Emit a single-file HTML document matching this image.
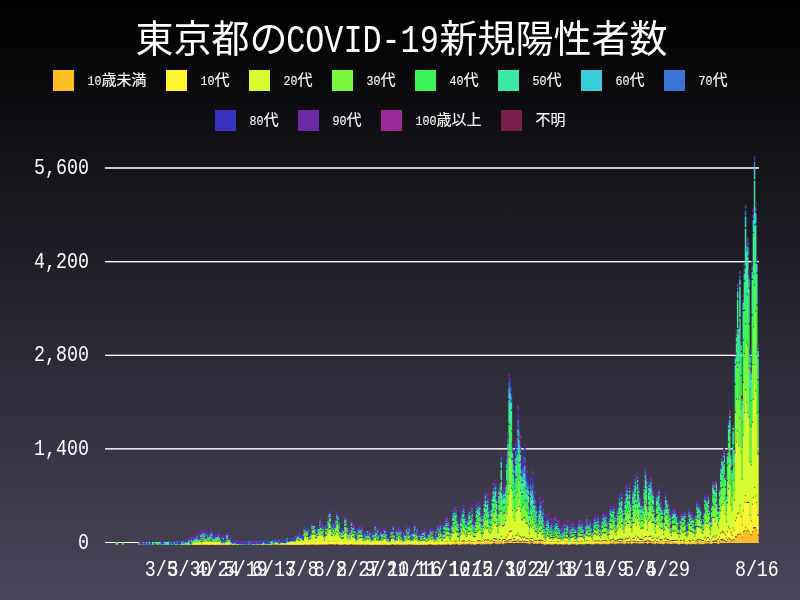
<!DOCTYPE html>
<html lang="ja">
<head>
<meta charset="utf-8">
<title>東京都のCOVID-19新規陽性者数</title>
<style>
html,body{margin:0;padding:0;background:#000;}
body{width:800px;height:600px;overflow:hidden;font-family:"Liberation Mono","Noto Sans CJK JP",monospace;}
.chart{position:relative;width:800px;height:600px;background:linear-gradient(to bottom,#000000 0%,#4a465a 100%);}
svg{position:absolute;left:0;top:0;display:block;}
text{font-family:"Liberation Mono","Noto Sans CJK JP",monospace;fill:#fff;will-change:transform;}
.legend text{stroke:#fff;stroke-width:.1px;}
.grid rect{fill:#fff;}
</style>
</head>
<body>
<div class="chart">
<svg width="800" height="600" viewBox="0 0 800 600">
<g class="grid">
<rect x="105" y="542" width="654" height="1"/>
<rect x="105" y="448" width="654" height="1" fill-opacity="0.86"/>
<rect x="105" y="449" width="654" height="1" fill-opacity="0.55"/>
<rect x="105" y="354" width="654" height="1" fill-opacity="0.33"/>
<rect x="105" y="355" width="654" height="1"/>
<rect x="105" y="261" width="654" height="1"/>
<rect x="105" y="262" width="654" height="1" fill-opacity="0.35"/>
<rect x="105" y="167" width="654" height="1" fill-opacity="0.77"/>
<rect x="105" y="168" width="654" height="1" fill-opacity="0.77"/>
</g>
<g class="bars">
<path fill="#FDBE25" d="M172.86 542.1h1.51V544.83h-1.51zM180.74 542.1h1.51V544.83h-1.51zM187.49 542.1h1.51V544.83h-1.51zM188.62 542.1h1.51V544.77h-1.51zM189.75 542.1h1.51V544.83h-1.51zM193.12 542.1h1.51V544.83h-1.51zM196.5 542.1h1.51V544.63h-1.51zM197.63 542.1h1.51V544.7h-1.51zM198.75 542.1h1.51V544.77h-1.51zM201 542.1h1.51V544.77h-1.51zM203.26 542.1h1.51V544.77h-1.51zM204.38 542.1h1.51V544.57h-1.51zM205.51 542.1h1.51V544.83h-1.51zM206.63 542.1h1.51V544.63h-1.51zM207.76 542.1h1.51V544.83h-1.51zM208.89 542.1h1.51V544.7h-1.51zM210.01 542.1h1.51V544.7h-1.51zM211.14 542.1h1.51V544.5h-1.51zM213.39 542.1h1.51V544.83h-1.51zM214.51 542.1h1.51V544.77h-1.51zM215.64 542.1h1.51V544.63h-1.51zM216.77 542.1h1.51V544.77h-1.51zM217.89 542.1h1.51V544.83h-1.51zM219.02 542.1h1.51V544.83h-1.51zM220.14 542.1h1.51V544.83h-1.51zM222.4 542.1h1.51V544.83h-1.51zM223.52 542.1h1.51V544.83h-1.51zM226.9 542.1h1.51V544.77h-1.51zM228.03 542.1h1.51V544.83h-1.51zM229.15 542.1h1.51V544.77h-1.51zM237.03 542.1h1.51V544.83h-1.51zM248.29 542.1h1.51V544.83h-1.51zM260.68 542.1h1.51V544.83h-1.51zM261.8 542.1h1.51V544.83h-1.51zM266.3 542.1h1.51V544.83h-1.51zM267.43 542.1h1.51V544.83h-1.51zM275.31 542.1h1.51V544.83h-1.51zM277.56 542.1h1.51V544.83h-1.51zM284.32 542.1h1.51V544.83h-1.51zM286.57 542.1h1.51V544.83h-1.51zM288.82 542.1h1.51V544.83h-1.51zM289.95 542.1h1.51V544.77h-1.51zM291.07 542.1h1.51V544.83h-1.51zM292.2 542.1h1.51V544.77h-1.51zM294.45 542.1h1.51V544.83h-1.51zM295.58 542.1h1.51V544.83h-1.51zM296.7 542.1h1.51V544.77h-1.51zM298.95 542.1h1.51V544.83h-1.51zM300.08 542.1h1.51V544.83h-1.51zM301.21 542.1h1.51V544.7h-1.51zM302.33 542.1h1.51V544.7h-1.51zM303.46 542.1h1.51V544.77h-1.51zM304.58 542.1h1.51V544.63h-1.51zM305.71 542.1h1.51V544.83h-1.51zM306.84 542.1h1.51V544.83h-1.51zM307.96 542.1h1.51V544.77h-1.51zM309.09 542.1h1.51V544.77h-1.51zM310.21 542.1h1.51V544.77h-1.51zM311.34 542.1h1.51V544.63h-1.51zM312.46 542.1h1.51V544.5h-1.51zM313.59 542.1h1.51V544.7h-1.51zM314.72 542.1h1.51V544.83h-1.51zM315.84 542.1h1.51V544.63h-1.51zM316.97 542.1h1.51V544.77h-1.51zM318.09 542.1h1.51V544.7h-1.51zM319.22 542.1h1.51V544.77h-1.51zM320.35 542.1h1.51V544.43h-1.51zM321.47 542.1h1.51V544.7h-1.51zM322.6 542.1h1.51V544.77h-1.51zM324.85 542.1h1.51V544.7h-1.51zM325.98 542.1h1.51V544.7h-1.51zM327.1 542.1h1.51V544.63h-1.51zM328.23 542.1h1.51V544.3h-1.51zM329.35 542.1h1.51V544.3h-1.51zM330.48 542.1h1.51V544.57h-1.51zM331.6 542.1h1.51V544.3h-1.51zM332.73 542.1h1.51V544.5h-1.51zM333.86 542.1h1.51V544.63h-1.51zM334.98 542.1h1.51V544.43h-1.51zM336.11 542.1h1.51V544.1h-1.51zM337.23 542.1h1.51V544.7h-1.51zM338.36 542.1h1.51V544.63h-1.51zM339.49 542.1h1.51V544.7h-1.51zM340.61 542.1h1.51V544.83h-1.51zM341.74 542.1h1.51V544.57h-1.51zM342.86 542.1h1.51V544.63h-1.51zM343.99 542.1h1.51V544.3h-1.51zM345.11 542.1h1.51V544.63h-1.51zM346.24 542.1h1.51V544.77h-1.51zM347.37 542.1h1.51V544.83h-1.51zM348.49 542.1h1.51V544.57h-1.51zM349.62 542.1h1.51V544.5h-1.51zM350.74 542.1h1.51V544.37h-1.51zM351.87 542.1h1.51V544.63h-1.51zM353 542.1h1.51V544.5h-1.51zM354.12 542.1h1.51V544.57h-1.51zM355.25 542.1h1.51V544.83h-1.51zM357.5 542.1h1.51V544.83h-1.51zM358.63 542.1h1.51V544.57h-1.51zM359.75 542.1h1.51V544.77h-1.51zM360.88 542.1h1.51V544.63h-1.51zM362 542.1h1.51V544.57h-1.51zM363.13 542.1h1.51V544.63h-1.51zM364.25 542.1h1.51V544.63h-1.51zM365.38 542.1h1.51V544.7h-1.51zM366.51 542.1h1.51V544.57h-1.51zM367.63 542.1h1.51V544.7h-1.51zM368.76 542.1h1.51V544.77h-1.51zM371.01 542.1h1.51V544.83h-1.51zM372.14 542.1h1.51V544.77h-1.51zM373.26 542.1h1.51V544.83h-1.51zM374.39 542.1h1.51V544.7h-1.51zM375.51 542.1h1.51V544.7h-1.51zM376.64 542.1h1.51V544.63h-1.51zM377.76 542.1h1.51V544.7h-1.51zM378.89 542.1h1.51V544.77h-1.51zM380.02 542.1h1.51V544.83h-1.51zM381.14 542.1h1.51V544.7h-1.51zM382.27 542.1h1.51V544.77h-1.51zM383.39 542.1h1.51V544.57h-1.51zM384.52 542.1h1.51V544.77h-1.51zM385.65 542.1h1.51V544.57h-1.51zM386.77 542.1h1.51V544.83h-1.51zM387.9 542.1h1.51V544.83h-1.51zM389.02 542.1h1.51V544.83h-1.51zM390.15 542.1h1.51V544.83h-1.51zM391.28 542.1h1.51V544.16h-1.51zM392.4 542.1h1.51V544.5h-1.51zM393.53 542.1h1.51V544.63h-1.51zM394.65 542.1h1.51V544.77h-1.51zM395.78 542.1h1.51V544.37h-1.51zM396.9 542.1h1.51V544.5h-1.51zM398.03 542.1h1.51V544.77h-1.51zM399.16 542.1h1.51V544.63h-1.51zM400.28 542.1h1.51V544.63h-1.51zM403.66 542.1h1.51V544.43h-1.51zM404.79 542.1h1.51V544.7h-1.51zM405.91 542.1h1.51V544.43h-1.51zM407.04 542.1h1.51V544.7h-1.51zM408.16 542.1h1.51V544.37h-1.51zM409.29 542.1h1.51V544.57h-1.51zM410.41 542.1h1.51V544.7h-1.51zM412.67 542.1h1.51V544.77h-1.51zM413.79 542.1h1.51V544.7h-1.51zM414.92 542.1h1.51V544.77h-1.51zM416.04 542.1h1.51V544.7h-1.51zM417.17 542.1h1.51V544.77h-1.51zM418.3 542.1h1.51V544.83h-1.51zM419.42 542.1h1.51V544.77h-1.51zM420.55 542.1h1.51V544.83h-1.51zM421.67 542.1h1.51V544.77h-1.51zM422.8 542.1h1.51V544.7h-1.51zM423.93 542.1h1.51V544.7h-1.51zM425.05 542.1h1.51V544.77h-1.51zM427.3 542.1h1.51V544.57h-1.51zM428.43 542.1h1.51V544.5h-1.51zM429.55 542.1h1.51V544.57h-1.51zM430.68 542.1h1.51V544.5h-1.51zM432.93 542.1h1.51V544.57h-1.51zM434.06 542.1h1.51V544.77h-1.51zM435.18 542.1h1.51V544.43h-1.51zM436.31 542.1h1.51V544.63h-1.51zM437.44 542.1h1.51V544.83h-1.51zM438.56 542.1h1.51V544.5h-1.51zM439.69 542.1h1.51V544.63h-1.51zM440.81 542.1h1.51V544.77h-1.51zM444.19 542.1h1.51V544.7h-1.51zM445.32 542.1h1.51V544.77h-1.51zM446.44 542.1h1.51V544.5h-1.51zM447.57 542.1h1.51V544.37h-1.51zM448.69 542.1h1.51V544.63h-1.51zM449.82 542.1h1.51V544.77h-1.51zM450.95 542.1h1.51V544.57h-1.51zM452.07 542.1h1.51V544.3h-1.51zM453.2 542.1h1.51V544.57h-1.51zM454.32 542.1h1.51V544.43h-1.51zM455.45 542.1h1.51V544.1h-1.51zM456.58 542.1h1.51V544.3h-1.51zM457.7 542.1h1.51V544.5h-1.51zM458.83 542.1h1.51V544.7h-1.51zM459.95 542.1h1.51V544.23h-1.51zM461.08 542.1h1.51V544.43h-1.51zM462.2 542.1h1.51V544.16h-1.51zM463.33 542.1h1.51V544.37h-1.51zM464.46 542.1h1.51V544.5h-1.51zM465.58 542.1h1.51V544.23h-1.51zM466.71 542.1h1.51V544.37h-1.51zM467.83 542.1h1.51V544.1h-1.51zM468.96 542.1h1.51V543.83h-1.51zM470.09 542.1h1.51V544.57h-1.51zM471.21 542.1h1.51V544.23h-1.51zM472.34 542.1h1.51V544.37h-1.51zM473.46 542.1h1.51V544.77h-1.51zM474.59 542.1h1.51V544.57h-1.51zM475.71 542.1h1.51V544.16h-1.51zM476.84 542.1h1.51V543.96h-1.51zM477.97 542.1h1.51V543.96h-1.51zM479.09 542.1h1.51V544.1h-1.51zM480.22 542.1h1.51V544.23h-1.51zM481.34 542.1h1.51V544.57h-1.51zM482.47 542.1h1.51V544.23h-1.51zM483.6 542.1h1.51V544.37h-1.51zM484.72 542.1h1.51V544.03h-1.51zM485.85 542.1h1.51V544.16h-1.51zM486.97 542.1h1.51V543.63h-1.51zM488.1 542.1h1.51V544.03h-1.51zM489.23 542.1h1.51V544.5h-1.51zM490.35 542.1h1.51V544.03h-1.51zM491.48 542.1h1.51V543.7h-1.51zM492.6 542.1h1.51V543.29h-1.51zM493.73 542.03h1.51V542.9h-1.51zM494.85 542.1h1.51V543.63h-1.51zM495.98 542.1h1.51V543.63h-1.51zM497.11 542.1h1.51V544.23h-1.51zM498.23 542.1h1.51V543.36h-1.51zM499.36 542.1h1.51V544.03h-1.51zM500.48 541.83h1.51V542.9h-1.51zM501.61 542.1h1.51V543.83h-1.51zM502.74 542.1h1.51V544.16h-1.51zM503.86 542.1h1.51V543.36h-1.51zM504.99 542.1h1.51V543.29h-1.51zM506.11 541.49h1.51V542.9h-1.51zM507.24 541.43h1.51V542.9h-1.51zM508.36 540.09h1.51V542.9h-1.51zM509.49 540.56h1.51V542.9h-1.51zM510.62 539.75h1.51V542.9h-1.51zM511.74 541.83h1.51V542.9h-1.51zM512.87 542.1h1.51V543.29h-1.51zM513.99 541.96h1.51V542.9h-1.51zM515.12 541.83h1.51V542.9h-1.51zM516.25 541.56h1.51V542.9h-1.51zM517.37 539.89h1.51V542.9h-1.51zM518.5 542.03h1.51V542.9h-1.51zM519.62 541.83h1.51V542.9h-1.51zM520.75 542.09h1.51V542.9h-1.51zM521.88 541.02h1.51V542.9h-1.51zM523 542.09h1.51V542.9h-1.51zM524.13 541.69h1.51V542.9h-1.51zM525.25 542.1h1.51V543.23h-1.51zM526.38 542.1h1.51V543.23h-1.51zM527.5 542.1h1.51V543.56h-1.51zM528.63 542.1h1.51V544.23h-1.51zM529.76 542.1h1.51V543.36h-1.51zM530.88 541.76h1.51V542.9h-1.51zM532.01 542.1h1.51V543.03h-1.51zM533.13 542.1h1.51V543.9h-1.51zM534.26 542.1h1.51V543.83h-1.51zM535.39 542.1h1.51V543.83h-1.51zM536.51 542.1h1.51V544.03h-1.51zM537.64 542.1h1.51V543.7h-1.51zM538.76 542.1h1.51V543.7h-1.51zM539.89 542.1h1.51V543.29h-1.51zM541.01 542.1h1.51V543.9h-1.51zM542.14 542.1h1.51V543.76h-1.51zM543.27 542.1h1.51V544.43h-1.51zM544.39 542.1h1.51V544.63h-1.51zM545.52 542.1h1.51V544.03h-1.51zM546.64 542.1h1.51V544.43h-1.51zM547.77 542.1h1.51V544.1h-1.51zM548.9 542.1h1.51V544.16h-1.51zM550.02 542.1h1.51V544.43h-1.51zM551.15 542.1h1.51V544.43h-1.51zM552.27 542.1h1.51V544.23h-1.51zM553.4 542.1h1.51V544.37h-1.51zM554.53 542.1h1.51V544.1h-1.51zM555.65 542.1h1.51V543.96h-1.51zM556.78 542.1h1.51V544.5h-1.51zM557.9 542.1h1.51V544.57h-1.51zM559.03 542.1h1.51V544.1h-1.51zM560.15 542.1h1.51V544.37h-1.51zM561.28 542.1h1.51V544.57h-1.51zM562.41 542.1h1.51V544.7h-1.51zM563.53 542.1h1.51V544.23h-1.51zM564.66 542.1h1.51V544.5h-1.51zM565.78 542.1h1.51V544.16h-1.51zM566.91 542.1h1.51V544.16h-1.51zM568.04 542.1h1.51V544.7h-1.51zM569.16 542.1h1.51V544.43h-1.51zM570.29 542.1h1.51V544.3h-1.51zM571.41 542.1h1.51V544.16h-1.51zM572.54 542.1h1.51V544.03h-1.51zM573.66 542.1h1.51V544.57h-1.51zM574.79 542.1h1.51V544.23h-1.51zM575.92 542.1h1.51V544.77h-1.51zM577.04 542.1h1.51V544.3h-1.51zM578.17 542.1h1.51V544.23h-1.51zM579.29 542.1h1.51V544.3h-1.51zM580.42 542.1h1.51V543.96h-1.51zM581.55 542.1h1.51V544.43h-1.51zM582.67 542.1h1.51V544.37h-1.51zM583.8 542.1h1.51V544.5h-1.51zM584.92 542.1h1.51V544.1h-1.51zM586.05 542.1h1.51V544.03h-1.51zM587.18 542.1h1.51V543.9h-1.51zM588.3 542.1h1.51V544.1h-1.51zM589.43 542.1h1.51V543.76h-1.51zM590.55 542.1h1.51V544.16h-1.51zM591.68 542.1h1.51V544.57h-1.51zM592.8 542.1h1.51V544.03h-1.51zM593.93 542.1h1.51V544.3h-1.51zM595.06 542.1h1.51V544.37h-1.51zM596.18 542.1h1.51V544.03h-1.51zM597.31 542.1h1.51V543.63h-1.51zM598.43 542.1h1.51V544.37h-1.51zM599.56 542.1h1.51V544.23h-1.51zM600.69 542.1h1.51V544.1h-1.51zM601.81 542.1h1.51V544.23h-1.51zM602.94 542.1h1.51V543.9h-1.51zM604.06 542.1h1.51V543.96h-1.51zM605.19 542.1h1.51V544.16h-1.51zM606.31 542.1h1.51V544.16h-1.51zM607.44 542.1h1.51V544.23h-1.51zM608.57 542.1h1.51V543.9h-1.51zM609.69 542.1h1.51V543.16h-1.51zM610.82 542.1h1.51V543.83h-1.51zM611.94 542.1h1.51V544.1h-1.51zM613.07 542.1h1.51V543.09h-1.51zM614.2 542.1h1.51V544.23h-1.51zM615.32 542.1h1.51V543.96h-1.51zM616.45 542.1h1.51V543.23h-1.51zM617.57 542.1h1.51V543.76h-1.51zM618.7 542.1h1.51V543.36h-1.51zM619.83 542.1h1.51V543.23h-1.51zM620.95 542.1h1.51V543.56h-1.51zM622.08 542.1h1.51V543.16h-1.51zM623.2 542.1h1.51V544.3h-1.51zM624.33 542.1h1.51V543.9h-1.51zM625.45 542.1h1.51V543.09h-1.51zM626.58 542.1h1.51V543.16h-1.51zM627.71 542.1h1.51V543.83h-1.51zM628.83 542.1h1.51V543.09h-1.51zM629.96 542.1h1.51V543.29h-1.51zM631.08 542.1h1.51V544.16h-1.51zM632.21 542.1h1.51V543.29h-1.51zM633.34 541.49h1.51V542.9h-1.51zM634.46 542.1h1.51V542.96h-1.51zM635.59 542.1h1.51V543.5h-1.51zM636.71 542.1h1.51V543.29h-1.51zM637.84 542.1h1.51V543.16h-1.51zM638.96 542.1h1.51V543.7h-1.51zM640.09 542.1h1.51V543.5h-1.51zM641.22 542.1h1.51V543.5h-1.51zM642.34 542.1h1.51V543.76h-1.51zM643.47 542.1h1.51V543.09h-1.51zM644.59 541.89h1.51V542.9h-1.51zM645.72 541.89h1.51V542.9h-1.51zM646.85 542.1h1.51V543.96h-1.51zM647.97 541.43h1.51V542.9h-1.51zM649.1 541.96h1.51V542.9h-1.51zM650.22 541.76h1.51V542.9h-1.51zM651.35 542.1h1.51V543.63h-1.51zM652.48 542.1h1.51V543.03h-1.51zM653.6 542.1h1.51V543.7h-1.51zM654.73 542.1h1.51V544.16h-1.51zM655.85 542.1h1.51V542.96h-1.51zM656.98 542.1h1.51V543.7h-1.51zM658.1 542.1h1.51V543.29h-1.51zM659.23 542.1h1.51V543.96h-1.51zM660.36 542.1h1.51V543.7h-1.51zM661.48 542.1h1.51V544.03h-1.51zM662.61 542.1h1.51V544.3h-1.51zM663.73 542.1h1.51V543.83h-1.51zM664.86 542.1h1.51V543.16h-1.51zM665.99 542.1h1.51V543.43h-1.51zM667.11 542.1h1.51V543.63h-1.51zM668.24 542.1h1.51V543.36h-1.51zM669.36 542.1h1.51V544.1h-1.51zM670.49 542.1h1.51V543.96h-1.51zM671.61 542.1h1.51V543.83h-1.51zM672.74 542.1h1.51V543.83h-1.51zM673.87 542.1h1.51V543.83h-1.51zM674.99 542.1h1.51V543.83h-1.51zM676.12 542.1h1.51V543.63h-1.51zM677.24 542.1h1.51V543.9h-1.51zM678.37 542.1h1.51V544.57h-1.51zM679.5 542.1h1.51V544.03h-1.51zM680.62 542.1h1.51V543.9h-1.51zM681.75 542.1h1.51V543.96h-1.51zM682.87 542.1h1.51V543.76h-1.51zM684 542.1h1.51V543.63h-1.51zM685.13 542.1h1.51V544.16h-1.51zM686.25 542.1h1.51V544.57h-1.51zM687.38 542.1h1.51V543.83h-1.51zM688.5 542.1h1.51V543.9h-1.51zM689.63 542.1h1.51V544.3h-1.51zM690.75 542.1h1.51V544.23h-1.51zM691.88 542.1h1.51V543.9h-1.51zM693.01 542.1h1.51V543.9h-1.51zM694.13 542.1h1.51V544.37h-1.51zM695.26 542.1h1.51V544.37h-1.51zM696.38 542.1h1.51V543.56h-1.51zM697.51 542.1h1.51V543.36h-1.51zM698.64 542.1h1.51V544.3h-1.51zM699.76 542.1h1.51V543.76h-1.51zM700.89 542.1h1.51V544.03h-1.51zM702.01 542.1h1.51V544.3h-1.51zM703.14 542.1h1.51V544.16h-1.51zM704.26 542.1h1.51V543.43h-1.51zM705.39 542.1h1.51V543.5h-1.51zM706.52 542.1h1.51V543.56h-1.51zM707.64 542.1h1.51V543.36h-1.51zM708.77 542.1h1.51V543.16h-1.51zM709.89 542.1h1.51V544.03h-1.51zM711.02 542.1h1.51V543.7h-1.51zM712.15 541.89h1.51V542.9h-1.51zM713.27 541.76h1.51V542.9h-1.51zM714.4 541.56h1.51V542.9h-1.51zM715.52 541.43h1.51V542.9h-1.51zM716.65 542.1h1.51V543.56h-1.51zM717.78 542.1h1.51V543.9h-1.51zM718.9 541.69h1.51V542.9h-1.51zM720.03 540.22h1.51V542.9h-1.51zM721.15 540.15h1.51V542.9h-1.51zM722.28 540.56h1.51V542.9h-1.51zM723.4 540.69h1.51V542.9h-1.51zM724.53 541.49h1.51V542.9h-1.51zM725.66 542.1h1.51V542.96h-1.51zM726.78 540.22h1.51V542.9h-1.51zM727.91 538.62h1.51V542.9h-1.51zM729.03 539.42h1.51V542.9h-1.51zM730.16 540.49h1.51V542.9h-1.51zM731.29 541.49h1.51V542.9h-1.51zM732.41 539.75h1.51V542.9h-1.51zM733.54 540.49h1.51V542.9h-1.51zM734.66 537.28h1.51V542.9h-1.51zM735.79 537.48h1.51V542.9h-1.51zM736.91 535.27h1.51V542.9h-1.51zM738.04 535.07h1.51V542.9h-1.51zM739.17 533.6h1.51V542.9h-1.51zM740.29 534.87h1.51V542.9h-1.51zM741.42 537.68h1.51V542.9h-1.51zM742.54 532.26h1.51V542.9h-1.51zM743.67 531.13h1.51V542.9h-1.51zM744.8 527.85h1.51V542.9h-1.51zM745.92 531.93h1.51V542.9h-1.51zM747.05 530.39h1.51V542.9h-1.51zM748.17 532.33h1.51V542.9h-1.51zM749.3 534.74h1.51V542.9h-1.51zM750.43 535.54h1.51V542.9h-1.51zM751.55 532.2h1.51V542.9h-1.51zM752.68 528.38h1.51V542.9h-1.51zM753.8 528.18h1.51V542.9h-1.51zM754.93 528.25h1.51V542.9h-1.51zM756.05 530.66h1.51V542.9h-1.51zM757.18 535.61h1.51V542.9h-1.51z"/>
<path fill="#FFF432" d="M179.61 542.1h1.51V544.83h-1.51zM180.74 542.03h1.51V544.77h-1.51zM188.62 541.97h1.51V544.63h-1.51zM189.75 542.03h1.51V544.77h-1.51zM192 542.1h1.51V544.83h-1.51zM193.12 542.03h1.51V544.77h-1.51zM194.25 542.1h1.51V544.7h-1.51zM195.38 542.1h1.51V544.83h-1.51zM196.5 541.83h1.51V544.43h-1.51zM197.63 541.9h1.51V544.57h-1.51zM198.75 541.97h1.51V544.7h-1.51zM199.88 542.1h1.51V544.7h-1.51zM202.13 542.1h1.51V544.7h-1.51zM203.26 541.97h1.51V544.43h-1.51zM204.38 541.77h1.51V544.37h-1.51zM205.51 542.03h1.51V544.77h-1.51zM206.63 541.83h1.51V544.5h-1.51zM207.76 542.03h1.51V544.77h-1.51zM208.89 541.9h1.51V544.5h-1.51zM210.01 541.9h1.51V544.5h-1.51zM211.14 541.7h1.51V544.43h-1.51zM212.26 542.1h1.51V544.77h-1.51zM213.39 542.03h1.51V544.77h-1.51zM214.51 541.97h1.51V544.7h-1.51zM215.64 541.83h1.51V544.5h-1.51zM216.77 541.97h1.51V544.5h-1.51zM217.89 542.03h1.51V544.37h-1.51zM219.02 542.03h1.51V544.7h-1.51zM221.27 542.1h1.51V544.83h-1.51zM222.4 542.03h1.51V544.63h-1.51zM223.52 542.03h1.51V544.77h-1.51zM224.65 542.1h1.51V544.83h-1.51zM225.77 542.1h1.51V544.83h-1.51zM226.9 541.97h1.51V544.63h-1.51zM228.03 542.03h1.51V544.63h-1.51zM229.15 541.97h1.51V544.43h-1.51zM231.4 542.1h1.51V544.83h-1.51zM232.53 542.1h1.51V544.83h-1.51zM233.65 542.1h1.51V544.83h-1.51zM237.03 542.03h1.51V544.77h-1.51zM240.41 542.1h1.51V544.77h-1.51zM242.66 542.1h1.51V544.83h-1.51zM253.92 542.1h1.51V544.83h-1.51zM261.8 542.03h1.51V544.77h-1.51zM264.05 542.1h1.51V544.83h-1.51zM270.81 542.1h1.51V544.83h-1.51zM273.06 542.1h1.51V544.83h-1.51zM275.31 542.03h1.51V544.43h-1.51zM277.56 542.03h1.51V544.77h-1.51zM279.81 542.1h1.51V544.83h-1.51zM280.94 542.1h1.51V544.77h-1.51zM282.07 542.1h1.51V544.7h-1.51zM283.19 542.1h1.51V544.77h-1.51zM285.44 542.1h1.51V544.7h-1.51zM286.57 542.03h1.51V544.7h-1.51zM287.7 542.1h1.51V544.83h-1.51zM288.82 542.03h1.51V544.7h-1.51zM289.95 541.97h1.51V544.7h-1.51zM291.07 542.03h1.51V544.57h-1.51zM292.2 541.97h1.51V544.63h-1.51zM293.33 542.1h1.51V544.7h-1.51zM294.45 542.03h1.51V544.7h-1.51zM295.58 542.03h1.51V544.77h-1.51zM296.7 541.97h1.51V544.57h-1.51zM297.83 542.1h1.51V544.7h-1.51zM298.95 542.03h1.51V544.7h-1.51zM300.08 542.03h1.51V544.5h-1.51zM301.21 541.9h1.51V544.43h-1.51zM302.33 541.9h1.51V544.5h-1.51zM303.46 541.97h1.51V544.23h-1.51zM304.58 541.83h1.51V543.96h-1.51zM305.71 542.03h1.51V544.16h-1.51zM306.84 542.03h1.51V544.43h-1.51zM307.96 541.97h1.51V544.57h-1.51zM309.09 541.97h1.51V544.57h-1.51zM310.21 541.97h1.51V544.1h-1.51zM311.34 541.83h1.51V544.23h-1.51zM312.46 541.7h1.51V543.83h-1.51zM313.59 541.9h1.51V543.96h-1.51zM314.72 542.03h1.51V544.5h-1.51zM315.84 541.83h1.51V544.3h-1.51zM316.97 541.97h1.51V544.37h-1.51zM318.09 541.9h1.51V544.3h-1.51zM319.22 541.97h1.51V543.9h-1.51zM320.35 541.63h1.51V544.16h-1.51zM321.47 541.9h1.51V543.83h-1.51zM322.6 541.97h1.51V544.3h-1.51zM323.72 542.1h1.51V544.23h-1.51zM324.85 541.9h1.51V543.9h-1.51zM325.98 541.9h1.51V543.9h-1.51zM327.1 541.83h1.51V543.63h-1.51zM328.23 541.5h1.51V543.29h-1.51zM329.35 541.5h1.51V543.43h-1.51zM330.48 541.77h1.51V544.03h-1.51zM331.6 541.5h1.51V543.83h-1.51zM332.73 541.7h1.51V543.5h-1.51zM333.86 541.83h1.51V543.96h-1.51zM334.98 541.63h1.51V543.9h-1.51zM336.11 541.3h1.51V543.16h-1.51zM337.23 541.9h1.51V543.43h-1.51zM338.36 541.83h1.51V544.03h-1.51zM339.49 541.9h1.51V544.23h-1.51zM340.61 542.03h1.51V544.5h-1.51zM341.74 541.77h1.51V544.03h-1.51zM342.86 541.83h1.51V544.37h-1.51zM343.99 541.5h1.51V543.43h-1.51zM345.11 541.83h1.51V543.9h-1.51zM346.24 541.97h1.51V544.3h-1.51zM347.37 542.03h1.51V544.5h-1.51zM348.49 541.77h1.51V543.9h-1.51zM349.62 541.7h1.51V544.3h-1.51zM350.74 541.57h1.51V543.9h-1.51zM351.87 541.83h1.51V544.23h-1.51zM353 541.7h1.51V544.03h-1.51zM354.12 541.77h1.51V544.23h-1.51zM355.25 542.03h1.51V544.57h-1.51zM356.37 542.1h1.51V544.5h-1.51zM357.5 542.03h1.51V544.43h-1.51zM358.63 541.77h1.51V544.3h-1.51zM359.75 541.97h1.51V544.16h-1.51zM360.88 541.83h1.51V544.43h-1.51zM362 541.77h1.51V544.1h-1.51zM363.13 541.83h1.51V544.16h-1.51zM364.25 541.83h1.51V544.43h-1.51zM365.38 541.9h1.51V544.37h-1.51zM366.51 541.77h1.51V544.3h-1.51zM367.63 541.9h1.51V544.37h-1.51zM368.76 541.97h1.51V544.23h-1.51zM369.88 542.1h1.51V544.77h-1.51zM371.01 542.03h1.51V544.7h-1.51zM372.14 541.97h1.51V544.37h-1.51zM373.26 542.03h1.51V544.7h-1.51zM374.39 541.9h1.51V544.1h-1.51zM375.51 541.9h1.51V544.5h-1.51zM376.64 541.83h1.51V544.16h-1.51zM377.76 541.9h1.51V544.5h-1.51zM378.89 541.97h1.51V544.63h-1.51zM380.02 542.03h1.51V544.3h-1.51zM381.14 541.9h1.51V544.3h-1.51zM382.27 541.97h1.51V544.43h-1.51zM383.39 541.77h1.51V544.16h-1.51zM384.52 541.97h1.51V544.16h-1.51zM385.65 541.77h1.51V544.23h-1.51zM386.77 542.03h1.51V544.63h-1.51zM387.9 542.03h1.51V544.57h-1.51zM389.02 542.03h1.51V544.63h-1.51zM390.15 542.03h1.51V544.16h-1.51zM391.28 541.36h1.51V543.76h-1.51zM392.4 541.7h1.51V543.96h-1.51zM393.53 541.83h1.51V544.3h-1.51zM394.65 541.97h1.51V544.63h-1.51zM395.78 541.57h1.51V544.16h-1.51zM396.9 541.7h1.51V544.03h-1.51zM398.03 541.97h1.51V544.23h-1.51zM399.16 541.83h1.51V544.16h-1.51zM400.28 541.83h1.51V544.3h-1.51zM401.41 542.1h1.51V544.57h-1.51zM402.53 542.1h1.51V544.7h-1.51zM403.66 541.63h1.51V544.16h-1.51zM404.79 541.9h1.51V544.5h-1.51zM405.91 541.63h1.51V543.83h-1.51zM407.04 541.9h1.51V544.3h-1.51zM408.16 541.57h1.51V543.83h-1.51zM409.29 541.77h1.51V543.9h-1.51zM410.41 541.9h1.51V544.43h-1.51zM411.54 542.1h1.51V544.43h-1.51zM412.67 541.97h1.51V544.3h-1.51zM413.79 541.9h1.51V544.23h-1.51zM414.92 541.97h1.51V544.57h-1.51zM416.04 541.9h1.51V544.3h-1.51zM417.17 541.97h1.51V544.43h-1.51zM418.3 542.03h1.51V544.63h-1.51zM419.42 541.97h1.51V544.5h-1.51zM420.55 542.03h1.51V544.37h-1.51zM421.67 541.97h1.51V544.16h-1.51zM422.8 541.9h1.51V544.5h-1.51zM423.93 541.9h1.51V544.03h-1.51zM425.05 541.97h1.51V544.57h-1.51zM426.18 542.1h1.51V544.63h-1.51zM427.3 541.77h1.51V544.23h-1.51zM428.43 541.7h1.51V544.1h-1.51zM429.55 541.77h1.51V543.83h-1.51zM430.68 541.7h1.51V544.03h-1.51zM431.81 542.1h1.51V544.7h-1.51zM432.93 541.77h1.51V544.16h-1.51zM434.06 541.97h1.51V544.63h-1.51zM435.18 541.63h1.51V544.16h-1.51zM436.31 541.83h1.51V544.37h-1.51zM437.44 542.03h1.51V543.76h-1.51zM438.56 541.7h1.51V543.76h-1.51zM439.69 541.83h1.51V544.16h-1.51zM440.81 541.97h1.51V544.23h-1.51zM441.94 542.1h1.51V544.5h-1.51zM443.06 542.1h1.51V544.57h-1.51zM444.19 541.9h1.51V543.76h-1.51zM445.32 541.97h1.51V543.76h-1.51zM446.44 541.7h1.51V543.29h-1.51zM447.57 541.57h1.51V543.36h-1.51zM448.69 541.83h1.51V543.96h-1.51zM449.82 541.97h1.51V544.43h-1.51zM450.95 541.77h1.51V543.7h-1.51zM452.07 541.5h1.51V542.96h-1.51zM453.2 541.77h1.51V543.43h-1.51zM454.32 541.63h1.51V542.69h-1.51zM455.45 541.3h1.51V542.56h-1.51zM456.58 541.5h1.51V543.36h-1.51zM457.7 541.7h1.51V543.63h-1.51zM458.83 541.9h1.51V544.5h-1.51zM459.95 541.43h1.51V543.29h-1.51zM461.08 541.63h1.51V543.09h-1.51zM462.2 541.22h1.51V542.16h-1.51zM463.33 541.56h1.51V542.37h-1.51zM464.46 541.7h1.51V543.36h-1.51zM465.58 541.43h1.51V543.36h-1.51zM466.71 541.57h1.51V543.09h-1.51zM467.83 541.3h1.51V542.49h-1.51zM468.96 541.03h1.51V542.09h-1.51zM470.09 541.77h1.51V543.03h-1.51zM471.21 541.43h1.51V542.63h-1.51zM472.34 541.57h1.51V543.23h-1.51zM473.46 541.97h1.51V543.56h-1.51zM474.59 541.77h1.51V543.83h-1.51zM475.71 541.36h1.51V543.23h-1.51zM476.84 541.16h1.51V542.36h-1.51zM477.97 541.16h1.51V542.09h-1.51zM479.09 541.3h1.51V542.16h-1.51zM480.22 541.43h1.51V542.43h-1.51zM481.34 541.77h1.51V543.56h-1.51zM482.47 541.43h1.51V543.16h-1.51zM483.6 540.96h1.51V542.37h-1.51zM484.72 540.22h1.51V542.03h-1.51zM485.85 541.36h1.51V542.36h-1.51zM486.97 540.22h1.51V541.63h-1.51zM488.1 540.69h1.51V542.03h-1.51zM489.23 541.7h1.51V542.69h-1.51zM490.35 541.23h1.51V542.16h-1.51zM491.48 540.62h1.51V541.7h-1.51zM492.6 539.08h1.51V541.29h-1.51zM493.73 539.15h1.51V540.83h-1.51zM494.85 539.75h1.51V541.63h-1.51zM495.98 539.69h1.51V541.63h-1.51zM497.11 541.43h1.51V542.36h-1.51zM498.23 540.09h1.51V541.36h-1.51zM499.36 540.09h1.51V542.03h-1.51zM500.48 537.01h1.51V540.63h-1.51zM501.61 540.96h1.51V541.83h-1.51zM502.74 540.09h1.51V542.16h-1.51zM503.86 540.15h1.51V541.36h-1.51zM504.99 539.69h1.51V541.29h-1.51zM506.11 537.21h1.51V540.29h-1.51zM507.24 535.67h1.51V540.23h-1.51zM508.36 532.4h1.51V538.89h-1.51zM509.49 532h1.51V539.36h-1.51zM510.62 531.46h1.51V538.55h-1.51zM511.74 536.74h1.51V540.63h-1.51zM512.87 539.15h1.51V541.29h-1.51zM513.99 539.15h1.51V540.76h-1.51zM515.12 536.34h1.51V540.63h-1.51zM516.25 535.67h1.51V540.36h-1.51zM517.37 533.47h1.51V538.69h-1.51zM518.5 536.41h1.51V540.83h-1.51zM519.62 537.28h1.51V540.63h-1.51zM520.75 538.48h1.51V540.89h-1.51zM521.88 537.48h1.51V539.82h-1.51zM523 538.08h1.51V540.89h-1.51zM524.13 537.55h1.51V540.49h-1.51zM525.25 539.35h1.51V541.23h-1.51zM526.38 539.02h1.51V541.23h-1.51zM527.5 539.69h1.51V541.56h-1.51zM528.63 541.16h1.51V542.23h-1.51zM529.76 539.28h1.51V541.36h-1.51zM530.88 539.08h1.51V540.56h-1.51zM532.01 538.82h1.51V541.03h-1.51zM533.13 540.62h1.51V541.9h-1.51zM534.26 541.03h1.51V541.89h-1.51zM535.39 540.96h1.51V541.83h-1.51zM536.51 541.23h1.51V542.83h-1.51zM537.64 540.9h1.51V541.89h-1.51zM538.76 540.9h1.51V541.76h-1.51zM539.89 540.5h1.51V541.42h-1.51zM541.01 541.1h1.51V542.09h-1.51zM542.14 540.96h1.51V542.09h-1.51zM543.27 541.63h1.51V543.29h-1.51zM544.39 541.83h1.51V543.56h-1.51zM545.52 541.23h1.51V542.83h-1.51zM546.64 541.63h1.51V543.63h-1.51zM547.77 541.3h1.51V543.29h-1.51zM548.9 541.36h1.51V543.03h-1.51zM550.02 541.63h1.51V543.5h-1.51zM551.15 541.63h1.51V543.23h-1.51zM552.27 541.43h1.51V543.7h-1.51zM553.4 541.57h1.51V543.09h-1.51zM554.53 541.3h1.51V543.23h-1.51zM555.65 541.16h1.51V542.63h-1.51zM556.78 541.7h1.51V543.29h-1.51zM557.9 541.77h1.51V543.29h-1.51zM559.03 541.3h1.51V543.43h-1.51zM560.15 541.57h1.51V543.83h-1.51zM561.28 541.77h1.51V543.83h-1.51zM562.41 541.9h1.51V544.03h-1.51zM563.53 541.43h1.51V543.09h-1.51zM564.66 541.7h1.51V543.76h-1.51zM565.78 541.36h1.51V543.09h-1.51zM566.91 541.36h1.51V543.09h-1.51zM568.04 541.9h1.51V544.23h-1.51zM569.16 541.63h1.51V543.96h-1.51zM570.29 541.5h1.51V543.36h-1.51zM571.41 541.36h1.51V543.23h-1.51zM572.54 541.23h1.51V543.56h-1.51zM573.66 541.77h1.51V543.36h-1.51zM574.79 541.43h1.51V543.29h-1.51zM575.92 541.97h1.51V544.23h-1.51zM577.04 541.5h1.51V543.16h-1.51zM578.17 541.43h1.51V543.23h-1.51zM579.29 541.5h1.51V543.23h-1.51zM580.42 541.16h1.51V542.56h-1.51zM581.55 541.63h1.51V543.29h-1.51zM582.67 541.57h1.51V543.63h-1.51zM583.8 541.7h1.51V543.9h-1.51zM584.92 541.3h1.51V542.76h-1.51zM586.05 541.09h1.51V542.03h-1.51zM587.18 541.1h1.51V542.63h-1.51zM588.3 541.3h1.51V542.83h-1.51zM589.43 540.96h1.51V542.63h-1.51zM590.55 541.36h1.51V543.43h-1.51zM591.68 541.77h1.51V543.83h-1.51zM592.8 541.23h1.51V542.69h-1.51zM593.93 541.5h1.51V542.76h-1.51zM595.06 541.22h1.51V542.37h-1.51zM596.18 541.23h1.51V542.69h-1.51zM597.31 540.83h1.51V542.02h-1.51zM598.43 541.57h1.51V542.56h-1.51zM599.56 541.43h1.51V543.03h-1.51zM600.69 541.3h1.51V542.56h-1.51zM601.81 541.43h1.51V542.43h-1.51zM602.94 541.1h1.51V542.36h-1.51zM604.06 541.02h1.51V541.96h-1.51zM605.19 541.36h1.51V542.36h-1.51zM606.31 541.36h1.51V542.43h-1.51zM607.44 541.43h1.51V543.29h-1.51zM608.57 540.96h1.51V541.9h-1.51zM609.69 540.36h1.51V541.42h-1.51zM610.82 540.96h1.51V541.83h-1.51zM611.94 539.95h1.51V542.1h-1.51zM613.07 539.82h1.51V541.09h-1.51zM614.2 541.29h1.51V542.23h-1.51zM615.32 541.16h1.51V542.16h-1.51zM616.45 540.43h1.51V541.29h-1.51zM617.57 540.56h1.51V541.76h-1.51zM618.7 539.75h1.51V541.36h-1.51zM619.83 539.49h1.51V541.23h-1.51zM620.95 540.02h1.51V541.56h-1.51zM622.08 539.95h1.51V541.16h-1.51zM623.2 540.96h1.51V542.3h-1.51zM624.33 539.69h1.51V541.9h-1.51zM625.45 538.75h1.51V541.09h-1.51zM626.58 539.49h1.51V541.16h-1.51zM627.71 538.75h1.51V541.83h-1.51zM628.83 537.61h1.51V541.09h-1.51zM629.96 539.62h1.51V541.29h-1.51zM631.08 541.36h1.51V542.49h-1.51zM632.21 538.95h1.51V541.29h-1.51zM633.34 538.95h1.51V540.29h-1.51zM634.46 536.81h1.51V540.96h-1.51zM635.59 539.82h1.51V541.5h-1.51zM636.71 537.48h1.51V541.29h-1.51zM637.84 538.48h1.51V541.16h-1.51zM638.96 539.82h1.51V541.7h-1.51zM640.09 540.02h1.51V541.5h-1.51zM641.22 540.02h1.51V541.5h-1.51zM642.34 540.42h1.51V541.76h-1.51zM643.47 538.15h1.51V541.09h-1.51zM644.59 536.94h1.51V540.69h-1.51zM645.72 537.35h1.51V540.69h-1.51zM646.85 540.89h1.51V541.96h-1.51zM647.97 537.35h1.51V540.23h-1.51zM649.1 537.01h1.51V540.76h-1.51zM650.22 536.81h1.51V540.56h-1.51zM651.35 539.08h1.51V541.63h-1.51zM652.48 538.68h1.51V541.03h-1.51zM653.6 540.9h1.51V542.16h-1.51zM654.73 541.36h1.51V542.49h-1.51zM655.85 538.82h1.51V540.96h-1.51zM656.98 539.42h1.51V541.7h-1.51zM658.1 537.75h1.51V541.29h-1.51zM659.23 540.15h1.51V541.96h-1.51zM660.36 540.42h1.51V541.7h-1.51zM661.48 540.49h1.51V542.03h-1.51zM662.61 541.5h1.51V542.96h-1.51zM663.73 539.89h1.51V541.83h-1.51zM664.86 538.75h1.51V541.16h-1.51zM665.99 540.29h1.51V541.43h-1.51zM667.11 540.02h1.51V541.63h-1.51zM668.24 540.42h1.51V541.36h-1.51zM669.36 541.3h1.51V542.49h-1.51zM670.49 541.16h1.51V542.23h-1.51zM671.61 540.89h1.51V541.83h-1.51zM672.74 541.03h1.51V541.96h-1.51zM673.87 541.03h1.51V541.89h-1.51zM674.99 541.03h1.51V541.96h-1.51zM676.12 540.83h1.51V542.36h-1.51zM677.24 541.1h1.51V542.09h-1.51zM678.37 541.77h1.51V543.7h-1.51zM679.5 541.02h1.51V542.03h-1.51zM680.62 541.1h1.51V542.09h-1.51zM681.75 541.16h1.51V542.76h-1.51zM682.87 540.76h1.51V541.76h-1.51zM684 540.62h1.51V541.63h-1.51zM685.13 541.36h1.51V542.89h-1.51zM686.25 541.77h1.51V543.5h-1.51zM687.38 541.03h1.51V542.69h-1.51zM688.5 541.09h1.51V541.9h-1.51zM689.63 541.43h1.51V542.3h-1.51zM690.75 541.43h1.51V542.89h-1.51zM691.88 540.42h1.51V541.9h-1.51zM693.01 541.1h1.51V541.96h-1.51zM694.13 541.57h1.51V542.96h-1.51zM695.26 541.43h1.51V542.37h-1.51zM696.38 540.42h1.51V541.56h-1.51zM697.51 540.02h1.51V541.36h-1.51zM698.64 540.82h1.51V542.3h-1.51zM699.76 540.22h1.51V541.76h-1.51zM700.89 541.23h1.51V542.36h-1.51zM702.01 541.22h1.51V542.3h-1.51zM703.14 540.96h1.51V542.16h-1.51zM704.26 537.75h1.51V541.43h-1.51zM705.39 539.82h1.51V541.5h-1.51zM706.52 538.42h1.51V541.56h-1.51zM707.64 538.08h1.51V541.36h-1.51zM708.77 540.02h1.51V541.16h-1.51zM709.89 541.23h1.51V542.56h-1.51zM711.02 539.62h1.51V541.7h-1.51zM712.15 537.41h1.51V540.69h-1.51zM713.27 536.54h1.51V540.56h-1.51zM714.4 538.22h1.51V540.36h-1.51zM715.52 536.41h1.51V540.23h-1.51zM716.65 540.49h1.51V541.56h-1.51zM717.78 539.62h1.51V541.9h-1.51zM718.9 537.35h1.51V540.49h-1.51zM720.03 534h1.51V539.02h-1.51zM721.15 532.46h1.51V538.95h-1.51zM722.28 532.4h1.51V539.36h-1.51zM723.4 533.47h1.51V539.49h-1.51zM724.53 535.47h1.51V540.29h-1.51zM725.66 538.42h1.51V540.96h-1.51zM726.78 532.13h1.51V539.02h-1.51zM727.91 527.72h1.51V537.42h-1.51zM729.03 529.19h1.51V538.22h-1.51zM730.16 533.27h1.51V539.29h-1.51zM731.29 535.94h1.51V540.29h-1.51zM732.41 528.59h1.51V538.55h-1.51zM733.54 530.93h1.51V539.29h-1.51zM734.66 520.96h1.51V536.08h-1.51zM735.79 518.42h1.51V536.28h-1.51zM736.91 514.21h1.51V534.07h-1.51zM738.04 513.47h1.51V533.87h-1.51zM739.17 505.85h1.51V532.4h-1.51zM740.29 516.95h1.51V533.67h-1.51zM741.42 525.51h1.51V536.48h-1.51zM742.54 511.33h1.51V531.06h-1.51zM743.67 502.84h1.51V529.93h-1.51zM744.8 496.15h1.51V526.65h-1.51zM745.92 502.91h1.51V530.73h-1.51zM747.05 502.97h1.51V529.19h-1.51zM748.17 503.24h1.51V531.13h-1.51zM749.3 515.88h1.51V533.54h-1.51zM750.43 521.36h1.51V534.34h-1.51zM751.55 504.78h1.51V531h-1.51zM752.68 498.56h1.51V527.18h-1.51zM753.8 487.93h1.51V526.98h-1.51zM754.93 496.82h1.51V527.05h-1.51zM756.05 502.91h1.51V529.46h-1.51zM757.18 515.81h1.51V534.41h-1.51z"/>
<path fill="#D6FC30" d="M141.33 542.1h1.51V544.83h-1.51zM144.71 542.1h1.51V544.83h-1.51zM152.59 542.1h1.51V544.83h-1.51zM161.6 542.1h1.51V544.83h-1.51zM162.73 542.1h1.51V544.83h-1.51zM166.1 542.1h1.51V544.83h-1.51zM168.35 542.1h1.51V544.63h-1.51zM171.73 542.1h1.51V544.83h-1.51zM176.24 542.1h1.51V544.83h-1.51zM177.36 542.1h1.51V544.83h-1.51zM178.49 542.1h1.51V544.7h-1.51zM180.74 541.97h1.51V544.7h-1.51zM181.86 542.1h1.51V544.83h-1.51zM182.99 542.1h1.51V544.77h-1.51zM184.12 542.1h1.51V544.63h-1.51zM185.24 542.1h1.51V544.57h-1.51zM186.37 542.1h1.51V544.63h-1.51zM187.49 542.03h1.51V544.03h-1.51zM188.62 541.83h1.51V544.03h-1.51zM189.75 541.97h1.51V544.7h-1.51zM190.87 542.1h1.51V544.1h-1.51zM192 542.03h1.51V544.3h-1.51zM193.12 541.97h1.51V543.29h-1.51zM194.25 541.9h1.51V543.76h-1.51zM195.38 542.03h1.51V544.03h-1.51zM196.5 541.63h1.51V542.83h-1.51zM197.63 541.77h1.51V543.56h-1.51zM198.75 541.9h1.51V543.7h-1.51zM199.88 541.89h1.51V542.7h-1.51zM201 541.69h1.51V542.77h-1.51zM202.13 541.83h1.51V542.7h-1.51zM203.26 541.16h1.51V542.43h-1.51zM204.38 541.57h1.51V542.76h-1.51zM205.51 541.97h1.51V543.5h-1.51zM206.63 541.29h1.51V542.5h-1.51zM207.76 541.97h1.51V543.56h-1.51zM208.89 541.36h1.51V542.5h-1.51zM210.01 541.69h1.51V542.5h-1.51zM211.14 541.49h1.51V542.43h-1.51zM212.26 541.97h1.51V543.16h-1.51zM213.39 541.97h1.51V543.23h-1.51zM214.51 541.9h1.51V543.16h-1.51zM215.64 541.7h1.51V543.03h-1.51zM216.77 541.7h1.51V542.56h-1.51zM217.89 541.22h1.51V542.37h-1.51zM219.02 541.9h1.51V542.96h-1.51zM220.14 542.03h1.51V544.03h-1.51zM221.27 542.03h1.51V544.3h-1.51zM222.4 541.83h1.51V543.5h-1.51zM223.52 541.97h1.51V544.5h-1.51zM224.65 542.03h1.51V544.23h-1.51zM225.77 541.96h1.51V542.83h-1.51zM226.9 541.83h1.51V542.83h-1.51zM228.03 541.83h1.51V543.7h-1.51zM229.15 541.63h1.51V543.63h-1.51zM230.28 542.1h1.51V544.1h-1.51zM231.4 542.03h1.51V544.63h-1.51zM232.53 542.03h1.51V544.57h-1.51zM233.65 542.03h1.51V544.7h-1.51zM234.78 542.1h1.51V544.3h-1.51zM235.91 542.1h1.51V544.63h-1.51zM237.03 541.97h1.51V544.57h-1.51zM238.16 542.1h1.51V544.63h-1.51zM239.28 542.1h1.51V544.77h-1.51zM240.41 541.97h1.51V544.43h-1.51zM241.54 542.1h1.51V544.7h-1.51zM242.66 542.03h1.51V544.57h-1.51zM243.79 542.1h1.51V544.83h-1.51zM244.91 542.1h1.51V544.7h-1.51zM246.04 542.1h1.51V544.83h-1.51zM247.16 542.1h1.51V544.77h-1.51zM248.29 542.03h1.51V544.7h-1.51zM250.54 542.1h1.51V544.83h-1.51zM251.67 542.1h1.51V544.63h-1.51zM252.79 542.1h1.51V544.63h-1.51zM253.92 542.03h1.51V544.57h-1.51zM255.05 542.1h1.51V544.83h-1.51zM256.17 542.1h1.51V544.7h-1.51zM257.3 542.1h1.51V544.43h-1.51zM258.42 542.1h1.51V544.57h-1.51zM259.55 542.1h1.51V544.7h-1.51zM260.68 542.03h1.51V544.63h-1.51zM261.8 541.97h1.51V544.3h-1.51zM262.93 542.1h1.51V544.57h-1.51zM264.05 542.03h1.51V543.9h-1.51zM265.18 542.1h1.51V544.3h-1.51zM266.3 542.03h1.51V544.5h-1.51zM267.43 542.03h1.51V544.5h-1.51zM268.56 542.1h1.51V544.63h-1.51zM269.68 542.1h1.51V544.7h-1.51zM270.81 542.03h1.51V544.1h-1.51zM271.93 542.1h1.51V544.23h-1.51zM273.06 542.03h1.51V543.76h-1.51zM274.19 542.1h1.51V544.23h-1.51zM275.31 541.63h1.51V542.83h-1.51zM276.44 542.1h1.51V543.09h-1.51zM277.56 541.97h1.51V543.83h-1.51zM278.69 542.1h1.51V544.57h-1.51zM279.81 542.03h1.51V543.7h-1.51zM280.94 541.97h1.51V543.83h-1.51zM282.07 541.9h1.51V543.56h-1.51zM283.19 541.97h1.51V543.7h-1.51zM284.32 542.03h1.51V544.23h-1.51zM285.44 541.9h1.51V543.83h-1.51zM286.57 541.56h1.51V542.7h-1.51zM287.7 542.03h1.51V543.03h-1.51zM288.82 541.9h1.51V543.29h-1.51zM289.95 541.9h1.51V542.83h-1.51zM291.07 541.77h1.51V542.83h-1.51zM292.2 541.83h1.51V542.63h-1.51zM293.33 541.9h1.51V543.29h-1.51zM294.45 541.9h1.51V543.09h-1.51zM295.58 540.36h1.51V542.77h-1.51zM296.7 539.75h1.51V542.57h-1.51zM297.83 540.49h1.51V542.7h-1.51zM298.95 540.96h1.51V542.7h-1.51zM300.08 540.22h1.51V542.5h-1.51zM301.21 540.09h1.51V542.43h-1.51zM302.33 541.16h1.51V542.5h-1.51zM303.46 537.35h1.51V542.23h-1.51zM304.58 535.81h1.51V541.96h-1.51zM305.71 537.41h1.51V542.16h-1.51zM306.84 536.81h1.51V542.43h-1.51zM307.96 540.29h1.51V542.57h-1.51zM309.09 539.49h1.51V542.57h-1.51zM310.21 539.08h1.51V542.1h-1.51zM311.34 534.94h1.51V542.23h-1.51zM312.46 534.2h1.51V541.83h-1.51zM313.59 534.67h1.51V541.96h-1.51zM314.72 538.15h1.51V542.5h-1.51zM315.84 538.22h1.51V542.3h-1.51zM316.97 536.21h1.51V542.37h-1.51zM318.09 535.61h1.51V542.3h-1.51zM319.22 532.93h1.51V541.9h-1.51zM320.35 535.74h1.51V542.16h-1.51zM321.47 534.67h1.51V541.83h-1.51zM322.6 537.28h1.51V542.3h-1.51zM323.72 540.42h1.51V542.23h-1.51zM324.85 535.41h1.51V541.9h-1.51zM325.98 535.94h1.51V541.9h-1.51zM327.1 533.8h1.51V541.63h-1.51zM328.23 529.52h1.51V541.29h-1.51zM329.35 529.39h1.51V541.43h-1.51zM330.48 535.67h1.51V542.03h-1.51zM331.6 536.34h1.51V541.83h-1.51zM332.73 534h1.51V541.5h-1.51zM333.86 535.87h1.51V541.96h-1.51zM334.98 534.2h1.51V541.9h-1.51zM336.11 531.86h1.51V541.16h-1.51zM337.23 533.2h1.51V541.43h-1.51zM338.36 535.67h1.51V542.03h-1.51zM339.49 537.68h1.51V542.23h-1.51zM340.61 538.95h1.51V542.5h-1.51zM341.74 538.82h1.51V542.03h-1.51zM342.86 538.42h1.51V542.37h-1.51zM343.99 533.47h1.51V541.43h-1.51zM345.11 532.6h1.51V541.9h-1.51zM346.24 537.75h1.51V542.3h-1.51zM347.37 539.82h1.51V542.5h-1.51zM348.49 538.08h1.51V541.9h-1.51zM349.62 539.62h1.51V542.3h-1.51zM350.74 534.87h1.51V541.9h-1.51zM351.87 537.21h1.51V542.23h-1.51zM353 537.48h1.51V542.03h-1.51zM354.12 538.42h1.51V542.23h-1.51zM355.25 541.77h1.51V542.76h-1.51zM356.37 540.09h1.51V542.5h-1.51zM357.5 539.42h1.51V542.43h-1.51zM358.63 538.35h1.51V542.3h-1.51zM359.75 538.22h1.51V542.16h-1.51zM360.88 537.68h1.51V542.43h-1.51zM362 540.56h1.51V542.1h-1.51zM363.13 541.36h1.51V542.29h-1.51zM364.25 540.36h1.51V542.43h-1.51zM365.38 540.82h1.51V542.37h-1.51zM366.51 539.22h1.51V542.3h-1.51zM367.63 540.29h1.51V542.37h-1.51zM368.76 539.15h1.51V542.23h-1.51zM369.88 541.36h1.51V542.77h-1.51zM371.01 541.9h1.51V543.29h-1.51zM372.14 539.95h1.51V542.37h-1.51zM373.26 541.09h1.51V542.7h-1.51zM374.39 537.41h1.51V542.1h-1.51zM375.51 540.42h1.51V542.5h-1.51zM376.64 540.15h1.51V542.16h-1.51zM377.76 541.09h1.51V542.5h-1.51zM378.89 541.83h1.51V542.83h-1.51zM380.02 540.29h1.51V542.3h-1.51zM381.14 541.09h1.51V542.3h-1.51zM382.27 539.89h1.51V542.43h-1.51zM383.39 538.68h1.51V542.16h-1.51zM384.52 539.22h1.51V542.16h-1.51zM385.65 540.89h1.51V542.23h-1.51zM386.77 541.76h1.51V542.63h-1.51zM387.9 541.77h1.51V542.69h-1.51zM389.02 541.83h1.51V543.63h-1.51zM390.15 539.02h1.51V542.16h-1.51zM391.28 539.02h1.51V541.76h-1.51zM392.4 538.42h1.51V541.96h-1.51zM393.53 540.89h1.51V542.3h-1.51zM394.65 541.83h1.51V543.16h-1.51zM395.78 540.22h1.51V542.16h-1.51zM396.9 540.56h1.51V542.03h-1.51zM398.03 538.68h1.51V542.23h-1.51zM399.16 540.49h1.51V542.16h-1.51zM400.28 539.82h1.51V542.3h-1.51zM401.41 541.77h1.51V542.63h-1.51zM402.53 541.9h1.51V543.5h-1.51zM403.66 540.42h1.51V542.16h-1.51zM404.79 540.76h1.51V542.5h-1.51zM405.91 538.68h1.51V541.83h-1.51zM407.04 539.95h1.51V542.3h-1.51zM408.16 539.69h1.51V541.83h-1.51zM409.29 540.56h1.51V541.9h-1.51zM410.41 541.63h1.51V542.96h-1.51zM411.54 540.42h1.51V542.43h-1.51zM412.67 540.69h1.51V542.3h-1.51zM413.79 538.48h1.51V542.23h-1.51zM414.92 540.09h1.51V542.57h-1.51zM416.04 539.28h1.51V542.3h-1.51zM417.17 541.22h1.51V542.43h-1.51zM418.3 541.83h1.51V543.5h-1.51zM419.42 541.02h1.51V542.5h-1.51zM420.55 541.22h1.51V542.37h-1.51zM421.67 540.49h1.51V542.16h-1.51zM422.8 540.49h1.51V542.5h-1.51zM423.93 540.96h1.51V542.03h-1.51zM425.05 541.77h1.51V542.89h-1.51zM426.18 541.69h1.51V542.63h-1.51zM427.3 540.96h1.51V542.23h-1.51zM428.43 540.15h1.51V542.1h-1.51zM429.55 538.68h1.51V541.83h-1.51zM430.68 539.95h1.51V542.03h-1.51zM431.81 539.35h1.51V542.7h-1.51zM432.93 541.36h1.51V542.49h-1.51zM434.06 541.83h1.51V542.76h-1.51zM435.18 539.89h1.51V542.16h-1.51zM436.31 541.49h1.51V542.37h-1.51zM437.44 537.41h1.51V541.76h-1.51zM438.56 539.15h1.51V541.76h-1.51zM439.69 538.28h1.51V542.16h-1.51zM440.81 540.42h1.51V542.23h-1.51zM441.94 541.09h1.51V542.5h-1.51zM443.06 538.15h1.51V542.57h-1.51zM444.19 538.28h1.51V541.76h-1.51zM445.32 536.68h1.51V541.76h-1.51zM446.44 535.81h1.51V541.29h-1.51zM447.57 536.54h1.51V541.36h-1.51zM448.69 538.75h1.51V541.96h-1.51zM449.82 540.69h1.51V542.43h-1.51zM450.95 536.61h1.51V541.7h-1.51zM452.07 533.07h1.51V540.96h-1.51zM453.2 533.87h1.51V541.43h-1.51zM454.32 530.86h1.51V540.69h-1.51zM455.45 532.4h1.51V540.56h-1.51zM456.58 536.88h1.51V541.36h-1.51zM457.7 537.28h1.51V541.63h-1.51zM458.83 540.89h1.51V542.5h-1.51zM459.95 535.61h1.51V541.29h-1.51zM461.08 534.6h1.51V541.09h-1.51zM462.2 531.66h1.51V540.02h-1.51zM463.33 533.4h1.51V540.36h-1.51zM464.46 535.34h1.51V541.36h-1.51zM465.58 536.88h1.51V541.36h-1.51zM466.71 535.27h1.51V541.09h-1.51zM467.83 532.13h1.51V540.49h-1.51zM468.96 532.06h1.51V540.09h-1.51zM470.09 535.14h1.51V541.03h-1.51zM471.21 531.19h1.51V540.63h-1.51zM472.34 536.74h1.51V541.23h-1.51zM473.46 537.21h1.51V541.56h-1.51zM474.59 537.08h1.51V541.83h-1.51zM475.71 533.07h1.51V541.23h-1.51zM476.84 531.19h1.51V540.36h-1.51zM477.97 531.86h1.51V540.09h-1.51zM479.09 530.06h1.51V540.16h-1.51zM480.22 534h1.51V540.43h-1.51zM481.34 537.01h1.51V541.56h-1.51zM482.47 533.94h1.51V541.16h-1.51zM483.6 529.59h1.51V539.76h-1.51zM484.72 527.45h1.51V539.02h-1.51zM485.85 528.92h1.51V540.36h-1.51zM486.97 528.45h1.51V539.02h-1.51zM488.1 531.8h1.51V539.49h-1.51zM489.23 534.07h1.51V540.69h-1.51zM490.35 532.8h1.51V540.16h-1.51zM491.48 529.45h1.51V539.42h-1.51zM492.6 522.17h1.51V537.88h-1.51zM493.73 523.9h1.51V537.95h-1.51zM494.85 522.9h1.51V538.55h-1.51zM495.98 527.05h1.51V538.49h-1.51zM497.11 533.27h1.51V540.36h-1.51zM498.23 525.84h1.51V538.89h-1.51zM499.36 524.64h1.51V538.89h-1.51zM500.48 511.73h1.51V535.81h-1.51zM501.61 526.31h1.51V539.76h-1.51zM502.74 526.24h1.51V538.89h-1.51zM503.86 525.17h1.51V538.95h-1.51zM504.99 521.16h1.51V538.49h-1.51zM506.11 514.21h1.51V536.01h-1.51zM507.24 505.18h1.51V534.47h-1.51zM508.36 494.68h1.51V531.2h-1.51zM509.49 484.11h1.51V530.8h-1.51zM510.62 488.73h1.51V530.26h-1.51zM511.74 511.13h1.51V535.54h-1.51zM512.87 517.68h1.51V537.95h-1.51zM513.99 520.76h1.51V537.95h-1.51zM515.12 511.73h1.51V535.14h-1.51zM516.25 510.66h1.51V534.47h-1.51zM517.37 498.42h1.51V532.27h-1.51zM518.5 507.05h1.51V535.21h-1.51zM519.62 511.73h1.51V536.08h-1.51zM520.75 519.76h1.51V537.28h-1.51zM521.88 520.69h1.51V536.28h-1.51zM523 518.69h1.51V536.88h-1.51zM524.13 518.22h1.51V536.35h-1.51zM525.25 523.77h1.51V538.15h-1.51zM526.38 523.9h1.51V537.82h-1.51zM527.5 526.51h1.51V538.49h-1.51zM528.63 534.2h1.51V539.96h-1.51zM529.76 525.91h1.51V538.08h-1.51zM530.88 527.65h1.51V537.88h-1.51zM532.01 525.51h1.51V537.62h-1.51zM533.13 529.19h1.51V539.42h-1.51zM534.26 531.53h1.51V539.89h-1.51zM535.39 532.13h1.51V539.76h-1.51zM536.51 537.55h1.51V540.83h-1.51zM537.64 534.07h1.51V539.89h-1.51zM538.76 531.66h1.51V539.76h-1.51zM539.89 532.13h1.51V539.42h-1.51zM541.01 534.94h1.51V540.09h-1.51zM542.14 534.34h1.51V540.09h-1.51zM543.27 538.15h1.51V541.29h-1.51zM544.39 540.09h1.51V541.56h-1.51zM545.52 538.22h1.51V540.83h-1.51zM546.64 536.21h1.51V541.63h-1.51zM547.77 536.74h1.51V541.29h-1.51zM548.9 538.95h1.51V541.03h-1.51zM550.02 538.48h1.51V541.5h-1.51zM551.15 538.28h1.51V541.23h-1.51zM552.27 539.89h1.51V541.7h-1.51zM553.4 538.35h1.51V541.09h-1.51zM554.53 537.81h1.51V541.23h-1.51zM555.65 537.41h1.51V540.63h-1.51zM556.78 539.02h1.51V541.29h-1.51zM557.9 538.55h1.51V541.29h-1.51zM559.03 539.22h1.51V541.43h-1.51zM560.15 540.82h1.51V541.83h-1.51zM561.28 538.95h1.51V541.83h-1.51zM562.41 540.29h1.51V542.03h-1.51zM563.53 537.61h1.51V541.09h-1.51zM564.66 538.82h1.51V541.76h-1.51zM565.78 538.08h1.51V541.09h-1.51zM566.91 538.82h1.51V541.09h-1.51zM568.04 541.43h1.51V542.63h-1.51zM569.16 540.15h1.51V541.96h-1.51zM570.29 537.88h1.51V541.36h-1.51zM571.41 537.75h1.51V541.23h-1.51zM572.54 537.28h1.51V541.56h-1.51zM573.66 539.62h1.51V541.36h-1.51zM574.79 538.68h1.51V541.29h-1.51zM575.92 541.43h1.51V542.69h-1.51zM577.04 537.41h1.51V541.16h-1.51zM578.17 536.68h1.51V541.23h-1.51zM579.29 537.55h1.51V541.23h-1.51zM580.42 537.01h1.51V540.56h-1.51zM581.55 537.14h1.51V541.29h-1.51zM582.67 538.55h1.51V541.63h-1.51zM583.8 540.76h1.51V541.9h-1.51zM584.92 535.81h1.51V540.76h-1.51zM586.05 535.41h1.51V539.89h-1.51zM587.18 536.41h1.51V540.63h-1.51zM588.3 536.81h1.51V540.83h-1.51zM589.43 536.01h1.51V540.63h-1.51zM590.55 537.81h1.51V541.43h-1.51zM591.68 539.69h1.51V541.83h-1.51zM592.8 535.27h1.51V540.69h-1.51zM593.93 533.94h1.51V540.76h-1.51zM595.06 534.67h1.51V540.02h-1.51zM596.18 535.74h1.51V540.69h-1.51zM597.31 534.14h1.51V540.02h-1.51zM598.43 536.21h1.51V540.56h-1.51zM599.56 538.15h1.51V541.03h-1.51zM600.69 535.81h1.51V540.56h-1.51zM601.81 533.8h1.51V540.43h-1.51zM602.94 533.53h1.51V540.36h-1.51zM604.06 533.4h1.51V539.82h-1.51zM605.19 532.93h1.51V540.36h-1.51zM606.31 535.61h1.51V540.43h-1.51zM607.44 538.88h1.51V541.29h-1.51zM608.57 534.94h1.51V539.76h-1.51zM609.69 529.32h1.51V539.42h-1.51zM610.82 530.59h1.51V539.76h-1.51zM611.94 529.99h1.51V538.75h-1.51zM613.07 528.59h1.51V538.62h-1.51zM614.2 532.93h1.51V540.09h-1.51zM615.32 535.61h1.51V540.16h-1.51zM616.45 530.66h1.51V539.29h-1.51zM617.57 528.59h1.51V539.36h-1.51zM618.7 525.31h1.51V538.55h-1.51zM619.83 527.78h1.51V538.29h-1.51zM620.95 524.04h1.51V538.82h-1.51zM622.08 529.99h1.51V538.75h-1.51zM623.2 533.2h1.51V539.76h-1.51zM624.33 526.18h1.51V538.49h-1.51zM625.45 522.03h1.51V537.55h-1.51zM626.58 523.9h1.51V538.29h-1.51zM627.71 524.1h1.51V537.55h-1.51zM628.83 520.23h1.51V536.41h-1.51zM629.96 527.85h1.51V538.42h-1.51zM631.08 532.26h1.51V540.49h-1.51zM632.21 523.37h1.51V537.75h-1.51zM633.34 523.3h1.51V537.75h-1.51zM634.46 517.88h1.51V535.61h-1.51zM635.59 525.84h1.51V538.62h-1.51zM636.71 518.49h1.51V536.28h-1.51zM637.84 521.56h1.51V537.28h-1.51zM638.96 525.38h1.51V538.62h-1.51zM640.09 529.65h1.51V538.82h-1.51zM641.22 528.65h1.51V538.82h-1.51zM642.34 528.38h1.51V539.22h-1.51zM643.47 523.1h1.51V536.95h-1.51zM644.59 517.28h1.51V535.74h-1.51zM645.72 519.29h1.51V536.15h-1.51zM646.85 530.46h1.51V539.69h-1.51zM647.97 521.63h1.51V536.15h-1.51zM649.1 520.16h1.51V535.81h-1.51zM650.22 518.02h1.51V535.61h-1.51zM651.35 522.97h1.51V537.88h-1.51zM652.48 523.03h1.51V537.48h-1.51zM653.6 530.59h1.51V540.16h-1.51zM654.73 533.2h1.51V540.49h-1.51zM655.85 523.57h1.51V537.62h-1.51zM656.98 525.17h1.51V538.22h-1.51zM658.1 522.23h1.51V536.55h-1.51zM659.23 528.12h1.51V538.95h-1.51zM660.36 529.45h1.51V539.22h-1.51zM661.48 528.92h1.51V539.29h-1.51zM662.61 535.07h1.51V540.96h-1.51zM663.73 530.19h1.51V538.69h-1.51zM664.86 525.64h1.51V537.55h-1.51zM665.99 525.91h1.51V539.09h-1.51zM667.11 528.05h1.51V538.82h-1.51zM668.24 528.85h1.51V539.22h-1.51zM669.36 532.73h1.51V540.49h-1.51zM670.49 536.14h1.51V540.23h-1.51zM671.61 531.33h1.51V539.69h-1.51zM672.74 532.2h1.51V539.96h-1.51zM673.87 531.59h1.51V539.89h-1.51zM674.99 530.86h1.51V539.96h-1.51zM676.12 533.4h1.51V540.36h-1.51zM677.24 534.14h1.51V540.09h-1.51zM678.37 537.55h1.51V541.7h-1.51zM679.5 534.67h1.51V539.82h-1.51zM680.62 530.86h1.51V540.09h-1.51zM681.75 532.66h1.51V540.76h-1.51zM682.87 532.87h1.51V539.56h-1.51zM684 531.93h1.51V539.42h-1.51zM685.13 535.67h1.51V540.89h-1.51zM686.25 537.81h1.51V541.5h-1.51zM687.38 535.21h1.51V540.69h-1.51zM688.5 530.59h1.51V539.89h-1.51zM689.63 531.66h1.51V540.23h-1.51zM690.75 532.06h1.51V540.89h-1.51zM691.88 532.66h1.51V539.22h-1.51zM693.01 533.8h1.51V539.96h-1.51zM694.13 537.08h1.51V540.96h-1.51zM695.26 533.13h1.51V540.23h-1.51zM696.38 526.98h1.51V539.22h-1.51zM697.51 527.38h1.51V538.82h-1.51zM698.64 527.38h1.51V539.62h-1.51zM699.76 528.45h1.51V539.02h-1.51zM700.89 532.6h1.51V540.36h-1.51zM702.01 533.94h1.51V540.02h-1.51zM703.14 530.32h1.51V539.76h-1.51zM704.26 520.69h1.51V536.55h-1.51zM705.39 524.04h1.51V538.62h-1.51zM706.52 524.57h1.51V537.22h-1.51zM707.64 522.97h1.51V536.88h-1.51zM708.77 528.38h1.51V538.82h-1.51zM709.89 534.4h1.51V540.56h-1.51zM711.02 526.65h1.51V538.42h-1.51zM712.15 518.09h1.51V536.21h-1.51zM713.27 518.02h1.51V535.34h-1.51zM714.4 522.03h1.51V537.01h-1.51zM715.52 516.61h1.51V535.21h-1.51zM716.65 525.71h1.51V539.29h-1.51zM717.78 528.45h1.51V538.42h-1.51zM718.9 519.22h1.51V536.15h-1.51zM720.03 511.4h1.51V532.8h-1.51zM721.15 505.91h1.51V531.26h-1.51zM722.28 504.31h1.51V531.2h-1.51zM723.4 501.5h1.51V532.27h-1.51zM724.53 514.68h1.51V534.27h-1.51zM725.66 522.5h1.51V537.22h-1.51zM726.78 503.17h1.51V530.93h-1.51zM727.91 489.2h1.51V526.52h-1.51zM729.03 483.65h1.51V527.99h-1.51zM730.16 505.38h1.51V532.07h-1.51zM731.29 511.13h1.51V534.74h-1.51zM732.41 490.8h1.51V527.38h-1.51zM733.54 500.9h1.51V529.73h-1.51zM734.66 453.08h1.51V519.76h-1.51zM735.79 442.52h1.51V517.22h-1.51zM736.91 431.48h1.51V513.01h-1.51zM738.04 446.46h1.51V512.27h-1.51zM739.17 418.17h1.51V504.65h-1.51zM740.29 453.35h1.51V515.75h-1.51zM741.42 479.97h1.51V524.31h-1.51zM742.54 435.83h1.51V510.13h-1.51zM743.67 413.36h1.51V501.64h-1.51zM744.8 390.22h1.51V494.95h-1.51zM745.92 402.73h1.51V501.7h-1.51zM747.05 413.23h1.51V501.77h-1.51zM748.17 417.71h1.51V502.04h-1.51zM749.3 462.25h1.51V514.68h-1.51zM750.43 465.52h1.51V520.16h-1.51zM751.55 422.99h1.51V503.58h-1.51zM752.68 399.92h1.51V497.36h-1.51zM753.8 365.08h1.51V486.72h-1.51zM754.93 391.76h1.51V495.62h-1.51zM756.05 414.56h1.51V501.7h-1.51zM757.18 454.42h1.51V514.61h-1.51z"/>
<path fill="#78F83E" d="M116.56 542.1h1.51V544.83h-1.51zM122.19 542.1h1.51V544.83h-1.51zM139.08 542.1h1.51V544.83h-1.51zM148.09 542.1h1.51V544.83h-1.51zM157.1 542.1h1.51V544.83h-1.51zM161.6 542.03h1.51V544.77h-1.51zM163.85 542.1h1.51V544.77h-1.51zM171.73 542.03h1.51V544.7h-1.51zM175.11 542.1h1.51V544.83h-1.51zM176.24 542.03h1.51V544.7h-1.51zM177.36 542.03h1.51V544.77h-1.51zM178.49 541.9h1.51V544.5h-1.51zM179.61 542.03h1.51V544.7h-1.51zM182.99 541.97h1.51V544.7h-1.51zM184.12 541.83h1.51V543.83h-1.51zM185.24 541.77h1.51V544.03h-1.51zM186.37 541.83h1.51V544.16h-1.51zM187.49 541.23h1.51V543.29h-1.51zM188.62 541.23h1.51V543.29h-1.51zM190.87 541.3h1.51V542.89h-1.51zM192 541.5h1.51V543.63h-1.51zM193.12 540.5h1.51V541.69h-1.51zM194.25 540.96h1.51V542.63h-1.51zM195.38 541.23h1.51V542.16h-1.51zM196.5 540.03h1.51V541.29h-1.51zM197.63 540.76h1.51V542.63h-1.51zM198.75 540.9h1.51V542.56h-1.51zM199.88 539.62h1.51V540.69h-1.51zM201 539.69h1.51V540.69h-1.51zM202.13 539.83h1.51V540.82h-1.51zM203.26 539.16h1.51V540.62h-1.51zM204.38 539.89h1.51V540.76h-1.51zM205.51 540.7h1.51V542.02h-1.51zM206.63 539.29h1.51V540.22h-1.51zM207.76 540.62h1.51V541.56h-1.51zM208.89 539.28h1.51V540.16h-1.51zM210.01 539.69h1.51V540.55h-1.51zM211.14 539.49h1.51V540.42h-1.51zM212.26 540.36h1.51V541.36h-1.51zM213.39 540.43h1.51V542.56h-1.51zM214.51 540.36h1.51V541.69h-1.51zM215.64 540.23h1.51V541.56h-1.51zM216.77 539.76h1.51V541.09h-1.51zM217.89 539.22h1.51V540.08h-1.51zM219.02 540.16h1.51V541.62h-1.51zM220.14 541.23h1.51V542.96h-1.51zM221.27 541.5h1.51V543.9h-1.51zM222.4 540.7h1.51V542.09h-1.51zM223.52 541.7h1.51V543.96h-1.51zM224.65 541.43h1.51V543.7h-1.51zM225.77 539.96h1.51V541.15h-1.51zM226.9 540.03h1.51V541.02h-1.51zM228.03 540.9h1.51V542.43h-1.51zM229.15 540.83h1.51V542.29h-1.51zM230.28 541.3h1.51V543.76h-1.51zM231.4 541.83h1.51V544.16h-1.51zM232.53 541.77h1.51V544.37h-1.51zM233.65 541.9h1.51V544.37h-1.51zM234.78 541.5h1.51V544.16h-1.51zM235.91 541.83h1.51V544.5h-1.51zM237.03 541.77h1.51V544.37h-1.51zM238.16 541.83h1.51V544.23h-1.51zM239.28 541.97h1.51V544.7h-1.51zM240.41 541.63h1.51V544.3h-1.51zM242.66 541.77h1.51V544.43h-1.51zM244.91 541.9h1.51V544.57h-1.51zM246.04 542.03h1.51V544.77h-1.51zM247.16 541.97h1.51V544.63h-1.51zM248.29 541.9h1.51V544.57h-1.51zM249.42 542.1h1.51V544.77h-1.51zM251.67 541.83h1.51V544.43h-1.51zM252.79 541.83h1.51V544.5h-1.51zM253.92 541.77h1.51V544.37h-1.51zM255.05 542.03h1.51V544.57h-1.51zM256.17 541.9h1.51V544.3h-1.51zM257.3 541.63h1.51V544.23h-1.51zM259.55 541.9h1.51V544.63h-1.51zM260.68 541.83h1.51V544.43h-1.51zM261.8 541.5h1.51V543.76h-1.51zM262.93 541.77h1.51V544.23h-1.51zM264.05 541.1h1.51V543.76h-1.51zM265.18 541.5h1.51V544.03h-1.51zM266.3 541.7h1.51V544.03h-1.51zM267.43 541.7h1.51V544.23h-1.51zM268.56 541.83h1.51V544.5h-1.51zM269.68 541.9h1.51V544.3h-1.51zM270.81 541.3h1.51V543.96h-1.51zM271.93 541.43h1.51V543.96h-1.51zM273.06 540.96h1.51V543.56h-1.51zM274.19 541.43h1.51V543.83h-1.51zM275.31 540.03h1.51V542.43h-1.51zM276.44 540.29h1.51V542.56h-1.51zM277.56 541.03h1.51V543.7h-1.51zM278.69 541.77h1.51V544.23h-1.51zM279.81 540.9h1.51V543.23h-1.51zM280.94 541.03h1.51V543.43h-1.51zM282.07 540.76h1.51V543.03h-1.51zM283.19 540.9h1.51V543.43h-1.51zM284.32 541.43h1.51V543.83h-1.51zM285.44 541.03h1.51V543.23h-1.51zM286.57 539.56h1.51V541.62h-1.51zM287.7 540.23h1.51V542.43h-1.51zM288.82 540.5h1.51V542.23h-1.51zM289.95 540.03h1.51V542.02h-1.51zM291.07 540.03h1.51V541.82h-1.51zM292.2 539.83h1.51V541.76h-1.51zM293.33 540.5h1.51V542.49h-1.51zM294.45 540.29h1.51V542.02h-1.51zM295.58 538.36h1.51V539.75h-1.51zM296.7 537.75h1.51V538.81h-1.51zM297.83 537.81h1.51V539.29h-1.51zM298.95 538.96h1.51V540.08h-1.51zM300.08 538.22h1.51V540.02h-1.51zM301.21 538.09h1.51V539.42h-1.51zM302.33 539.16h1.51V541.02h-1.51zM303.46 533.6h1.51V536.15h-1.51zM304.58 532.13h1.51V534.61h-1.51zM305.71 533.8h1.51V536.21h-1.51zM306.84 533.2h1.51V535.61h-1.51zM307.96 538.29h1.51V539.22h-1.51zM309.09 537.35h1.51V538.29h-1.51zM310.21 535.81h1.51V537.88h-1.51zM311.34 530.39h1.51V533.74h-1.51zM312.46 529.99h1.51V533h-1.51zM313.59 529.25h1.51V533.47h-1.51zM314.72 534.94h1.51V536.95h-1.51zM315.84 536.14h1.51V537.01h-1.51zM316.97 532.93h1.51V535.01h-1.51zM318.09 531.86h1.51V534.41h-1.51zM319.22 526.85h1.51V531.73h-1.51zM320.35 531.73h1.51V534.54h-1.51zM321.47 531.06h1.51V533.47h-1.51zM322.6 533.4h1.51V536.08h-1.51zM323.72 538.28h1.51V539.22h-1.51zM324.85 531.39h1.51V534.21h-1.51zM325.98 532.6h1.51V534.74h-1.51zM327.1 527.58h1.51V532.6h-1.51zM328.23 523.03h1.51V528.32h-1.51zM329.35 522.83h1.51V528.19h-1.51zM330.48 531.73h1.51V534.47h-1.51zM331.6 532.6h1.51V535.14h-1.51zM332.73 529.39h1.51V532.8h-1.51zM333.86 532.2h1.51V534.67h-1.51zM334.98 528.32h1.51V533h-1.51zM336.11 524.1h1.51V530.66h-1.51zM337.23 524.97h1.51V532h-1.51zM338.36 529.65h1.51V534.47h-1.51zM339.49 535.07h1.51V536.48h-1.51zM340.61 535.94h1.51V537.75h-1.51zM341.74 534.87h1.51V537.62h-1.51zM342.86 535.21h1.51V537.22h-1.51zM343.99 527.11h1.51V532.27h-1.51zM345.11 527.18h1.51V531.4h-1.51zM346.24 533.4h1.51V536.55h-1.51zM347.37 536.61h1.51V538.62h-1.51zM348.49 535h1.51V536.88h-1.51zM349.62 536.68h1.51V538.42h-1.51zM350.74 529.65h1.51V533.67h-1.51zM351.87 533.87h1.51V536.01h-1.51zM353 533.87h1.51V536.28h-1.51zM354.12 536.14h1.51V537.22h-1.51zM355.25 539.96h1.51V541.36h-1.51zM356.37 536.88h1.51V538.89h-1.51zM357.5 535.07h1.51V538.22h-1.51zM358.63 534.4h1.51V537.15h-1.51zM359.75 534.94h1.51V537.01h-1.51zM360.88 534.27h1.51V536.48h-1.51zM362 538.01h1.51V539.36h-1.51zM363.13 539.49h1.51V540.75h-1.51zM364.25 538.08h1.51V539.15h-1.51zM365.38 538.62h1.51V539.62h-1.51zM366.51 536.14h1.51V538.02h-1.51zM367.63 538.29h1.51V539.55h-1.51zM368.76 536.94h1.51V537.95h-1.51zM369.88 539.36h1.51V540.42h-1.51zM371.01 540.5h1.51V542.36h-1.51zM372.14 537.81h1.51V538.75h-1.51zM373.26 538.42h1.51V539.89h-1.51zM374.39 533.67h1.51V536.21h-1.51zM375.51 538.35h1.51V539.22h-1.51zM376.64 537.21h1.51V538.95h-1.51zM377.76 539.08h1.51V539.89h-1.51zM378.89 540.03h1.51V541.89h-1.51zM380.02 537.48h1.51V539.09h-1.51zM381.14 538.75h1.51V539.89h-1.51zM382.27 537.89h1.51V538.75h-1.51zM383.39 535.54h1.51V537.48h-1.51zM384.52 536.61h1.51V538.02h-1.51zM385.65 538.75h1.51V539.69h-1.51zM386.77 539.76h1.51V540.75h-1.51zM387.9 539.89h1.51V541.62h-1.51zM389.02 540.83h1.51V542.83h-1.51zM390.15 536.34h1.51V537.82h-1.51zM391.28 536.74h1.51V537.82h-1.51zM392.4 535.07h1.51V537.22h-1.51zM393.53 538.82h1.51V539.69h-1.51zM394.65 540.36h1.51V542.29h-1.51zM395.78 537.14h1.51V539.02h-1.51zM396.9 537.35h1.51V539.36h-1.51zM398.03 535.81h1.51V537.48h-1.51zM399.16 537.81h1.51V539.29h-1.51zM400.28 536.68h1.51V538.62h-1.51zM401.41 539.83h1.51V540.95h-1.51zM402.53 540.7h1.51V542.96h-1.51zM403.66 538.01h1.51V539.22h-1.51zM404.79 538.76h1.51V539.88h-1.51zM405.91 535.61h1.51V537.48h-1.51zM407.04 537.48h1.51V538.75h-1.51zM408.16 535.61h1.51V538.49h-1.51zM409.29 538.56h1.51V539.55h-1.51zM410.41 540.16h1.51V542.23h-1.51zM411.54 538.42h1.51V539.48h-1.51zM412.67 538.69h1.51V539.55h-1.51zM413.79 534.2h1.51V537.28h-1.51zM414.92 537.01h1.51V538.89h-1.51zM416.04 535.47h1.51V538.08h-1.51zM417.17 539.22h1.51V540.35h-1.51zM418.3 540.7h1.51V542.29h-1.51zM419.42 539.02h1.51V540.22h-1.51zM420.55 539.22h1.51V540.15h-1.51zM421.67 537.88h1.51V539.29h-1.51zM422.8 537.88h1.51V539.29h-1.51zM423.93 537.41h1.51V539.76h-1.51zM425.05 540.09h1.51V541.29h-1.51zM426.18 539.69h1.51V541.02h-1.51zM427.3 538.48h1.51V539.76h-1.51zM428.43 537.81h1.51V538.95h-1.51zM429.55 536.54h1.51V537.48h-1.51zM430.68 537.14h1.51V538.75h-1.51zM431.81 536.01h1.51V538.15h-1.51zM432.93 539.62h1.51V540.49h-1.51zM434.06 539.96h1.51V541.62h-1.51zM435.18 537.28h1.51V538.69h-1.51zM436.31 539.49h1.51V540.55h-1.51zM437.44 533.8h1.51V536.21h-1.51zM438.56 536.01h1.51V537.95h-1.51zM439.69 533.87h1.51V537.08h-1.51zM440.81 537.55h1.51V539.22h-1.51zM441.94 539.09h1.51V540.08h-1.51zM443.06 534.4h1.51V536.95h-1.51zM444.19 534.14h1.51V537.08h-1.51zM445.32 531.86h1.51V535.48h-1.51zM446.44 531.39h1.51V534.61h-1.51zM447.57 531.8h1.51V535.34h-1.51zM448.69 535.47h1.51V537.55h-1.51zM449.82 537.61h1.51V539.49h-1.51zM450.95 533.33h1.51V535.41h-1.51zM452.07 526.85h1.51V531.87h-1.51zM453.2 528.59h1.51V532.67h-1.51zM454.32 525.04h1.51V529.66h-1.51zM455.45 526.78h1.51V531.2h-1.51zM456.58 532.2h1.51V535.68h-1.51zM457.7 532.6h1.51V536.08h-1.51zM458.83 538.35h1.51V539.69h-1.51zM459.95 531.19h1.51V534.41h-1.51zM461.08 528.45h1.51V533.4h-1.51zM462.2 524.71h1.51V530.46h-1.51zM463.33 526.38h1.51V532.2h-1.51zM464.46 529.12h1.51V534.14h-1.51zM465.58 533.47h1.51V535.68h-1.51zM466.71 530.52h1.51V534.07h-1.51zM467.83 526.45h1.51V530.93h-1.51zM468.96 525.71h1.51V530.86h-1.51zM470.09 528.18h1.51V533.94h-1.51zM471.21 524.44h1.51V529.99h-1.51zM472.34 532.6h1.51V535.54h-1.51zM473.46 533.33h1.51V536.01h-1.51zM474.59 532.73h1.51V535.88h-1.51zM475.71 525.11h1.51V531.87h-1.51zM476.84 522.1h1.51V529.99h-1.51zM477.97 524.97h1.51V530.66h-1.51zM479.09 522.9h1.51V528.86h-1.51zM480.22 527.38h1.51V532.8h-1.51zM481.34 533.53h1.51V535.81h-1.51zM482.47 527.98h1.51V532.74h-1.51zM483.6 520.76h1.51V528.39h-1.51zM484.72 517.48h1.51V526.25h-1.51zM485.85 520.29h1.51V527.72h-1.51zM486.97 519.09h1.51V527.25h-1.51zM488.1 525.04h1.51V530.6h-1.51zM489.23 529.25h1.51V532.87h-1.51zM490.35 525.91h1.51V531.6h-1.51zM491.48 518.29h1.51V528.25h-1.51zM492.6 512.67h1.51V520.97h-1.51zM493.73 512.13h1.51V522.7h-1.51zM494.85 509.33h1.51V521.7h-1.51zM495.98 518.09h1.51V525.85h-1.51zM497.11 526.31h1.51V532.07h-1.51zM498.23 513.87h1.51V524.64h-1.51zM499.36 511.53h1.51V523.44h-1.51zM500.48 492.67h1.51V510.53h-1.51zM501.61 515.34h1.51V525.11h-1.51zM502.74 513.61h1.51V525.04h-1.51zM503.86 513.47h1.51V523.97h-1.51zM504.99 511.2h1.51V519.96h-1.51zM506.11 494.68h1.51V513.01h-1.51zM507.24 484.05h1.51V503.98h-1.51zM508.36 457.63h1.51V493.48h-1.51zM509.49 451.21h1.51V482.91h-1.51zM510.62 459.7h1.51V487.53h-1.51zM511.74 490.2h1.51V509.93h-1.51zM512.87 499.03h1.51V516.48h-1.51zM513.99 508.66h1.51V519.56h-1.51zM515.12 494.61h1.51V510.53h-1.51zM516.25 492.74h1.51V509.46h-1.51zM517.37 474.28h1.51V497.22h-1.51zM518.5 480.84h1.51V505.85h-1.51zM519.62 491h1.51V510.53h-1.51zM520.75 508.25h1.51V518.56h-1.51zM521.88 506.25h1.51V519.49h-1.51zM523 504.78h1.51V517.49h-1.51zM524.13 501.3h1.51V517.02h-1.51zM525.25 510.33h1.51V522.57h-1.51zM526.38 511.8h1.51V522.7h-1.51zM527.5 515.14h1.51V525.31h-1.51zM528.63 527.92h1.51V533h-1.51zM529.76 515.81h1.51V524.71h-1.51zM530.88 519.22h1.51V526.45h-1.51zM532.01 515.68h1.51V524.31h-1.51zM533.13 521.1h1.51V527.99h-1.51zM534.26 524.04h1.51V530.33h-1.51zM535.39 527.85h1.51V530.93h-1.51zM536.51 533.6h1.51V536.35h-1.51zM537.64 528.32h1.51V532.87h-1.51zM538.76 526.18h1.51V530.46h-1.51zM539.89 525.24h1.51V530.93h-1.51zM541.01 530.52h1.51V533.74h-1.51zM542.14 528.72h1.51V533.14h-1.51zM543.27 533.6h1.51V536.95h-1.51zM544.39 537.28h1.51V538.89h-1.51zM545.52 534.54h1.51V537.01h-1.51zM546.64 531.59h1.51V535.01h-1.51zM547.77 533.13h1.51V535.54h-1.51zM548.9 536.68h1.51V537.75h-1.51zM550.02 534.34h1.51V537.28h-1.51zM551.15 536.08h1.51V537.08h-1.51zM552.27 537.89h1.51V539.08h-1.51zM553.4 536.08h1.51V537.15h-1.51zM554.53 535.14h1.51V536.61h-1.51zM555.65 533.6h1.51V536.21h-1.51zM556.78 535.54h1.51V537.82h-1.51zM557.9 535.34h1.51V537.35h-1.51zM559.03 537.22h1.51V538.08h-1.51zM560.15 538.82h1.51V540.35h-1.51zM561.28 535.74h1.51V537.75h-1.51zM562.41 538.22h1.51V539.09h-1.51zM563.53 534.2h1.51V536.41h-1.51zM564.66 536.74h1.51V537.62h-1.51zM565.78 534.8h1.51V536.88h-1.51zM566.91 534.67h1.51V537.62h-1.51zM568.04 539.83h1.51V541.56h-1.51zM569.16 537.88h1.51V538.95h-1.51zM570.29 534.2h1.51V536.68h-1.51zM571.41 535.14h1.51V536.55h-1.51zM572.54 534.34h1.51V536.08h-1.51zM573.66 536.61h1.51V538.42h-1.51zM574.79 535.94h1.51V537.48h-1.51zM575.92 539.89h1.51V541.49h-1.51zM577.04 534.2h1.51V536.21h-1.51zM578.17 532.73h1.51V535.48h-1.51zM579.29 533.47h1.51V536.35h-1.51zM580.42 534.2h1.51V535.81h-1.51zM581.55 534.14h1.51V535.94h-1.51zM582.67 536.54h1.51V537.35h-1.51zM583.8 538.01h1.51V539.56h-1.51zM584.92 532.4h1.51V534.61h-1.51zM586.05 530.52h1.51V534.21h-1.51zM587.18 533.6h1.51V535.21h-1.51zM588.3 533h1.51V535.61h-1.51zM589.43 532.66h1.51V534.81h-1.51zM590.55 535h1.51V536.61h-1.51zM591.68 537.35h1.51V538.49h-1.51zM592.8 531.86h1.51V534.07h-1.51zM593.93 529.65h1.51V532.74h-1.51zM595.06 530.06h1.51V533.47h-1.51zM596.18 530.93h1.51V534.54h-1.51zM597.31 528.65h1.51V532.94h-1.51zM598.43 532.66h1.51V535.01h-1.51zM599.56 535.34h1.51V536.95h-1.51zM600.69 531.53h1.51V534.61h-1.51zM601.81 529.32h1.51V532.6h-1.51zM602.94 527.31h1.51V532.33h-1.51zM604.06 528.18h1.51V532.2h-1.51zM605.19 527.65h1.51V531.73h-1.51zM606.31 530.52h1.51V534.41h-1.51zM607.44 535.34h1.51V537.68h-1.51zM608.57 530.39h1.51V533.74h-1.51zM609.69 523.24h1.51V528.12h-1.51zM610.82 523.24h1.51V529.39h-1.51zM611.94 524.64h1.51V528.79h-1.51zM613.07 520.49h1.51V527.38h-1.51zM614.2 527.38h1.51V531.73h-1.51zM615.32 531.93h1.51V534.41h-1.51zM616.45 523.57h1.51V529.46h-1.51zM617.57 521.23h1.51V527.38h-1.51zM618.7 515.28h1.51V524.11h-1.51zM619.83 518.62h1.51V526.58h-1.51zM620.95 514.54h1.51V522.84h-1.51zM622.08 523.9h1.51V528.79h-1.51zM623.2 528.65h1.51V532h-1.51zM624.33 516.35h1.51V524.98h-1.51zM625.45 512.87h1.51V520.83h-1.51zM626.58 510.4h1.51V522.7h-1.51zM627.71 513.87h1.51V522.9h-1.51zM628.83 509.73h1.51V519.03h-1.51zM629.96 520.63h1.51V526.65h-1.51zM631.08 527.72h1.51V531.06h-1.51zM632.21 512.27h1.51V522.17h-1.51zM633.34 509.53h1.51V522.1h-1.51zM634.46 504.04h1.51V516.68h-1.51zM635.59 516.15h1.51V524.64h-1.51zM636.71 503.24h1.51V517.29h-1.51zM637.84 509.53h1.51V520.36h-1.51zM638.96 517.28h1.51V524.17h-1.51zM640.09 521.76h1.51V528.45h-1.51zM641.22 521.1h1.51V527.45h-1.51zM642.34 521.76h1.51V527.18h-1.51zM643.47 511.67h1.51V521.9h-1.51zM644.59 503.77h1.51V516.08h-1.51zM645.72 505.65h1.51V518.09h-1.51zM646.85 523.57h1.51V529.26h-1.51zM647.97 511.67h1.51V520.43h-1.51zM649.1 505.85h1.51V518.96h-1.51zM650.22 504.04h1.51V516.82h-1.51zM651.35 513.54h1.51V521.77h-1.51zM652.48 514.01h1.51V521.83h-1.51zM653.6 523.9h1.51V529.39h-1.51zM654.73 527.18h1.51V532h-1.51zM655.85 515.14h1.51V522.37h-1.51zM656.98 514.94h1.51V523.97h-1.51zM658.1 512.13h1.51V521.03h-1.51zM659.23 519.02h1.51V526.92h-1.51zM660.36 522.83h1.51V528.25h-1.51zM661.48 521.7h1.51V527.72h-1.51zM662.61 530.73h1.51V533.87h-1.51zM663.73 522.23h1.51V528.99h-1.51zM664.86 514.54h1.51V524.44h-1.51zM665.99 515.54h1.51V524.71h-1.51zM667.11 520.02h1.51V526.85h-1.51zM668.24 523.44h1.51V527.65h-1.51zM669.36 527.31h1.51V531.53h-1.51zM670.49 533.13h1.51V534.94h-1.51zM671.61 525.44h1.51V530.13h-1.51zM672.74 524.91h1.51V531h-1.51zM673.87 525.04h1.51V530.39h-1.51zM674.99 525.84h1.51V529.66h-1.51zM676.12 527.58h1.51V532.2h-1.51zM677.24 529.72h1.51V532.94h-1.51zM678.37 534h1.51V536.35h-1.51zM679.5 529.05h1.51V533.47h-1.51zM680.62 524.84h1.51V529.66h-1.51zM681.75 526.98h1.51V531.46h-1.51zM682.87 526.85h1.51V531.66h-1.51zM684 525.38h1.51V530.73h-1.51zM685.13 531.53h1.51V534.47h-1.51zM686.25 535.61h1.51V536.61h-1.51zM687.38 530.66h1.51V534.01h-1.51zM688.5 523.57h1.51V529.39h-1.51zM689.63 526.31h1.51V530.46h-1.51zM690.75 526.04h1.51V530.86h-1.51zM691.88 528.52h1.51V531.46h-1.51zM693.01 527.72h1.51V532.6h-1.51zM694.13 534.34h1.51V535.88h-1.51zM695.26 526.91h1.51V531.93h-1.51zM696.38 518.82h1.51V525.78h-1.51zM697.51 520.09h1.51V526.18h-1.51zM698.64 519.36h1.51V526.18h-1.51zM699.76 521.43h1.51V527.25h-1.51zM700.89 528.45h1.51V531.4h-1.51zM702.01 530.46h1.51V532.74h-1.51zM703.14 524.44h1.51V529.12h-1.51zM704.26 510.86h1.51V519.49h-1.51zM705.39 513.87h1.51V522.84h-1.51zM706.52 516.28h1.51V523.37h-1.51zM707.64 513.14h1.51V521.77h-1.51zM708.77 521.56h1.51V527.18h-1.51zM709.89 530.12h1.51V533.2h-1.51zM711.02 518.96h1.51V525.45h-1.51zM712.15 505.45h1.51V516.89h-1.51zM713.27 506.72h1.51V516.82h-1.51zM714.4 508.19h1.51V520.83h-1.51zM715.52 503.98h1.51V515.41h-1.51zM716.65 516.41h1.51V524.51h-1.51zM717.78 521.16h1.51V527.25h-1.51zM718.9 507.19h1.51V518.02h-1.51zM720.03 496.35h1.51V510.2h-1.51zM721.15 488.26h1.51V504.71h-1.51zM722.28 487.99h1.51V503.11h-1.51zM723.4 478.3h1.51V500.3h-1.51zM724.53 500.03h1.51V513.48h-1.51zM725.66 511.33h1.51V521.3h-1.51zM726.78 481.37h1.51V501.97h-1.51zM727.91 464.52h1.51V488h-1.51zM729.03 456.83h1.51V482.44h-1.51zM730.16 485.32h1.51V504.18h-1.51zM731.29 496.28h1.51V509.93h-1.51zM732.41 467.06h1.51V489.6h-1.51zM733.54 480.64h1.51V499.7h-1.51zM734.66 412.76h1.51V451.88h-1.51zM735.79 399.78h1.51V441.32h-1.51zM736.91 368.02h1.51V430.28h-1.51zM738.04 399.65h1.51V445.26h-1.51zM739.17 362.47h1.51V416.97h-1.51zM740.29 408.81h1.51V452.15h-1.51zM741.42 448h1.51V478.77h-1.51zM742.54 383h1.51V434.63h-1.51zM743.67 354.51h1.51V412.16h-1.51zM744.8 324.75h1.51V389.02h-1.51zM745.92 343.34h1.51V401.53h-1.51zM747.05 345.75h1.51V412.03h-1.51zM748.17 368.42h1.51V416.51h-1.51zM749.3 425.73h1.51V461.04h-1.51zM750.43 427.2h1.51V464.32h-1.51zM751.55 365.34h1.51V421.79h-1.51zM752.68 327.16h1.51V398.72h-1.51zM753.8 286.03h1.51V363.88h-1.51zM754.93 311.38h1.51V390.56h-1.51zM756.05 354.91h1.51V413.36h-1.51zM757.18 412.82h1.51V453.22h-1.51z"/>
<path fill="#39F357" d="M115.44 542.1h1.51V544.83h-1.51zM137.96 542.1h1.51V544.83h-1.51zM140.21 542.1h1.51V544.83h-1.51zM141.33 542.03h1.51V544.77h-1.51zM152.59 542.03h1.51V544.77h-1.51zM155.97 542.1h1.51V544.83h-1.51zM157.1 542.03h1.51V544.77h-1.51zM160.47 542.1h1.51V544.77h-1.51zM162.73 542.03h1.51V544.77h-1.51zM163.85 541.97h1.51V544.7h-1.51zM167.23 542.1h1.51V544.83h-1.51zM170.61 542.1h1.51V544.83h-1.51zM171.73 541.9h1.51V544.5h-1.51zM175.11 542.03h1.51V544.7h-1.51zM176.24 541.9h1.51V544.57h-1.51zM177.36 541.97h1.51V544.7h-1.51zM178.49 541.7h1.51V544.43h-1.51zM179.61 541.9h1.51V544.63h-1.51zM181.86 542.03h1.51V544.5h-1.51zM182.99 541.9h1.51V544.43h-1.51zM184.12 541.03h1.51V543.56h-1.51zM185.24 541.23h1.51V543.63h-1.51zM186.37 541.36h1.51V543.83h-1.51zM187.49 540.5h1.51V542.69h-1.51zM188.62 540.5h1.51V542.29h-1.51zM189.75 541.9h1.51V544.57h-1.51zM190.87 540.09h1.51V541.69h-1.51zM192 540.83h1.51V542.89h-1.51zM193.12 538.89h1.51V541.29h-1.51zM194.25 539.83h1.51V542.02h-1.51zM195.38 539.36h1.51V541.22h-1.51zM196.5 538.49h1.51V539.75h-1.51zM197.63 539.83h1.51V541.62h-1.51zM198.75 539.76h1.51V541.82h-1.51zM199.88 537.55h1.51V538.42h-1.51zM201 537.48h1.51V538.69h-1.51zM202.13 537.48h1.51V538.82h-1.51zM203.26 537.82h1.51V538.88h-1.51zM204.38 537.89h1.51V539.01h-1.51zM205.51 539.22h1.51V541.02h-1.51zM206.63 537.42h1.51V538.41h-1.51zM207.76 538.62h1.51V540.22h-1.51zM208.89 537.28h1.51V538.75h-1.51zM210.01 537.08h1.51V538.55h-1.51zM211.14 537.14h1.51V538.42h-1.51zM212.26 538.56h1.51V540.22h-1.51zM213.39 539.76h1.51V541.56h-1.51zM214.51 538.89h1.51V540.15h-1.51zM215.64 538.76h1.51V540.42h-1.51zM216.77 538.29h1.51V539.95h-1.51zM217.89 537.28h1.51V539.01h-1.51zM219.02 538.82h1.51V540.22h-1.51zM220.14 540.16h1.51V542.09h-1.51zM221.27 541.1h1.51V543.23h-1.51zM222.4 539.29h1.51V541.09h-1.51zM223.52 541.16h1.51V543.5h-1.51zM224.65 540.9h1.51V542.83h-1.51zM225.77 538.35h1.51V539.15h-1.51zM226.9 538.22h1.51V539.28h-1.51zM228.03 539.63h1.51V541.62h-1.51zM229.15 539.49h1.51V541.62h-1.51zM230.28 540.96h1.51V543.43h-1.51zM231.4 541.36h1.51V543.9h-1.51zM232.53 541.57h1.51V544.16h-1.51zM233.65 541.57h1.51V544.03h-1.51zM234.78 541.36h1.51V543.83h-1.51zM235.91 541.7h1.51V544.16h-1.51zM237.03 541.57h1.51V544.3h-1.51zM238.16 541.43h1.51V544.16h-1.51zM239.28 541.9h1.51V544.57h-1.51zM240.41 541.5h1.51V544.16h-1.51zM241.54 541.9h1.51V544.63h-1.51zM242.66 541.63h1.51V544.37h-1.51zM244.91 541.77h1.51V544.5h-1.51zM246.04 541.97h1.51V544.7h-1.51zM248.29 541.77h1.51V544.37h-1.51zM251.67 541.63h1.51V544.37h-1.51zM255.05 541.77h1.51V544.43h-1.51zM256.17 541.5h1.51V543.96h-1.51zM257.3 541.43h1.51V544.1h-1.51zM258.42 541.77h1.51V544.43h-1.51zM260.68 541.63h1.51V544.3h-1.51zM261.8 540.96h1.51V543.56h-1.51zM262.93 541.43h1.51V544.16h-1.51zM264.05 540.96h1.51V543.7h-1.51zM265.18 541.23h1.51V543.9h-1.51zM266.3 541.23h1.51V543.76h-1.51zM267.43 541.43h1.51V544.16h-1.51zM268.56 541.7h1.51V544.3h-1.51zM269.68 541.5h1.51V544.1h-1.51zM271.93 541.16h1.51V543.76h-1.51zM274.19 541.03h1.51V543.43h-1.51zM275.31 539.63h1.51V542.36h-1.51zM276.44 539.76h1.51V542.09h-1.51zM277.56 540.9h1.51V543.36h-1.51zM278.69 541.43h1.51V544.03h-1.51zM279.81 540.43h1.51V542.83h-1.51zM280.94 540.63h1.51V543.09h-1.51zM282.07 540.23h1.51V542.76h-1.51zM283.19 540.63h1.51V543.09h-1.51zM284.32 541.03h1.51V543.5h-1.51zM285.44 540.43h1.51V542.96h-1.51zM286.57 538.82h1.51V541.49h-1.51zM287.7 539.63h1.51V542.16h-1.51zM288.82 539.43h1.51V541.82h-1.51zM289.95 539.22h1.51V541.62h-1.51zM291.07 539.02h1.51V541.56h-1.51zM292.2 538.96h1.51V541.42h-1.51zM293.33 539.69h1.51V542.09h-1.51zM294.45 539.22h1.51V541.69h-1.51zM295.58 536.95h1.51V538.95h-1.51zM296.7 536.01h1.51V537.81h-1.51zM297.83 535.81h1.51V537.41h-1.51zM298.95 537.28h1.51V539.42h-1.51zM300.08 537.22h1.51V538.81h-1.51zM301.21 536.62h1.51V538.55h-1.51zM302.33 538.22h1.51V540.62h-1.51zM303.46 531.6h1.51V532.6h-1.51zM304.58 530.13h1.51V531.26h-1.51zM305.71 531.8h1.51V533.13h-1.51zM306.84 531.2h1.51V532.6h-1.51zM307.96 536.42h1.51V537.88h-1.51zM309.09 535.35h1.51V537.28h-1.51zM310.21 533.81h1.51V535.6h-1.51zM311.34 527.58h1.51V529.19h-1.51zM312.46 527.31h1.51V528.79h-1.51zM313.59 527.25h1.51V528.25h-1.51zM314.72 532.94h1.51V534.13h-1.51zM315.84 534.14h1.51V535.54h-1.51zM316.97 530.93h1.51V531.93h-1.51zM318.09 529.86h1.51V531.06h-1.51zM319.22 524.17h1.51V525.65h-1.51zM320.35 529.73h1.51V530.59h-1.51zM321.47 528.52h1.51V529.86h-1.51zM322.6 530.86h1.51V532.2h-1.51zM323.72 536.28h1.51V537.48h-1.51zM324.85 528.99h1.51V530.19h-1.51zM325.98 530.46h1.51V531.4h-1.51zM327.1 524.24h1.51V526.38h-1.51zM328.23 518.35h1.51V521.83h-1.51zM329.35 518.02h1.51V521.63h-1.51zM330.48 528.92h1.51V530.53h-1.51zM331.6 530.26h1.51V531.4h-1.51zM332.73 526.91h1.51V528.19h-1.51zM333.86 529.65h1.51V531h-1.51zM334.98 524.77h1.51V527.12h-1.51zM336.11 519.36h1.51V522.9h-1.51zM337.23 521.3h1.51V523.77h-1.51zM338.36 526.51h1.51V528.45h-1.51zM339.49 533.07h1.51V534h-1.51zM340.61 533.94h1.51V535.14h-1.51zM341.74 532.53h1.51V533.67h-1.51zM342.86 533.21h1.51V534.4h-1.51zM343.99 524.17h1.51V525.91h-1.51zM345.11 523.1h1.51V525.98h-1.51zM346.24 530.12h1.51V532.2h-1.51zM347.37 534.61h1.51V536.21h-1.51zM348.49 532.87h1.51V533.8h-1.51zM349.62 534.68h1.51V535.74h-1.51zM350.74 526.91h1.51V528.45h-1.51zM351.87 531.53h1.51V532.67h-1.51zM353 531.13h1.51V532.67h-1.51zM354.12 534h1.51V534.94h-1.51zM355.25 538.56h1.51V540.49h-1.51zM356.37 534.88h1.51V535.74h-1.51zM357.5 532.93h1.51V533.87h-1.51zM358.63 531.33h1.51V533.2h-1.51zM359.75 532.94h1.51V533.93h-1.51zM360.88 531.46h1.51V533.07h-1.51zM362 536.01h1.51V537.21h-1.51zM363.13 537.95h1.51V539.75h-1.51zM364.25 535.74h1.51V536.88h-1.51zM365.38 536.62h1.51V537.81h-1.51zM366.51 534.14h1.51V535h-1.51zM367.63 536.75h1.51V538.01h-1.51zM368.76 534.94h1.51V536.21h-1.51zM369.88 537.62h1.51V539.08h-1.51zM371.01 539.56h1.51V541.56h-1.51zM372.14 535.81h1.51V536.94h-1.51zM373.26 536.42h1.51V537.34h-1.51zM374.39 531.26h1.51V532.47h-1.51zM375.51 536.01h1.51V537.15h-1.51zM376.64 534h1.51V536.01h-1.51zM377.76 537.08h1.51V538.55h-1.51zM378.89 539.09h1.51V540.89h-1.51zM380.02 535.21h1.51V536.28h-1.51zM381.14 536.34h1.51V537.55h-1.51zM382.27 535.95h1.51V537.14h-1.51zM383.39 533.54h1.51V534.74h-1.51zM384.52 534.27h1.51V535.41h-1.51zM385.65 536.75h1.51V537.61h-1.51zM386.77 537.95h1.51V539.88h-1.51zM387.9 538.82h1.51V540.69h-1.51zM389.02 540.03h1.51V542.23h-1.51zM390.15 534.34h1.51V535.2h-1.51zM391.28 534.6h1.51V535.54h-1.51zM392.4 531.39h1.51V533.87h-1.51zM393.53 536.82h1.51V538.01h-1.51zM394.65 539.49h1.51V541.02h-1.51zM395.78 535.14h1.51V536.27h-1.51zM396.9 535.35h1.51V536.34h-1.51zM398.03 533.4h1.51V534.61h-1.51zM399.16 535.81h1.51V536.74h-1.51zM400.28 534.68h1.51V535.6h-1.51zM401.41 538.15h1.51V539.62h-1.51zM402.53 540.16h1.51V541.96h-1.51zM403.66 536.01h1.51V537.48h-1.51zM404.79 537.08h1.51V538.48h-1.51zM405.91 533.33h1.51V534.41h-1.51zM407.04 535.21h1.51V536.28h-1.51zM408.16 532.06h1.51V534.41h-1.51zM409.29 536.75h1.51V537.81h-1.51zM410.41 539.43h1.51V541.36h-1.51zM411.54 536.68h1.51V537.61h-1.51zM412.67 536.48h1.51V537.55h-1.51zM413.79 531.59h1.51V533h-1.51zM414.92 535.01h1.51V536.27h-1.51zM416.04 533.4h1.51V534.27h-1.51zM417.17 537.55h1.51V538.95h-1.51zM418.3 539.49h1.51V541.49h-1.51zM419.42 537.42h1.51V538.61h-1.51zM420.55 537.35h1.51V538.75h-1.51zM421.67 535.88h1.51V536.88h-1.51zM422.8 535.88h1.51V536.81h-1.51zM423.93 534.87h1.51V536.21h-1.51zM425.05 538.49h1.51V539.88h-1.51zM426.18 538.22h1.51V540.22h-1.51zM427.3 536.48h1.51V537.94h-1.51zM428.43 535.81h1.51V536.88h-1.51zM429.55 533.67h1.51V535.34h-1.51zM430.68 535.14h1.51V536.27h-1.51zM431.81 533.53h1.51V534.81h-1.51zM432.93 537.62h1.51V539.48h-1.51zM434.06 538.82h1.51V540.35h-1.51zM435.18 534.74h1.51V536.08h-1.51zM436.31 537.75h1.51V539.48h-1.51zM437.44 531.39h1.51V532.6h-1.51zM438.56 533.2h1.51V534.81h-1.51zM439.69 530.86h1.51V532.67h-1.51zM440.81 535.21h1.51V536.35h-1.51zM441.94 537.28h1.51V538.28h-1.51zM443.06 530.93h1.51V533.2h-1.51zM444.19 530.99h1.51V532.94h-1.51zM445.32 527.25h1.51V530.66h-1.51zM446.44 527.51h1.51V530.19h-1.51zM447.57 527.25h1.51V530.6h-1.51zM448.69 532.46h1.51V534.27h-1.51zM449.82 535.61h1.51V536.94h-1.51zM450.95 530.73h1.51V532.13h-1.51zM452.07 522.3h1.51V525.65h-1.51zM453.2 521.9h1.51V527.38h-1.51zM454.32 518.82h1.51V523.84h-1.51zM455.45 520.69h1.51V525.58h-1.51zM456.58 527.85h1.51V531h-1.51zM457.7 529.25h1.51V531.4h-1.51zM458.83 536.35h1.51V537.54h-1.51zM459.95 527.51h1.51V529.99h-1.51zM461.08 522.7h1.51V527.25h-1.51zM462.2 518.42h1.51V523.51h-1.51zM463.33 518.62h1.51V525.18h-1.51zM464.46 524.04h1.51V527.92h-1.51zM465.58 529.72h1.51V532.27h-1.51zM466.71 526.78h1.51V529.32h-1.51zM467.83 521.63h1.51V525.25h-1.51zM468.96 520.09h1.51V524.51h-1.51zM470.09 524.77h1.51V526.98h-1.51zM471.21 518.69h1.51V523.24h-1.51zM472.34 529.52h1.51V531.4h-1.51zM473.46 530.99h1.51V532.13h-1.51zM474.59 527.92h1.51V531.53h-1.51zM475.71 519.29h1.51V523.91h-1.51zM476.84 515.48h1.51V520.9h-1.51zM477.97 517.88h1.51V523.77h-1.51zM479.09 516.41h1.51V521.7h-1.51zM480.22 522.9h1.51V526.18h-1.51zM481.34 530.66h1.51V532.33h-1.51zM482.47 523.17h1.51V526.78h-1.51zM483.6 513.47h1.51V519.56h-1.51zM484.72 508.72h1.51V516.28h-1.51zM485.85 513.61h1.51V519.09h-1.51zM486.97 511.2h1.51V517.89h-1.51zM488.1 519.76h1.51V523.84h-1.51zM489.23 525.17h1.51V528.05h-1.51zM490.35 518.82h1.51V524.71h-1.51zM491.48 509.59h1.51V517.09h-1.51zM492.6 503.11h1.51V511.47h-1.51zM493.73 503.91h1.51V510.93h-1.51zM494.85 499.03h1.51V508.12h-1.51zM495.98 510.73h1.51V516.89h-1.51zM497.11 521.96h1.51V525.11h-1.51zM498.23 504.91h1.51V512.67h-1.51zM499.36 499.7h1.51V510.33h-1.51zM500.48 481.5h1.51V491.47h-1.51zM501.61 506.52h1.51V514.14h-1.51zM502.74 505.38h1.51V512.4h-1.51zM503.86 505.58h1.51V512.27h-1.51zM504.99 498.96h1.51V510h-1.51zM506.11 481.97h1.51V493.48h-1.51zM507.24 465.72h1.51V482.85h-1.51zM508.36 424.8h1.51V456.43h-1.51zM509.49 425.87h1.51V450.01h-1.51zM510.62 431.35h1.51V458.5h-1.51zM511.74 473.61h1.51V489h-1.51zM512.87 485.79h1.51V497.83h-1.51zM513.99 497.49h1.51V507.46h-1.51zM515.12 477.89h1.51V493.41h-1.51zM516.25 477.49h1.51V491.54h-1.51zM517.37 454.49h1.51V473.08h-1.51zM518.5 463.25h1.51V479.64h-1.51zM519.62 474.95h1.51V489.8h-1.51zM520.75 494.68h1.51V507.05h-1.51zM521.88 494.75h1.51V505.05h-1.51zM523 490.8h1.51V503.58h-1.51zM524.13 488.13h1.51V500.1h-1.51zM525.25 500.36h1.51V509.13h-1.51zM526.38 501.84h1.51V510.6h-1.51zM527.5 504.44h1.51V513.94h-1.51zM528.63 521.63h1.51V526.72h-1.51zM529.76 506.92h1.51V514.61h-1.51zM530.88 508.99h1.51V518.02h-1.51zM532.01 505.71h1.51V514.48h-1.51zM533.13 513.67h1.51V519.89h-1.51zM534.26 517.95h1.51V522.84h-1.51zM535.39 522.83h1.51V526.65h-1.51zM536.51 530.39h1.51V532.4h-1.51zM537.64 523.5h1.51V527.12h-1.51zM538.76 520.56h1.51V524.98h-1.51zM539.89 518.35h1.51V524.04h-1.51zM541.01 526.11h1.51V529.32h-1.51zM542.14 523.44h1.51V527.52h-1.51zM543.27 529.25h1.51V532.4h-1.51zM544.39 534.74h1.51V536.08h-1.51zM545.52 531.33h1.51V533.34h-1.51zM546.64 527.45h1.51V530.39h-1.51zM547.77 529.12h1.51V531.93h-1.51zM548.9 534h1.51V535.48h-1.51zM550.02 530.52h1.51V533.14h-1.51zM551.15 532.26h1.51V534.88h-1.51zM552.27 535.54h1.51V537.08h-1.51zM553.4 533.8h1.51V534.88h-1.51zM554.53 531.19h1.51V533.94h-1.51zM555.65 530.19h1.51V532.4h-1.51zM556.78 531.8h1.51V534.34h-1.51zM557.9 532.33h1.51V534.14h-1.51zM559.03 535.28h1.51V536.27h-1.51zM560.15 537.55h1.51V538.61h-1.51zM561.28 533h1.51V534.54h-1.51zM562.41 536.22h1.51V537.28h-1.51zM563.53 531.53h1.51V533h-1.51zM564.66 534.74h1.51V535.67h-1.51zM565.78 531.13h1.51V533.6h-1.51zM566.91 532.26h1.51V533.47h-1.51zM568.04 538.76h1.51V540.49h-1.51zM569.16 535h1.51V536.68h-1.51zM570.29 531.46h1.51V533h-1.51zM571.41 532.73h1.51V533.94h-1.51zM572.54 531.86h1.51V533.14h-1.51zM573.66 534.14h1.51V535.41h-1.51zM574.79 533.94h1.51V534.74h-1.51zM575.92 538.69h1.51V540.49h-1.51zM577.04 532.06h1.51V533h-1.51zM578.17 529.39h1.51V531.53h-1.51zM579.29 530.59h1.51V532.27h-1.51zM580.42 531.66h1.51V533h-1.51zM581.55 529.59h1.51V532.94h-1.51zM582.67 534.34h1.51V535.34h-1.51zM583.8 536.01h1.51V537.08h-1.51zM584.92 530.26h1.51V531.2h-1.51zM586.05 526.04h1.51V529.32h-1.51zM587.18 529.72h1.51V532.4h-1.51zM588.3 530.12h1.51V531.8h-1.51zM589.43 528.59h1.51V531.46h-1.51zM590.55 532.33h1.51V533.8h-1.51zM591.68 535.35h1.51V536.61h-1.51zM592.8 528.59h1.51V530.66h-1.51zM593.93 525.11h1.51V528.45h-1.51zM595.06 526.71h1.51V528.86h-1.51zM596.18 527.45h1.51V529.73h-1.51zM597.31 524.64h1.51V527.45h-1.51zM598.43 529.99h1.51V531.46h-1.51zM599.56 533.27h1.51V534.14h-1.51zM600.69 528.92h1.51V530.33h-1.51zM601.81 524.91h1.51V528.12h-1.51zM602.94 521.83h1.51V526.11h-1.51zM604.06 524.51h1.51V526.98h-1.51zM605.19 522.77h1.51V526.45h-1.51zM606.31 527.65h1.51V529.32h-1.51zM607.44 531.86h1.51V534.14h-1.51zM608.57 526.24h1.51V529.19h-1.51zM609.69 516.88h1.51V522.03h-1.51zM610.82 518.89h1.51V522.03h-1.51zM611.94 518.42h1.51V523.44h-1.51zM613.07 515.21h1.51V519.29h-1.51zM614.2 523.03h1.51V526.18h-1.51zM615.32 528.65h1.51V530.73h-1.51zM616.45 518.02h1.51V522.37h-1.51zM617.57 515.88h1.51V520.03h-1.51zM618.7 507.45h1.51V514.08h-1.51zM619.83 511.67h1.51V517.42h-1.51zM620.95 507.32h1.51V513.34h-1.51zM622.08 517.35h1.51V522.7h-1.51zM623.2 524.91h1.51V527.45h-1.51zM624.33 509.86h1.51V515.15h-1.51zM625.45 504.18h1.51V511.67h-1.51zM626.58 500.9h1.51V509.19h-1.51zM627.71 506.32h1.51V512.67h-1.51zM628.83 500.36h1.51V508.53h-1.51zM629.96 512.8h1.51V519.43h-1.51zM631.08 523.37h1.51V526.52h-1.51zM632.21 504.91h1.51V511.07h-1.51zM633.34 499.9h1.51V508.33h-1.51zM634.46 494.01h1.51V502.84h-1.51zM635.59 509.53h1.51V514.95h-1.51zM636.71 491.34h1.51V502.04h-1.51zM637.84 501.03h1.51V508.33h-1.51zM638.96 508.72h1.51V516.08h-1.51zM640.09 514.68h1.51V520.56h-1.51zM641.22 514.27h1.51V519.89h-1.51zM642.34 516.61h1.51V520.56h-1.51zM643.47 500.97h1.51V510.47h-1.51zM644.59 489.53h1.51V502.57h-1.51zM645.72 494.35h1.51V504.45h-1.51zM646.85 516.88h1.51V522.37h-1.51zM647.97 501.5h1.51V510.47h-1.51zM649.1 496.15h1.51V504.65h-1.51zM650.22 493.34h1.51V502.84h-1.51zM651.35 505.71h1.51V512.34h-1.51zM652.48 505.85h1.51V512.81h-1.51zM653.6 517.48h1.51V522.7h-1.51zM654.73 523.84h1.51V525.98h-1.51zM655.85 507.52h1.51V513.94h-1.51zM656.98 505.71h1.51V513.74h-1.51zM658.1 502.77h1.51V510.93h-1.51zM659.23 512.53h1.51V517.82h-1.51zM660.36 516.01h1.51V521.63h-1.51zM661.48 515.95h1.51V520.5h-1.51zM662.61 527.58h1.51V529.52h-1.51zM663.73 517.02h1.51V521.03h-1.51zM664.86 506.12h1.51V513.34h-1.51zM665.99 508.99h1.51V514.34h-1.51zM667.11 514.61h1.51V518.82h-1.51zM668.24 517.88h1.51V522.24h-1.51zM669.36 521.1h1.51V526.11h-1.51zM670.49 530.66h1.51V531.93h-1.51zM671.61 520.56h1.51V524.24h-1.51zM672.74 519.62h1.51V523.71h-1.51zM673.87 518.62h1.51V523.84h-1.51zM674.99 520.69h1.51V524.64h-1.51zM676.12 522.83h1.51V526.38h-1.51zM677.24 525.51h1.51V528.52h-1.51zM678.37 531.8h1.51V532.8h-1.51zM679.5 525.44h1.51V527.85h-1.51zM680.62 520.96h1.51V523.64h-1.51zM681.75 521.96h1.51V525.78h-1.51zM682.87 521.9h1.51V525.65h-1.51zM684 519.89h1.51V524.17h-1.51zM685.13 528.32h1.51V530.33h-1.51zM686.25 533.47h1.51V534.41h-1.51zM687.38 527.45h1.51V529.46h-1.51zM688.5 518.69h1.51V522.37h-1.51zM689.63 521.3h1.51V525.11h-1.51zM690.75 520.56h1.51V524.84h-1.51zM691.88 523.84h1.51V527.32h-1.51zM693.01 524.04h1.51V526.52h-1.51zM694.13 531.33h1.51V533.14h-1.51zM695.26 521.63h1.51V525.71h-1.51zM696.38 511.6h1.51V517.62h-1.51zM697.51 514.47h1.51V518.89h-1.51zM698.64 513.87h1.51V518.16h-1.51zM699.76 516.75h1.51V520.23h-1.51zM700.89 524.17h1.51V527.25h-1.51zM702.01 527.51h1.51V529.26h-1.51zM703.14 518.96h1.51V523.24h-1.51zM704.26 503.98h1.51V509.66h-1.51zM705.39 506.85h1.51V512.67h-1.51zM706.52 509.06h1.51V515.08h-1.51zM707.64 505.18h1.51V511.94h-1.51zM708.77 516.28h1.51V520.36h-1.51zM709.89 525.91h1.51V528.92h-1.51zM711.02 511.8h1.51V517.75h-1.51zM712.15 495.08h1.51V504.25h-1.51zM713.27 497.29h1.51V505.52h-1.51zM714.4 498.56h1.51V506.99h-1.51zM715.52 492.34h1.51V502.77h-1.51zM716.65 510.73h1.51V515.21h-1.51zM717.78 515.28h1.51V519.96h-1.51zM718.9 498.02h1.51V505.98h-1.51zM720.03 481.17h1.51V495.15h-1.51zM721.15 474.55h1.51V487.06h-1.51zM722.28 475.35h1.51V486.79h-1.51zM723.4 463.92h1.51V477.09h-1.51zM724.53 487.79h1.51V498.83h-1.51zM725.66 503.57h1.51V510.13h-1.51zM726.78 465.86h1.51V480.17h-1.51zM727.91 442.45h1.51V463.32h-1.51zM729.03 435.56h1.51V455.63h-1.51zM730.16 469.27h1.51V484.12h-1.51zM731.29 481.5h1.51V495.08h-1.51zM732.41 446.06h1.51V465.86h-1.51zM733.54 464.72h1.51V479.44h-1.51zM734.66 384.8h1.51V411.56h-1.51zM735.79 363.2h1.51V398.58h-1.51zM736.91 329.16h1.51V366.82h-1.51zM738.04 363.6h1.51V398.45h-1.51zM739.17 318.53h1.51V361.27h-1.51zM740.29 376.31h1.51V407.61h-1.51zM741.42 422.66h1.51V446.8h-1.51zM742.54 340.73h1.51V381.8h-1.51zM743.67 310.91h1.51V353.31h-1.51zM744.8 267.57h1.51V323.55h-1.51zM745.92 293.85h1.51V342.14h-1.51zM747.05 295.53h1.51V344.55h-1.51zM748.17 324.28h1.51V367.22h-1.51zM749.3 389.95h1.51V424.53h-1.51zM750.43 401.12h1.51V426h-1.51zM751.55 315.39h1.51V364.14h-1.51zM752.68 274.39h1.51V325.96h-1.51zM753.8 225.77h1.51V284.83h-1.51zM754.93 263.43h1.51V310.17h-1.51zM756.05 305.69h1.51V353.71h-1.51zM757.18 380.32h1.51V411.62h-1.51z"/>
<path fill="#3CEAA6" d="M140.21 542.03h1.51V544.77h-1.51zM141.33 541.97h1.51V544.63h-1.51zM143.59 542.1h1.51V544.83h-1.51zM146.96 542.1h1.51V544.83h-1.51zM150.34 542.1h1.51V544.83h-1.51zM152.59 541.97h1.51V544.7h-1.51zM159.35 542.1h1.51V544.83h-1.51zM161.6 541.97h1.51V544.57h-1.51zM162.73 541.97h1.51V544.7h-1.51zM163.85 541.9h1.51V544.57h-1.51zM166.1 542.03h1.51V544.7h-1.51zM167.23 542.03h1.51V544.7h-1.51zM168.35 541.83h1.51V544.57h-1.51zM170.61 542.03h1.51V544.77h-1.51zM175.11 541.9h1.51V544.3h-1.51zM176.24 541.77h1.51V544.37h-1.51zM177.36 541.9h1.51V544.57h-1.51zM181.86 541.7h1.51V544.16h-1.51zM182.99 541.63h1.51V544.1h-1.51zM184.12 540.76h1.51V542.89h-1.51zM185.24 540.83h1.51V543.03h-1.51zM186.37 541.03h1.51V543.36h-1.51zM187.49 539.89h1.51V541.69h-1.51zM188.62 539.49h1.51V541.56h-1.51zM189.75 541.77h1.51V544.43h-1.51zM190.87 538.89h1.51V540.62h-1.51zM192 540.09h1.51V541.82h-1.51zM193.12 538.49h1.51V540.49h-1.51zM194.25 539.22h1.51V541.22h-1.51zM195.38 538.35h1.51V539.22h-1.51zM196.5 536.95h1.51V538.28h-1.51zM197.63 538.82h1.51V540.75h-1.51zM198.75 539.02h1.51V541.09h-1.51zM199.88 535.55h1.51V537.21h-1.51zM201 535.48h1.51V536.81h-1.51zM202.13 535.21h1.51V536.28h-1.51zM203.26 535.67h1.51V536.88h-1.51zM204.38 536.21h1.51V537.01h-1.51zM205.51 538.22h1.51V540.02h-1.51zM206.63 535.61h1.51V537.01h-1.51zM207.76 537.42h1.51V538.55h-1.51zM208.89 535.95h1.51V537.21h-1.51zM210.01 534.74h1.51V535.88h-1.51zM211.14 535.14h1.51V536.21h-1.51zM212.26 537.42h1.51V539.28h-1.51zM213.39 538.76h1.51V540.95h-1.51zM214.51 537.35h1.51V539.08h-1.51zM215.64 537.62h1.51V539.01h-1.51zM216.77 537.15h1.51V538.61h-1.51zM217.89 536.22h1.51V537.08h-1.51zM219.02 537.42h1.51V539.48h-1.51zM220.14 539.29h1.51V541.15h-1.51zM221.27 540.43h1.51V542.89h-1.51zM222.4 538.29h1.51V539.75h-1.51zM223.52 540.7h1.51V543.16h-1.51zM224.65 540.03h1.51V542.43h-1.51zM225.77 536.35h1.51V537.81h-1.51zM226.9 536.48h1.51V537.81h-1.51zM228.03 538.82h1.51V540.89h-1.51zM229.15 538.82h1.51V540.75h-1.51zM230.28 540.63h1.51V543.03h-1.51zM231.4 541.1h1.51V543.43h-1.51zM232.53 541.36h1.51V543.96h-1.51zM233.65 541.23h1.51V543.43h-1.51zM234.78 541.03h1.51V543.5h-1.51zM235.91 541.36h1.51V544.03h-1.51zM238.16 541.36h1.51V543.9h-1.51zM240.41 541.36h1.51V543.83h-1.51zM241.54 541.83h1.51V544.57h-1.51zM242.66 541.57h1.51V544.3h-1.51zM243.79 542.03h1.51V544.7h-1.51zM244.91 541.7h1.51V544.43h-1.51zM251.67 541.57h1.51V544.16h-1.51zM255.05 541.63h1.51V544.3h-1.51zM257.3 541.3h1.51V543.83h-1.51zM258.42 541.63h1.51V544.16h-1.51zM260.68 541.5h1.51V544.1h-1.51zM261.8 540.76h1.51V543.16h-1.51zM262.93 541.36h1.51V544.1h-1.51zM264.05 540.9h1.51V543.5h-1.51zM266.3 540.96h1.51V543.63h-1.51zM267.43 541.36h1.51V544.03h-1.51zM270.81 541.16h1.51V543.76h-1.51zM273.06 540.76h1.51V543.36h-1.51zM275.31 539.56h1.51V542.16h-1.51zM276.44 539.29h1.51V541.96h-1.51zM278.69 541.23h1.51V543.9h-1.51zM279.81 540.03h1.51V542.56h-1.51zM280.94 540.29h1.51V542.83h-1.51zM282.07 539.96h1.51V542.56h-1.51zM283.19 540.29h1.51V542.96h-1.51zM284.32 540.7h1.51V543.36h-1.51zM285.44 540.16h1.51V542.89h-1.51zM286.57 538.69h1.51V541.42h-1.51zM287.7 539.36h1.51V542.02h-1.51zM288.82 539.02h1.51V541.56h-1.51zM289.95 538.82h1.51V541.42h-1.51zM291.07 538.76h1.51V541.36h-1.51zM292.2 538.62h1.51V541.15h-1.51zM293.33 539.29h1.51V541.62h-1.51zM294.45 538.89h1.51V540.89h-1.51zM295.58 536.15h1.51V538.28h-1.51zM296.7 535.01h1.51V537.21h-1.51zM297.83 534.61h1.51V536.67h-1.51zM298.95 536.62h1.51V538.68h-1.51zM300.08 536.01h1.51V538.48h-1.51zM301.21 535.75h1.51V538.15h-1.51zM302.33 537.82h1.51V540.15h-1.51zM303.46 529.8h1.51V531.06h-1.51zM304.58 528.46h1.51V529.59h-1.51zM305.71 530.33h1.51V531.66h-1.51zM306.84 529.8h1.51V531.66h-1.51zM307.96 535.08h1.51V537.48h-1.51zM309.09 534.48h1.51V536.47h-1.51zM310.21 532.8h1.51V534.87h-1.51zM311.34 525.58h1.51V527.18h-1.51zM312.46 525.31h1.51V526.51h-1.51zM313.59 525.45h1.51V527.25h-1.51zM314.72 531.33h1.51V532.93h-1.51zM315.84 532.74h1.51V534.74h-1.51zM316.97 529.13h1.51V530.52h-1.51zM318.09 528.26h1.51V529.92h-1.51zM319.22 521.63h1.51V522.97h-1.51zM320.35 527.79h1.51V529.12h-1.51zM321.47 526.52h1.51V527.45h-1.51zM322.6 528.86h1.51V530.25h-1.51zM323.72 534.68h1.51V536.67h-1.51zM324.85 526.99h1.51V528.25h-1.51zM325.98 528.46h1.51V529.85h-1.51zM327.1 522.1h1.51V523.04h-1.51zM328.23 515.54h1.51V517.15h-1.51zM329.35 515.14h1.51V516.82h-1.51zM330.48 526.91h1.51V527.72h-1.51zM331.6 528.26h1.51V529.25h-1.51zM332.73 524.91h1.51V526.11h-1.51zM333.86 527.65h1.51V528.98h-1.51zM334.98 522.5h1.51V523.57h-1.51zM336.11 516.35h1.51V518.16h-1.51zM337.23 518.15h1.51V520.1h-1.51zM338.36 524.51h1.51V525.57h-1.51zM339.49 531.2h1.51V532.86h-1.51zM340.61 532.34h1.51V533.73h-1.51zM341.74 530.53h1.51V531.52h-1.51zM342.86 531.6h1.51V532.93h-1.51zM343.99 521.23h1.51V522.97h-1.51zM345.11 520.43h1.51V521.9h-1.51zM346.24 528.12h1.51V529.45h-1.51zM347.37 533.41h1.51V535.4h-1.51zM348.49 530.87h1.51V532.26h-1.51zM349.62 532.94h1.51V534.53h-1.51zM350.74 524.37h1.51V525.71h-1.51zM351.87 529.39h1.51V530.33h-1.51zM353 528.79h1.51V529.93h-1.51zM354.12 532h1.51V533.06h-1.51zM355.25 537.69h1.51V539.75h-1.51zM356.37 532.94h1.51V534.4h-1.51zM357.5 530.93h1.51V531.99h-1.51zM358.63 529.33h1.51V530.25h-1.51zM359.75 531.13h1.51V532.13h-1.51zM360.88 529.46h1.51V530.52h-1.51zM362 534.41h1.51V536.47h-1.51zM363.13 536.95h1.51V538.88h-1.51zM364.25 533.74h1.51V535.07h-1.51zM365.38 535.01h1.51V536.27h-1.51zM366.51 532.2h1.51V533.26h-1.51zM367.63 535.21h1.51V537.14h-1.51zM368.76 533.41h1.51V534.87h-1.51zM369.88 536.28h1.51V538.35h-1.51zM371.01 538.76h1.51V540.95h-1.51zM372.14 534.14h1.51V535.34h-1.51zM373.26 534.54h1.51V536.47h-1.51zM374.39 528.72h1.51V530.06h-1.51zM375.51 533.87h1.51V534.81h-1.51zM376.64 531.46h1.51V532.8h-1.51zM377.76 535.75h1.51V536.88h-1.51zM378.89 538.09h1.51V540.29h-1.51zM380.02 533.21h1.51V534.13h-1.51zM381.14 534.34h1.51V536.07h-1.51zM382.27 534.34h1.51V535.6h-1.51zM383.39 531.94h1.51V532.86h-1.51zM384.52 532.13h1.51V533.07h-1.51zM385.65 534.81h1.51V536.21h-1.51zM386.77 537.08h1.51V539.01h-1.51zM387.9 537.89h1.51V540.02h-1.51zM389.02 539.43h1.51V541.96h-1.51zM390.15 532.4h1.51V533.4h-1.51zM391.28 532.6h1.51V533.66h-1.51zM392.4 529.39h1.51V530.19h-1.51zM393.53 535.21h1.51V537.14h-1.51zM394.65 538.22h1.51V540.35h-1.51zM395.78 533.33h1.51V534.27h-1.51zM396.9 533.54h1.51V534.53h-1.51zM398.03 531.19h1.51V532.2h-1.51zM399.16 533.94h1.51V534.74h-1.51zM400.28 532.8h1.51V533.6h-1.51zM401.41 536.82h1.51V538.75h-1.51zM402.53 539.16h1.51V541.29h-1.51zM403.66 534.68h1.51V535.67h-1.51zM404.79 535.68h1.51V537.34h-1.51zM405.91 530.32h1.51V532.13h-1.51zM407.04 533.07h1.51V534.01h-1.51zM408.16 530.06h1.51V531.39h-1.51zM409.29 535.01h1.51V536.61h-1.51zM410.41 538.56h1.51V540.75h-1.51zM411.54 534.81h1.51V536.14h-1.51zM412.67 534.48h1.51V535.94h-1.51zM413.79 528.65h1.51V530.39h-1.51zM414.92 533.47h1.51V534.33h-1.51zM416.04 530.99h1.51V532.2h-1.51zM417.17 536.15h1.51V537.41h-1.51zM418.3 538.69h1.51V540.82h-1.51zM419.42 535.81h1.51V537.21h-1.51zM420.55 535.95h1.51V537.28h-1.51zM421.67 534.08h1.51V535.07h-1.51zM422.8 534.01h1.51V535.07h-1.51zM423.93 532.87h1.51V533.8h-1.51zM425.05 537.08h1.51V538.55h-1.51zM426.18 537.42h1.51V539.08h-1.51zM427.3 535.14h1.51V536.67h-1.51zM428.43 534.08h1.51V535.47h-1.51zM429.55 531.67h1.51V533h-1.51zM430.68 533.33h1.51V534.27h-1.51zM431.81 531.53h1.51V532.53h-1.51zM432.93 536.68h1.51V538.35h-1.51zM434.06 537.55h1.51V539.95h-1.51zM435.18 532.4h1.51V533.54h-1.51zM436.31 536.68h1.51V538.55h-1.51zM437.44 528.32h1.51V530.19h-1.51zM438.56 531.13h1.51V532h-1.51zM439.69 528.25h1.51V529.66h-1.51zM440.81 533.21h1.51V534.67h-1.51zM441.94 535.48h1.51V536.88h-1.51zM443.06 527.98h1.51V529.73h-1.51zM444.19 527.45h1.51V529.79h-1.51zM445.32 522.9h1.51V526.05h-1.51zM446.44 524.97h1.51V526.31h-1.51zM447.57 524.64h1.51V526.05h-1.51zM448.69 530.46h1.51V531.26h-1.51zM449.82 534.14h1.51V535.6h-1.51zM450.95 528.05h1.51V529.52h-1.51zM452.07 517.62h1.51V521.1h-1.51zM453.2 516.48h1.51V520.7h-1.51zM454.32 515.08h1.51V517.62h-1.51zM455.45 514.81h1.51V519.49h-1.51zM456.58 524.1h1.51V526.65h-1.51zM457.7 526.91h1.51V528.05h-1.51zM458.83 534.47h1.51V535.54h-1.51zM459.95 522.9h1.51V526.31h-1.51zM461.08 517.55h1.51V521.5h-1.51zM462.2 513.74h1.51V517.22h-1.51zM463.33 514.14h1.51V517.42h-1.51zM464.46 520.89h1.51V522.84h-1.51zM465.58 526.58h1.51V528.52h-1.51zM466.71 523.1h1.51V525.58h-1.51zM467.83 517.08h1.51V520.43h-1.51zM468.96 515.28h1.51V518.89h-1.51zM470.09 520.29h1.51V523.57h-1.51zM471.21 513.54h1.51V517.49h-1.51zM472.34 526.65h1.51V528.32h-1.51zM473.46 528.25h1.51V529.79h-1.51zM474.59 524.37h1.51V526.72h-1.51zM475.71 514.07h1.51V518.09h-1.51zM476.84 509.73h1.51V514.28h-1.51zM477.97 512.2h1.51V516.68h-1.51zM479.09 510.86h1.51V515.21h-1.51zM480.22 518.75h1.51V521.7h-1.51zM481.34 527.38h1.51V529.46h-1.51zM482.47 518.62h1.51V521.97h-1.51zM483.6 507.45h1.51V512.27h-1.51zM484.72 499.63h1.51V507.52h-1.51zM485.85 508.52h1.51V512.4h-1.51zM486.97 504.24h1.51V510h-1.51zM488.1 514.34h1.51V518.56h-1.51zM489.23 521.1h1.51V523.97h-1.51zM490.35 513.54h1.51V517.62h-1.51zM491.48 503.04h1.51V508.39h-1.51zM492.6 495.28h1.51V501.91h-1.51zM493.73 496.55h1.51V502.71h-1.51zM494.85 490.67h1.51V497.83h-1.51zM495.98 504.11h1.51V509.53h-1.51zM497.11 517.75h1.51V520.76h-1.51zM498.23 495.88h1.51V503.71h-1.51zM499.36 491.34h1.51V498.5h-1.51zM500.48 469.74h1.51V480.3h-1.51zM501.61 499.96h1.51V505.32h-1.51zM502.74 498.29h1.51V504.18h-1.51zM503.86 497.15h1.51V504.38h-1.51zM504.99 491.34h1.51V497.76h-1.51zM506.11 469.2h1.51V480.77h-1.51zM507.24 451.75h1.51V464.52h-1.51zM508.36 400.32h1.51V423.59h-1.51zM509.49 402.79h1.51V424.66h-1.51zM510.62 410.95h1.51V430.15h-1.51zM511.74 459.57h1.51V472.41h-1.51zM512.87 474.88h1.51V484.58h-1.51zM513.99 488.93h1.51V496.29h-1.51zM515.12 465.46h1.51V476.69h-1.51zM516.25 462.71h1.51V476.29h-1.51zM517.37 437.57h1.51V453.29h-1.51zM518.5 449.47h1.51V462.05h-1.51zM519.62 462.51h1.51V473.75h-1.51zM520.75 483.31h1.51V493.48h-1.51zM521.88 482.78h1.51V493.55h-1.51zM523 479.43h1.51V489.6h-1.51zM524.13 473.55h1.51V486.93h-1.51zM525.25 489.26h1.51V499.16h-1.51zM526.38 494.01h1.51V500.63h-1.51zM527.5 496.02h1.51V503.24h-1.51zM528.63 516.08h1.51V520.43h-1.51zM529.76 496.95h1.51V505.72h-1.51zM530.88 499.63h1.51V507.79h-1.51zM532.01 495.21h1.51V504.51h-1.51zM533.13 504.91h1.51V512.47h-1.51zM534.26 510.33h1.51V516.75h-1.51zM535.39 515.61h1.51V521.63h-1.51zM536.51 526.51h1.51V529.19h-1.51zM537.64 518.55h1.51V522.3h-1.51zM538.76 514.07h1.51V519.36h-1.51zM539.89 510.46h1.51V517.15h-1.51zM541.01 520.56h1.51V524.91h-1.51zM542.14 516.28h1.51V522.24h-1.51zM543.27 526.85h1.51V528.05h-1.51zM544.39 531.26h1.51V533.54h-1.51zM545.52 527.25h1.51V530.13h-1.51zM546.64 523.3h1.51V526.25h-1.51zM547.77 525.11h1.51V527.92h-1.51zM548.9 530.93h1.51V532.8h-1.51zM550.02 527.38h1.51V529.32h-1.51zM551.15 529.39h1.51V531.06h-1.51zM552.27 533.2h1.51V534.34h-1.51zM553.4 530.79h1.51V532.6h-1.51zM554.53 527.25h1.51V529.99h-1.51zM555.65 525.98h1.51V528.99h-1.51zM556.78 528.18h1.51V530.6h-1.51zM557.9 529.99h1.51V531.13h-1.51zM559.03 532.2h1.51V534.27h-1.51zM560.15 535.81h1.51V536.67h-1.51zM561.28 530.99h1.51V531.8h-1.51zM562.41 534.48h1.51V535.74h-1.51zM563.53 528.32h1.51V530.33h-1.51zM564.66 532.46h1.51V533.67h-1.51zM565.78 528.12h1.51V529.93h-1.51zM566.91 528.59h1.51V531.06h-1.51zM568.04 537.69h1.51V539.15h-1.51zM569.16 532.66h1.51V533.8h-1.51zM570.29 529.25h1.51V530.26h-1.51zM571.41 530.66h1.51V531.53h-1.51zM572.54 529.72h1.51V530.66h-1.51zM573.66 531.66h1.51V532.94h-1.51zM574.79 531.94h1.51V533.06h-1.51zM575.92 537.69h1.51V539.75h-1.51zM577.04 530.06h1.51V530.86h-1.51zM578.17 526.85h1.51V528.19h-1.51zM579.29 527.51h1.51V529.39h-1.51zM580.42 528.79h1.51V530.46h-1.51zM581.55 526.85h1.51V528.39h-1.51zM582.67 531.8h1.51V533.14h-1.51zM583.8 534.28h1.51V535.94h-1.51zM584.92 528.26h1.51V529.18h-1.51zM586.05 522.63h1.51V524.84h-1.51zM587.18 527.31h1.51V528.52h-1.51zM588.3 527.58h1.51V528.92h-1.51zM589.43 525.38h1.51V527.38h-1.51zM590.55 530.33h1.51V531.79h-1.51zM591.68 533.81h1.51V534.94h-1.51zM592.8 526.45h1.51V527.38h-1.51zM593.93 521.43h1.51V523.91h-1.51zM595.06 523.97h1.51V525.51h-1.51zM596.18 524.17h1.51V526.25h-1.51zM597.31 520.96h1.51V523.44h-1.51zM598.43 527.58h1.51V528.79h-1.51zM599.56 530.93h1.51V532.07h-1.51zM600.69 525.84h1.51V527.72h-1.51zM601.81 521.56h1.51V523.71h-1.51zM602.94 517.55h1.51V520.63h-1.51zM604.06 520.29h1.51V523.31h-1.51zM605.19 519.42h1.51V521.57h-1.51zM606.31 524.71h1.51V526.45h-1.51zM607.44 529.86h1.51V530.92h-1.51zM608.57 522.83h1.51V525.04h-1.51zM609.69 512.4h1.51V515.68h-1.51zM610.82 513.94h1.51V517.69h-1.51zM611.94 513.87h1.51V517.22h-1.51zM613.07 511.2h1.51V514.01h-1.51zM614.2 519.82h1.51V521.83h-1.51zM615.32 526.18h1.51V527.45h-1.51zM616.45 515.01h1.51V516.82h-1.51zM617.57 511.13h1.51V514.68h-1.51zM618.7 501.97h1.51V506.25h-1.51zM619.83 505.91h1.51V510.47h-1.51zM620.95 500.5h1.51V506.12h-1.51zM622.08 512.87h1.51V516.15h-1.51zM623.2 521.43h1.51V523.71h-1.51zM624.33 504.91h1.51V508.66h-1.51zM625.45 497.29h1.51V502.98h-1.51zM626.58 494.01h1.51V499.7h-1.51zM627.71 500.23h1.51V505.12h-1.51zM628.83 494.14h1.51V499.16h-1.51zM629.96 506.78h1.51V511.6h-1.51zM631.08 519.69h1.51V522.17h-1.51zM632.21 496.62h1.51V503.71h-1.51zM633.34 491.74h1.51V498.7h-1.51zM634.46 485.45h1.51V492.81h-1.51zM635.59 503.77h1.51V508.33h-1.51zM636.71 483.78h1.51V490.14h-1.51zM637.84 494.41h1.51V499.83h-1.51zM638.96 502.17h1.51V507.52h-1.51zM640.09 509.46h1.51V513.48h-1.51zM641.22 508.79h1.51V513.07h-1.51zM642.34 510.73h1.51V515.41h-1.51zM643.47 492.14h1.51V499.77h-1.51zM644.59 479.43h1.51V488.33h-1.51zM645.72 485.99h1.51V493.14h-1.51zM646.85 511.6h1.51V515.68h-1.51zM647.97 492.14h1.51V500.3h-1.51zM649.1 488.13h1.51V494.95h-1.51zM650.22 485.38h1.51V492.14h-1.51zM651.35 495.28h1.51V504.51h-1.51zM652.48 499.83h1.51V504.65h-1.51zM653.6 513h1.51V516.28h-1.51zM654.73 520.09h1.51V522.64h-1.51zM655.85 500.83h1.51V506.32h-1.51zM656.98 499.7h1.51V504.51h-1.51zM658.1 495.21h1.51V501.57h-1.51zM659.23 507.19h1.51V511.33h-1.51zM660.36 509.86h1.51V514.81h-1.51zM661.48 512.47h1.51V514.75h-1.51zM662.61 524.77h1.51V526.38h-1.51zM663.73 511.8h1.51V515.82h-1.51zM664.86 500.03h1.51V504.91h-1.51zM665.99 504.18h1.51V507.79h-1.51zM667.11 507.79h1.51V513.41h-1.51zM668.24 512.27h1.51V516.68h-1.51zM669.36 517.42h1.51V519.89h-1.51zM670.49 528.52h1.51V529.46h-1.51zM671.61 516.35h1.51V519.36h-1.51zM672.74 515.34h1.51V518.42h-1.51zM673.87 514.07h1.51V517.42h-1.51zM674.99 516.35h1.51V519.49h-1.51zM676.12 518.96h1.51V521.63h-1.51zM677.24 522.7h1.51V524.31h-1.51zM678.37 529.8h1.51V530.66h-1.51zM679.5 522.43h1.51V524.24h-1.51zM680.62 518.09h1.51V519.76h-1.51zM681.75 518.22h1.51V520.76h-1.51zM682.87 517.68h1.51V520.7h-1.51zM684 515.81h1.51V518.69h-1.51zM685.13 526.11h1.51V527.12h-1.51zM686.25 531.47h1.51V532.33h-1.51zM687.38 524.37h1.51V526.25h-1.51zM688.5 513.81h1.51V517.49h-1.51zM689.63 517.15h1.51V520.1h-1.51zM690.75 517.22h1.51V519.36h-1.51zM691.88 519.96h1.51V522.64h-1.51zM693.01 520.96h1.51V522.84h-1.51zM694.13 529.33h1.51V530.52h-1.51zM695.26 517.68h1.51V520.43h-1.51zM696.38 505.58h1.51V510.4h-1.51zM697.51 508.99h1.51V513.27h-1.51zM698.64 509.66h1.51V512.67h-1.51zM699.76 511.47h1.51V515.55h-1.51zM700.89 520.83h1.51V522.97h-1.51zM702.01 524.44h1.51V526.31h-1.51zM703.14 515.48h1.51V517.75h-1.51zM704.26 499.83h1.51V502.77h-1.51zM705.39 502.44h1.51V505.65h-1.51zM706.52 503.37h1.51V507.86h-1.51zM707.64 499.76h1.51V503.98h-1.51zM708.77 512.33h1.51V515.08h-1.51zM709.89 522.83h1.51V524.71h-1.51zM711.02 507.65h1.51V510.6h-1.51zM712.15 487.59h1.51V493.88h-1.51zM713.27 489.53h1.51V496.09h-1.51zM714.4 491.94h1.51V497.36h-1.51zM715.52 484.58h1.51V491.14h-1.51zM716.65 506.72h1.51V509.53h-1.51zM717.78 511.93h1.51V514.08h-1.51zM718.9 491.67h1.51V496.82h-1.51zM720.03 472.61h1.51V479.97h-1.51zM721.15 461.31h1.51V473.35h-1.51zM722.28 465.66h1.51V474.15h-1.51zM723.4 455.42h1.51V462.72h-1.51zM724.53 479.97h1.51V486.59h-1.51zM725.66 498.42h1.51V502.37h-1.51zM726.78 456.29h1.51V464.66h-1.51zM727.91 429.01h1.51V441.25h-1.51zM729.03 419.78h1.51V434.36h-1.51zM730.16 458.7h1.51V468.07h-1.51zM731.29 472.88h1.51V480.3h-1.51zM732.41 431.22h1.51V444.86h-1.51zM733.54 454.42h1.51V463.52h-1.51zM734.66 365.21h1.51V383.6h-1.51zM735.79 343.34h1.51V362h-1.51zM736.91 299.47h1.51V327.96h-1.51zM738.04 334.45h1.51V362.4h-1.51zM739.17 286.43h1.51V317.33h-1.51zM740.29 352.04h1.51V375.11h-1.51zM741.42 405.2h1.51V421.45h-1.51zM742.54 311.24h1.51V339.53h-1.51zM743.67 281.82h1.51V309.71h-1.51zM744.8 228.65h1.51V266.37h-1.51zM745.92 262.16h1.51V292.65h-1.51zM747.05 256.87h1.51V294.33h-1.51zM748.17 288.7h1.51V323.08h-1.51zM749.3 364.14h1.51V388.75h-1.51zM750.43 379.52h1.51V399.92h-1.51zM751.55 279.88h1.51V314.19h-1.51zM752.68 233.26h1.51V273.19h-1.51zM753.8 180.77h1.51V224.57h-1.51zM754.93 224.7h1.51V262.23h-1.51zM756.05 273.46h1.51V304.49h-1.51zM757.18 358.66h1.51V379.12h-1.51z"/>
<path fill="#3CCDDB" d="M140.21 541.97h1.51V544.63h-1.51zM144.71 542.03h1.51V544.77h-1.51zM160.47 541.97h1.51V544.7h-1.51zM161.6 541.77h1.51V544.43h-1.51zM163.85 541.77h1.51V544.5h-1.51zM168.35 541.77h1.51V544.5h-1.51zM171.73 541.7h1.51V544.37h-1.51zM172.86 542.03h1.51V544.77h-1.51zM175.11 541.5h1.51V544.23h-1.51zM176.24 541.57h1.51V544.3h-1.51zM177.36 541.77h1.51V544.5h-1.51zM178.49 541.63h1.51V544.37h-1.51zM179.61 541.83h1.51V544.5h-1.51zM181.86 541.36h1.51V544.03h-1.51zM182.99 541.3h1.51V543.96h-1.51zM184.12 540.09h1.51V542.43h-1.51zM185.24 540.23h1.51V542.56h-1.51zM186.37 540.56h1.51V542.89h-1.51zM187.49 538.89h1.51V541.15h-1.51zM188.62 538.76h1.51V540.95h-1.51zM189.75 541.63h1.51V544.37h-1.51zM190.87 537.82h1.51V540.22h-1.51zM192 539.02h1.51V541.36h-1.51zM193.12 537.69h1.51V539.82h-1.51zM194.25 538.42h1.51V539.88h-1.51zM195.38 536.35h1.51V538.35h-1.51zM196.5 535.48h1.51V537.28h-1.51zM197.63 537.95h1.51V540.22h-1.51zM198.75 538.29h1.51V540.35h-1.51zM199.88 534.41h1.51V536.01h-1.51zM201 534.01h1.51V535.6h-1.51zM202.13 533.21h1.51V534.2h-1.51zM203.26 533.67h1.51V535.07h-1.51zM204.38 534.21h1.51V535.67h-1.51zM205.51 537.22h1.51V539.68h-1.51zM206.63 534.21h1.51V536.01h-1.51zM207.76 535.75h1.51V537.81h-1.51zM208.89 534.41h1.51V536.47h-1.51zM210.01 532.74h1.51V534.33h-1.51zM211.14 533.41h1.51V535.2h-1.51zM212.26 536.48h1.51V538.88h-1.51zM213.39 538.15h1.51V540.02h-1.51zM214.51 536.28h1.51V538.21h-1.51zM215.64 536.22h1.51V538.55h-1.51zM216.77 535.81h1.51V538.01h-1.51zM217.89 534.28h1.51V536.47h-1.51zM219.02 536.68h1.51V538.55h-1.51zM220.14 538.36h1.51V540.62h-1.51zM221.27 540.09h1.51V542.69h-1.51zM222.4 536.95h1.51V538.95h-1.51zM223.52 540.36h1.51V542.83h-1.51zM224.65 539.63h1.51V542.16h-1.51zM225.77 535.01h1.51V536.74h-1.51zM226.9 535.01h1.51V537.34h-1.51zM228.03 538.09h1.51V540.69h-1.51zM229.15 537.95h1.51V540.42h-1.51zM230.28 540.23h1.51V542.56h-1.51zM231.4 540.63h1.51V543.16h-1.51zM232.53 541.16h1.51V543.63h-1.51zM233.65 540.63h1.51V543.03h-1.51zM234.78 540.7h1.51V543.36h-1.51zM235.91 541.23h1.51V543.96h-1.51zM237.03 541.5h1.51V544.03h-1.51zM238.16 541.1h1.51V543.56h-1.51zM239.28 541.77h1.51V544.43h-1.51zM240.41 541.03h1.51V543.5h-1.51zM241.54 541.77h1.51V544.5h-1.51zM244.91 541.63h1.51V544.37h-1.51zM246.04 541.9h1.51V544.63h-1.51zM248.29 541.57h1.51V544.16h-1.51zM251.67 541.36h1.51V544.1h-1.51zM252.79 541.7h1.51V544.43h-1.51zM257.3 541.03h1.51V543.63h-1.51zM258.42 541.36h1.51V544.03h-1.51zM261.8 540.36h1.51V542.96h-1.51zM264.05 540.7h1.51V543.43h-1.51zM265.18 541.1h1.51V543.76h-1.51zM266.3 540.83h1.51V543.5h-1.51zM268.56 541.5h1.51V544.16h-1.51zM270.81 540.96h1.51V543.7h-1.51zM271.93 540.96h1.51V543.43h-1.51zM273.06 540.56h1.51V543.29h-1.51zM274.19 540.63h1.51V543.29h-1.51zM275.31 539.36h1.51V542.09h-1.51zM276.44 539.16h1.51V541.89h-1.51zM277.56 540.56h1.51V543.16h-1.51zM279.81 539.76h1.51V542.43h-1.51zM280.94 540.03h1.51V542.69h-1.51zM282.07 539.76h1.51V542.49h-1.51zM283.19 540.16h1.51V542.83h-1.51zM284.32 540.56h1.51V543.29h-1.51zM286.57 538.62h1.51V541.29h-1.51zM289.95 538.62h1.51V541.29h-1.51zM291.07 538.56h1.51V541.22h-1.51zM292.2 538.36h1.51V541.09h-1.51zM293.33 538.82h1.51V541.56h-1.51zM294.45 538.09h1.51V540.62h-1.51zM295.58 535.48h1.51V538.08h-1.51zM296.7 534.41h1.51V537.14h-1.51zM297.83 533.87h1.51V536.41h-1.51zM298.95 535.88h1.51V538.28h-1.51zM300.08 535.68h1.51V538.35h-1.51zM301.21 535.35h1.51V538.08h-1.51zM302.33 537.35h1.51V540.08h-1.51zM303.46 528.26h1.51V530.59h-1.51zM304.58 526.79h1.51V529.12h-1.51zM305.71 528.86h1.51V531.39h-1.51zM306.84 528.86h1.51V531.46h-1.51zM307.96 534.68h1.51V537.41h-1.51zM309.09 533.67h1.51V535.87h-1.51zM310.21 532.07h1.51V534.47h-1.51zM311.34 524.38h1.51V526.51h-1.51zM312.46 523.71h1.51V525.71h-1.51zM313.59 524.45h1.51V526.38h-1.51zM314.72 530.13h1.51V532.53h-1.51zM315.84 531.94h1.51V534.2h-1.51zM316.97 527.72h1.51V529.79h-1.51zM318.09 527.12h1.51V529.65h-1.51zM319.22 519.63h1.51V520.89h-1.51zM320.35 526.32h1.51V528.25h-1.51zM321.47 524.65h1.51V526.71h-1.51zM322.6 527.45h1.51V529.65h-1.51zM323.72 533.87h1.51V536.41h-1.51zM324.85 525.45h1.51V527.78h-1.51zM325.98 527.05h1.51V529.25h-1.51zM327.1 520.1h1.51V521.43h-1.51zM328.23 513.54h1.51V515.07h-1.51zM329.35 513.14h1.51V514.81h-1.51zM330.48 524.91h1.51V526.98h-1.51zM331.6 526.45h1.51V528.58h-1.51zM332.73 523.31h1.51V525.37h-1.51zM333.86 526.18h1.51V528.25h-1.51zM334.98 520.5h1.51V521.76h-1.51zM336.11 514.35h1.51V515.68h-1.51zM337.23 516.15h1.51V517.75h-1.51zM338.36 522.77h1.51V524.1h-1.51zM339.49 530.06h1.51V532.33h-1.51zM340.61 530.93h1.51V533.26h-1.51zM341.74 528.73h1.51V530.99h-1.51zM342.86 530.13h1.51V532.06h-1.51zM343.99 519.23h1.51V521.03h-1.51zM345.11 518.43h1.51V520.29h-1.51zM346.24 526.65h1.51V528.38h-1.51zM347.37 532.6h1.51V534.94h-1.51zM348.49 529.46h1.51V531.93h-1.51zM349.62 531.73h1.51V533.6h-1.51zM350.74 522.37h1.51V524.37h-1.51zM351.87 527.39h1.51V529.45h-1.51zM353 526.79h1.51V529.05h-1.51zM354.12 530.26h1.51V531.93h-1.51zM355.25 536.95h1.51V539.15h-1.51zM356.37 531.6h1.51V533.73h-1.51zM357.5 529.19h1.51V531.06h-1.51zM358.63 527.45h1.51V529.32h-1.51zM359.75 529.33h1.51V531.46h-1.51zM360.88 527.72h1.51V529.65h-1.51zM362 533.67h1.51V536.01h-1.51zM363.13 536.08h1.51V538.55h-1.51zM364.25 532.27h1.51V534.33h-1.51zM365.38 533.47h1.51V535.94h-1.51zM366.51 530.46h1.51V532.13h-1.51zM367.63 534.34h1.51V536.34h-1.51zM368.76 532.07h1.51V534.2h-1.51zM369.88 535.55h1.51V538.01h-1.51zM371.01 538.15h1.51V540.42h-1.51zM372.14 532.54h1.51V534.53h-1.51zM373.26 533.67h1.51V535.94h-1.51zM374.39 526.72h1.51V528.18h-1.51zM375.51 531.87h1.51V533.93h-1.51zM376.64 529.46h1.51V531.59h-1.51zM377.76 534.08h1.51V536.21h-1.51zM378.89 537.49h1.51V539.95h-1.51zM380.02 531.33h1.51V533.53h-1.51zM381.14 533.27h1.51V535.07h-1.51zM382.27 532.8h1.51V534.94h-1.51zM383.39 530.06h1.51V531.73h-1.51zM384.52 530.13h1.51V531.99h-1.51zM385.65 533.41h1.51V535.54h-1.51zM386.77 536.22h1.51V538.81h-1.51zM387.9 537.22h1.51V539.88h-1.51zM389.02 539.16h1.51V541.69h-1.51zM390.15 530.6h1.51V532.86h-1.51zM391.28 530.87h1.51V532.93h-1.51zM392.4 527.39h1.51V529.45h-1.51zM393.53 534.34h1.51V536.54h-1.51zM394.65 537.55h1.51V540.08h-1.51zM395.78 531.33h1.51V533.2h-1.51zM396.9 531.73h1.51V533.8h-1.51zM398.03 529.19h1.51V531.19h-1.51zM399.16 531.94h1.51V533.4h-1.51zM400.28 530.8h1.51V532.6h-1.51zM401.41 535.95h1.51V538.48h-1.51zM402.53 538.49h1.51V540.82h-1.51zM403.66 532.87h1.51V535.07h-1.51zM404.79 534.54h1.51V536.67h-1.51zM405.91 528.32h1.51V530.05h-1.51zM407.04 531.07h1.51V533h-1.51zM408.16 528.59h1.51V530.19h-1.51zM409.29 533.81h1.51V536.21h-1.51zM410.41 537.95h1.51V540.22h-1.51zM411.54 533.34h1.51V535.54h-1.51zM412.67 533.14h1.51V535.07h-1.51zM413.79 526.65h1.51V528.38h-1.51zM414.92 531.53h1.51V533.8h-1.51zM416.04 528.99h1.51V530.86h-1.51zM417.17 534.61h1.51V537.14h-1.51zM418.3 538.02h1.51V540.55h-1.51zM419.42 534.41h1.51V536.54h-1.51zM420.55 534.48h1.51V536.54h-1.51zM421.67 532.27h1.51V533.93h-1.51zM422.8 532.27h1.51V533.8h-1.51zM423.93 531h1.51V532.53h-1.51zM425.05 535.75h1.51V537.74h-1.51zM426.18 536.28h1.51V538.68h-1.51zM427.3 533.87h1.51V535.8h-1.51zM428.43 532.67h1.51V534.74h-1.51zM429.55 530.2h1.51V532.19h-1.51zM430.68 531.33h1.51V532.86h-1.51zM431.81 529.73h1.51V531.73h-1.51zM432.93 535.55h1.51V538.01h-1.51zM434.06 537.15h1.51V539.68h-1.51zM435.18 530.4h1.51V532.46h-1.51zM436.31 535.75h1.51V537.94h-1.51zM437.44 526.32h1.51V528.38h-1.51zM438.56 529.13h1.51V530.66h-1.51zM439.69 526.25h1.51V527.51h-1.51zM440.81 531.87h1.51V533.93h-1.51zM441.94 534.08h1.51V535.8h-1.51zM443.06 525.98h1.51V527.71h-1.51zM444.19 525.45h1.51V526.58h-1.51zM445.32 520.9h1.51V521.89h-1.51zM446.44 522.63h1.51V523.77h-1.51zM447.57 522.64h1.51V523.63h-1.51zM448.69 528.46h1.51V529.99h-1.51zM449.82 532.8h1.51V534.53h-1.51zM450.95 526.05h1.51V527.45h-1.51zM452.07 515.34h1.51V516.42h-1.51zM453.2 512.6h1.51V515.28h-1.51zM454.32 512.67h1.51V513.88h-1.51zM455.45 512.67h1.51V513.61h-1.51zM456.58 521.76h1.51V522.9h-1.51zM457.7 524.91h1.51V526.17h-1.51zM458.83 532.47h1.51V533.87h-1.51zM459.95 520.83h1.51V521.7h-1.51zM461.08 515.14h1.51V516.35h-1.51zM462.2 510.73h1.51V512.54h-1.51zM463.33 511.67h1.51V512.94h-1.51zM464.46 518.89h1.51V519.69h-1.51zM465.58 524.58h1.51V525.97h-1.51zM466.71 521.1h1.51V522.9h-1.51zM467.83 514.47h1.51V515.88h-1.51zM468.96 512.2h1.51V514.08h-1.51zM470.09 518.29h1.51V519.09h-1.51zM471.21 511.2h1.51V512.34h-1.51zM472.34 524.65h1.51V525.64h-1.51zM473.46 526.25h1.51V527.38h-1.51zM474.59 522.37h1.51V523.5h-1.51zM475.71 510.86h1.51V512.87h-1.51zM476.84 507.32h1.51V508.53h-1.51zM477.97 508.86h1.51V511h-1.51zM479.09 507.59h1.51V509.66h-1.51zM480.22 516.41h1.51V517.55h-1.51zM481.34 525.38h1.51V527.04h-1.51zM482.47 516.35h1.51V517.42h-1.51zM483.6 504.18h1.51V506.25h-1.51zM484.72 495.48h1.51V498.43h-1.51zM485.85 504.98h1.51V507.32h-1.51zM486.97 500.7h1.51V503.04h-1.51zM488.1 511.4h1.51V513.14h-1.51zM489.23 519.1h1.51V520.49h-1.51zM490.35 510.19h1.51V512.34h-1.51zM491.48 499.36h1.51V501.84h-1.51zM492.6 491h1.51V494.08h-1.51zM493.73 492.47h1.51V495.35h-1.51zM494.85 486.79h1.51V489.47h-1.51zM495.98 501.3h1.51V502.91h-1.51zM497.11 515.21h1.51V516.55h-1.51zM498.23 491.6h1.51V494.68h-1.51zM499.36 486.79h1.51V490.14h-1.51zM500.48 461.98h1.51V468.53h-1.51zM501.61 496.28h1.51V498.76h-1.51zM502.74 494.14h1.51V497.09h-1.51zM503.86 493.88h1.51V495.95h-1.51zM504.99 487.59h1.51V490.14h-1.51zM506.11 463.72h1.51V468h-1.51zM507.24 443.99h1.51V450.55h-1.51zM508.36 388.28h1.51V399.12h-1.51zM509.49 392.96h1.51V401.59h-1.51zM510.62 401.72h1.51V409.75h-1.51zM511.74 453.28h1.51V458.37h-1.51zM512.87 469.47h1.51V473.68h-1.51zM513.99 483.18h1.51V487.73h-1.51zM515.12 457.7h1.51V464.25h-1.51zM516.25 454.29h1.51V461.51h-1.51zM517.37 429.01h1.51V436.37h-1.51zM518.5 440.31h1.51V448.27h-1.51zM519.62 454.96h1.51V461.31h-1.51zM520.75 477.02h1.51V482.11h-1.51zM521.88 476.56h1.51V481.58h-1.51zM523 472.61h1.51V478.23h-1.51zM524.13 464.65h1.51V472.35h-1.51zM525.25 481.24h1.51V488.06h-1.51zM526.38 487.19h1.51V492.81h-1.51zM527.5 490.53h1.51V494.82h-1.51zM528.63 512.53h1.51V514.88h-1.51zM529.76 490.67h1.51V495.75h-1.51zM530.88 493.41h1.51V498.43h-1.51zM532.01 489.4h1.51V494.01h-1.51zM533.13 500.63h1.51V503.71h-1.51zM534.26 504.91h1.51V509.13h-1.51zM535.39 511h1.51V514.41h-1.51zM536.51 524.51h1.51V525.37h-1.51zM537.64 515.61h1.51V517.35h-1.51zM538.76 509.86h1.51V512.87h-1.51zM539.89 505.78h1.51V509.26h-1.51zM541.01 516.75h1.51V519.36h-1.51zM542.14 512.6h1.51V515.08h-1.51zM543.27 523.7h1.51V525.65h-1.51zM544.39 529.26h1.51V530.19h-1.51zM545.52 524.51h1.51V526.05h-1.51zM546.64 520.56h1.51V522.1h-1.51zM547.77 521.9h1.51V523.91h-1.51zM548.9 528.93h1.51V530.05h-1.51zM550.02 524.91h1.51V526.18h-1.51zM551.15 526.85h1.51V528.19h-1.51zM552.27 531.2h1.51V532.19h-1.51zM553.4 528.79h1.51V529.79h-1.51zM554.53 525.11h1.51V526.05h-1.51zM555.65 522.9h1.51V524.78h-1.51zM556.78 525.91h1.51V526.98h-1.51zM557.9 527.99h1.51V528.98h-1.51zM559.03 530.2h1.51V531.66h-1.51zM560.15 533.87h1.51V535.6h-1.51zM561.28 528.99h1.51V530.32h-1.51zM562.41 532.94h1.51V534.67h-1.51zM563.53 525.78h1.51V527.12h-1.51zM564.66 530.39h1.51V531.26h-1.51zM565.78 526.12h1.51V527.25h-1.51zM566.91 526.59h1.51V528.05h-1.51zM568.04 536.35h1.51V538.75h-1.51zM569.16 530.66h1.51V532.46h-1.51zM570.29 527.25h1.51V528.11h-1.51zM571.41 528.66h1.51V530.52h-1.51zM572.54 527.72h1.51V529.32h-1.51zM573.66 529.32h1.51V530.46h-1.51zM574.79 530.26h1.51V532.13h-1.51zM575.92 536.95h1.51V539.01h-1.51zM577.04 527.65h1.51V528.86h-1.51zM578.17 524.85h1.51V526.04h-1.51zM579.29 525.51h1.51V526.44h-1.51zM580.42 526.79h1.51V528.25h-1.51zM581.55 524.85h1.51V525.84h-1.51zM582.67 529.8h1.51V531.46h-1.51zM583.8 533.14h1.51V535.47h-1.51zM584.92 526.38h1.51V527.78h-1.51zM586.05 520.63h1.51V521.43h-1.51zM587.18 525.31h1.51V526.44h-1.51zM588.3 525.58h1.51V527.45h-1.51zM589.43 523.38h1.51V524.7h-1.51zM590.55 528.99h1.51V530.32h-1.51zM591.68 532.14h1.51V533.73h-1.51zM592.8 524.45h1.51V525.51h-1.51zM593.93 519.43h1.51V520.82h-1.51zM595.06 521.97h1.51V522.9h-1.51zM596.18 522.17h1.51V523.23h-1.51zM597.31 518.96h1.51V520.29h-1.51zM598.43 525.58h1.51V526.78h-1.51zM599.56 528.93h1.51V530.72h-1.51zM600.69 523.84h1.51V524.77h-1.51zM601.81 519.49h1.51V520.36h-1.51zM602.94 515.55h1.51V516.61h-1.51zM604.06 518.02h1.51V519.09h-1.51zM605.19 517.42h1.51V518.68h-1.51zM606.31 522.71h1.51V523.77h-1.51zM607.44 528.12h1.51V530.05h-1.51zM608.57 520.63h1.51V521.63h-1.51zM609.69 510.4h1.51V511.66h-1.51zM610.82 511.4h1.51V512.74h-1.51zM611.94 511.87h1.51V512.93h-1.51zM613.07 509.12h1.51V510h-1.51zM614.2 517.82h1.51V519.15h-1.51zM615.32 524.18h1.51V526.17h-1.51zM616.45 513.01h1.51V513.87h-1.51zM617.57 508.39h1.51V509.93h-1.51zM618.7 498.69h1.51V500.77h-1.51zM619.83 502.77h1.51V504.71h-1.51zM620.95 497.22h1.51V499.3h-1.51zM622.08 510.46h1.51V511.67h-1.51zM623.2 519.43h1.51V520.49h-1.51zM624.33 501.63h1.51V503.71h-1.51zM625.45 493.28h1.51V496.09h-1.51zM626.58 490.53h1.51V492.81h-1.51zM627.71 497.42h1.51V499.03h-1.51zM628.83 490.73h1.51V492.94h-1.51zM629.96 504.78h1.51V505.91h-1.51zM631.08 517.69h1.51V519.02h-1.51zM632.21 493.41h1.51V495.42h-1.51zM633.34 488.53h1.51V490.54h-1.51zM634.46 481.71h1.51V484.25h-1.51zM635.59 500.63h1.51V502.57h-1.51zM636.71 479.97h1.51V482.58h-1.51zM637.84 490.27h1.51V493.21h-1.51zM638.96 499.76h1.51V500.97h-1.51zM640.09 506.72h1.51V508.26h-1.51zM641.22 506.25h1.51V507.59h-1.51zM642.34 508.52h1.51V509.53h-1.51zM643.47 489.2h1.51V490.94h-1.51zM644.59 474.55h1.51V478.23h-1.51zM645.72 481.44h1.51V484.79h-1.51zM646.85 509.6h1.51V510.46h-1.51zM647.97 487.86h1.51V490.94h-1.51zM649.1 484.51h1.51V486.93h-1.51zM650.22 482.24h1.51V484.18h-1.51zM651.35 491.34h1.51V494.08h-1.51zM652.48 496.35h1.51V498.63h-1.51zM653.6 510.53h1.51V511.8h-1.51zM654.73 517.95h1.51V518.89h-1.51zM655.85 498.29h1.51V499.63h-1.51zM656.98 496.75h1.51V498.5h-1.51zM658.1 491.54h1.51V494.01h-1.51zM659.23 504.51h1.51V505.98h-1.51zM660.36 507.19h1.51V508.66h-1.51zM661.48 510.47h1.51V511.4h-1.51zM662.61 522.77h1.51V524.24h-1.51zM663.73 509.8h1.51V511.13h-1.51zM664.86 497.35h1.51V498.83h-1.51zM665.99 500.83h1.51V502.98h-1.51zM667.11 504.84h1.51V506.59h-1.51zM668.24 510.06h1.51V511.07h-1.51zM669.36 515.34h1.51V516.22h-1.51zM670.49 526.52h1.51V528.72h-1.51zM671.61 514.34h1.51V515.15h-1.51zM672.74 513.34h1.51V514.47h-1.51zM673.87 512.07h1.51V513h-1.51zM674.99 514.01h1.51V515.15h-1.51zM676.12 516.75h1.51V517.75h-1.51zM677.24 520.7h1.51V522.3h-1.51zM678.37 527.86h1.51V530.05h-1.51zM679.5 520.43h1.51V521.83h-1.51zM680.62 516.09h1.51V517.28h-1.51zM681.75 516.22h1.51V517.35h-1.51zM682.87 515.68h1.51V517.21h-1.51zM684 513.81h1.51V515.01h-1.51zM685.13 524.11h1.51V525.44h-1.51zM686.25 529.53h1.51V531.32h-1.51zM687.38 522.37h1.51V523.77h-1.51zM688.5 511.81h1.51V513.74h-1.51zM689.63 515.15h1.51V516.21h-1.51zM690.75 515.22h1.51V516.14h-1.51zM691.88 517.96h1.51V519.96h-1.51zM693.01 518.96h1.51V520.42h-1.51zM694.13 527.72h1.51V529.59h-1.51zM695.26 515.68h1.51V517.21h-1.51zM696.38 503.58h1.51V504.91h-1.51zM697.51 506.99h1.51V508.19h-1.51zM698.64 507.66h1.51V509.32h-1.51zM699.76 509.47h1.51V510.33h-1.51zM700.89 518.83h1.51V519.89h-1.51zM702.01 522.44h1.51V524.44h-1.51zM703.14 513.47h1.51V514.28h-1.51zM704.26 497.83h1.51V498.69h-1.51zM705.39 500.44h1.51V501.56h-1.51zM706.52 501.37h1.51V502.37h-1.51zM707.64 497.76h1.51V498.76h-1.51zM708.77 510.33h1.51V511.8h-1.51zM709.89 520.83h1.51V522.9h-1.51zM711.02 505.65h1.51V506.51h-1.51zM712.15 484.98h1.51V486.39h-1.51zM713.27 486.65h1.51V488.33h-1.51zM714.4 489.94h1.51V491.53h-1.51zM715.52 482.58h1.51V483.51h-1.51zM716.65 504.44h1.51V505.52h-1.51zM717.78 509.93h1.51V512h-1.51zM718.9 489.67h1.51V490.66h-1.51zM720.03 469.47h1.51V471.41h-1.51zM721.15 458.97h1.51V460.11h-1.51zM722.28 461.91h1.51V464.46h-1.51zM723.4 452.88h1.51V454.22h-1.51zM724.53 477.97h1.51V479.03h-1.51zM725.66 496.42h1.51V497.89h-1.51zM726.78 453.69h1.51V455.09h-1.51zM727.91 425.06h1.51V427.81h-1.51zM729.03 415.83h1.51V418.58h-1.51zM730.16 455.49h1.51V457.5h-1.51zM731.29 470.67h1.51V471.68h-1.51zM732.41 428.07h1.51V430.01h-1.51zM733.54 450.81h1.51V453.22h-1.51zM734.66 358.59h1.51V364.01h-1.51zM735.79 337.32h1.51V342.14h-1.51zM736.91 291.31h1.51V298.27h-1.51zM738.04 328.76h1.51V333.25h-1.51zM739.17 279.54h1.51V285.23h-1.51zM740.29 344.95h1.51V350.83h-1.51zM741.42 401.52h1.51V404h-1.51zM742.54 302.61h1.51V310.04h-1.51zM743.67 273.52h1.51V280.62h-1.51zM744.8 216.61h1.51V227.45h-1.51zM745.92 251.52h1.51V260.95h-1.51zM747.05 247.04h1.51V255.67h-1.51zM748.17 279.34h1.51V287.5h-1.51zM749.3 357.05h1.51V362.94h-1.51zM750.43 374.17h1.51V378.32h-1.51zM751.55 271.92h1.51V278.68h-1.51zM752.68 219.96h1.51V232.06h-1.51zM753.8 167.86h1.51V179.57h-1.51zM754.93 213.07h1.51V223.5h-1.51zM756.05 264.09h1.51V272.26h-1.51zM757.18 350.97h1.51V357.46h-1.51z"/>
<path fill="#3973D3" d="M139.08 542.03h1.51V544.77h-1.51zM140.21 541.83h1.51V544.57h-1.51zM144.71 541.97h1.51V544.7h-1.51zM146.96 542.03h1.51V544.77h-1.51zM150.34 542.03h1.51V544.77h-1.51zM153.72 542.1h1.51V544.83h-1.51zM160.47 541.9h1.51V544.63h-1.51zM162.73 541.9h1.51V544.5h-1.51zM169.48 542.1h1.51V544.83h-1.51zM171.73 541.57h1.51V544.3h-1.51zM172.86 541.97h1.51V544.7h-1.51zM175.11 541.43h1.51V544.16h-1.51zM181.86 541.23h1.51V543.83h-1.51zM182.99 541.16h1.51V543.7h-1.51zM184.12 539.63h1.51V542.23h-1.51zM185.24 539.76h1.51V542.16h-1.51zM186.37 540.09h1.51V542.49h-1.51zM187.49 538.36h1.51V540.75h-1.51zM188.62 538.15h1.51V540.35h-1.51zM189.75 541.57h1.51V544.16h-1.51zM190.87 537.42h1.51V539.82h-1.51zM192 538.56h1.51V540.82h-1.51zM193.12 537.02h1.51V539.28h-1.51zM194.25 537.08h1.51V539.35h-1.51zM195.38 535.55h1.51V537.81h-1.51zM196.5 534.48h1.51V536.61h-1.51zM197.63 537.42h1.51V539.88h-1.51zM198.75 537.55h1.51V539.75h-1.51zM199.88 533.21h1.51V535.27h-1.51zM201 532.8h1.51V534h-1.51zM202.13 531.4h1.51V532.93h-1.51zM203.26 532.27h1.51V533.2h-1.51zM204.38 532.87h1.51V534.94h-1.51zM205.51 536.88h1.51V538.95h-1.51zM206.63 533.21h1.51V535h-1.51zM207.76 535.01h1.51V537.21h-1.51zM208.89 533.67h1.51V535.94h-1.51zM210.01 531.46h1.51V532.33h-1.51zM211.14 532.4h1.51V533.93h-1.51zM212.26 536.08h1.51V538.41h-1.51zM213.39 537.22h1.51V538.95h-1.51zM214.51 535.41h1.51V537.74h-1.51zM215.64 535.75h1.51V537.48h-1.51zM216.77 535.21h1.51V537.21h-1.51zM217.89 533.67h1.51V535.27h-1.51zM219.02 535.75h1.51V537.61h-1.51zM220.14 537.82h1.51V540.22h-1.51zM221.27 539.89h1.51V542.36h-1.51zM222.4 536.15h1.51V538.35h-1.51zM223.52 540.03h1.51V542.43h-1.51zM224.65 539.36h1.51V541.62h-1.51zM225.77 533.94h1.51V535.54h-1.51zM226.9 534.54h1.51V536.01h-1.51zM228.03 537.89h1.51V540.08h-1.51zM229.15 537.62h1.51V540.02h-1.51zM230.28 539.76h1.51V541.96h-1.51zM231.4 540.36h1.51V542.76h-1.51zM232.53 540.83h1.51V543.5h-1.51zM233.65 540.23h1.51V542.69h-1.51zM234.78 540.56h1.51V543.23h-1.51zM235.91 541.16h1.51V543.7h-1.51zM237.03 541.23h1.51V543.96h-1.51zM238.16 540.76h1.51V543.43h-1.51zM239.28 541.63h1.51V544.37h-1.51zM240.41 540.7h1.51V543.36h-1.51zM241.54 541.7h1.51V544.43h-1.51zM242.66 541.5h1.51V544.23h-1.51zM243.79 541.9h1.51V544.63h-1.51zM244.91 541.57h1.51V544.3h-1.51zM250.54 542.03h1.51V544.77h-1.51zM251.67 541.3h1.51V544.03h-1.51zM253.92 541.57h1.51V544.3h-1.51zM255.05 541.5h1.51V544.23h-1.51zM256.17 541.16h1.51V543.9h-1.51zM257.3 540.83h1.51V543.5h-1.51zM259.55 541.83h1.51V544.57h-1.51zM261.8 540.16h1.51V542.89h-1.51zM264.05 540.63h1.51V543.36h-1.51zM265.18 540.96h1.51V543.7h-1.51zM266.3 540.7h1.51V543.36h-1.51zM267.43 541.23h1.51V543.96h-1.51zM275.31 539.29h1.51V541.89h-1.51zM276.44 539.09h1.51V541.82h-1.51zM277.56 540.36h1.51V543.09h-1.51zM279.81 539.63h1.51V542.29h-1.51zM280.94 539.89h1.51V542.63h-1.51zM283.19 540.03h1.51V542.76h-1.51zM284.32 540.5h1.51V543.09h-1.51zM285.44 540.09h1.51V542.83h-1.51zM286.57 538.49h1.51V541.22h-1.51zM287.7 539.22h1.51V541.76h-1.51zM289.95 538.49h1.51V541.22h-1.51zM291.07 538.42h1.51V540.95h-1.51zM293.33 538.76h1.51V541.36h-1.51zM294.45 537.82h1.51V540.49h-1.51zM295.58 535.28h1.51V537.81h-1.51zM296.7 534.34h1.51V536.74h-1.51zM297.83 533.61h1.51V536.27h-1.51zM298.95 535.48h1.51V537.74h-1.51zM300.08 535.55h1.51V538.15h-1.51zM301.21 535.28h1.51V538.01h-1.51zM302.33 537.28h1.51V539.95h-1.51zM303.46 527.79h1.51V530.25h-1.51zM304.58 526.32h1.51V528.78h-1.51zM305.71 528.59h1.51V531.19h-1.51zM306.84 528.66h1.51V531.32h-1.51zM307.96 534.61h1.51V537.14h-1.51zM309.09 533.07h1.51V535.47h-1.51zM310.21 531.67h1.51V533.93h-1.51zM311.34 523.71h1.51V525.97h-1.51zM312.46 522.91h1.51V525.51h-1.51zM313.59 523.58h1.51V525.97h-1.51zM314.72 529.73h1.51V532.33h-1.51zM315.84 531.4h1.51V534h-1.51zM316.97 526.99h1.51V529.25h-1.51zM318.09 526.85h1.51V529.25h-1.51zM319.22 518.09h1.51V520.56h-1.51zM320.35 525.45h1.51V527.78h-1.51zM321.47 523.91h1.51V526.31h-1.51zM322.6 526.85h1.51V529.25h-1.51zM323.72 533.61h1.51V536.27h-1.51zM324.85 524.98h1.51V527.45h-1.51zM325.98 526.45h1.51V528.58h-1.51zM327.1 518.63h1.51V521.03h-1.51zM328.23 512.27h1.51V514.54h-1.51zM329.35 512.01h1.51V514h-1.51zM330.48 524.18h1.51V525.84h-1.51zM331.6 525.78h1.51V528.18h-1.51zM332.73 522.57h1.51V524.7h-1.51zM333.86 525.45h1.51V527.65h-1.51zM334.98 518.96h1.51V521.16h-1.51zM336.11 512.88h1.51V515.07h-1.51zM337.23 514.95h1.51V516.68h-1.51zM338.36 521.3h1.51V523.43h-1.51zM339.49 529.53h1.51V532.06h-1.51zM340.61 530.46h1.51V532.66h-1.51zM341.74 528.19h1.51V530.39h-1.51zM342.86 529.26h1.51V531.39h-1.51zM343.99 518.23h1.51V520.16h-1.51zM345.11 517.49h1.51V519.69h-1.51zM346.24 525.58h1.51V527.85h-1.51zM347.37 532.14h1.51V534.47h-1.51zM348.49 529.13h1.51V531.32h-1.51zM349.62 530.8h1.51V533.13h-1.51zM350.74 521.57h1.51V523.7h-1.51zM351.87 526.65h1.51V528.25h-1.51zM353 526.25h1.51V528.11h-1.51zM354.12 529.13h1.51V531.39h-1.51zM355.25 536.35h1.51V538.75h-1.51zM356.37 530.93h1.51V533.13h-1.51zM357.5 528.26h1.51V530.25h-1.51zM358.63 526.52h1.51V528.85h-1.51zM359.75 528.66h1.51V530.45h-1.51zM360.88 526.85h1.51V529.12h-1.51zM362 533.21h1.51V535.47h-1.51zM363.13 535.75h1.51V538.41h-1.51zM364.25 531.53h1.51V533.8h-1.51zM365.38 533.14h1.51V535.67h-1.51zM366.51 529.33h1.51V531.46h-1.51zM367.63 533.54h1.51V535.87h-1.51zM368.76 531.4h1.51V533.46h-1.51zM369.88 535.21h1.51V537.61h-1.51zM371.01 537.62h1.51V540.02h-1.51zM372.14 531.73h1.51V534.2h-1.51zM373.26 533.14h1.51V535.2h-1.51zM374.39 525.38h1.51V527.25h-1.51zM375.51 531.13h1.51V533.33h-1.51zM376.64 528.79h1.51V530.45h-1.51zM377.76 533.41h1.51V535.8h-1.51zM378.89 537.15h1.51V539.88h-1.51zM380.02 530.73h1.51V532.73h-1.51zM381.14 532.27h1.51V534.27h-1.51zM382.27 532.14h1.51V534.27h-1.51zM383.39 528.93h1.51V530.92h-1.51zM384.52 529.19h1.51V531.26h-1.51zM385.65 532.74h1.51V534.8h-1.51zM386.77 536.01h1.51V538.61h-1.51zM387.9 537.08h1.51V539.42h-1.51zM389.02 538.89h1.51V541.22h-1.51zM390.15 530.06h1.51V532.26h-1.51zM391.28 530.13h1.51V532.33h-1.51zM392.4 526.65h1.51V527.98h-1.51zM393.53 533.74h1.51V535.87h-1.51zM394.65 537.28h1.51V539.82h-1.51zM395.78 530.4h1.51V531.93h-1.51zM396.9 531h1.51V532.93h-1.51zM398.03 528.39h1.51V530.19h-1.51zM399.16 530.6h1.51V532.46h-1.51zM400.28 529.8h1.51V531.73h-1.51zM401.41 535.68h1.51V538.01h-1.51zM402.53 538.02h1.51V540.55h-1.51zM403.66 532.27h1.51V534.2h-1.51zM404.79 533.87h1.51V536.07h-1.51zM405.91 527.25h1.51V529.59h-1.51zM407.04 530.2h1.51V532.53h-1.51zM408.16 527.39h1.51V528.92h-1.51zM409.29 533.41h1.51V535.54h-1.51zM410.41 537.42h1.51V540.15h-1.51zM411.54 532.74h1.51V534.47h-1.51zM412.67 532.27h1.51V534.07h-1.51zM413.79 525.58h1.51V527.18h-1.51zM414.92 531h1.51V533.4h-1.51zM416.04 528.06h1.51V530.19h-1.51zM417.17 534.34h1.51V536.54h-1.51zM418.3 537.75h1.51V540.15h-1.51zM419.42 533.74h1.51V536.07h-1.51zM420.55 533.74h1.51V535.74h-1.51zM421.67 531.13h1.51V533.2h-1.51zM422.8 531h1.51V532.8h-1.51zM423.93 529.73h1.51V532.13h-1.51zM425.05 534.94h1.51V536.94h-1.51zM426.18 535.88h1.51V538.48h-1.51zM427.3 533h1.51V535.14h-1.51zM428.43 531.94h1.51V534.2h-1.51zM429.55 529.39h1.51V531.19h-1.51zM430.68 530.06h1.51V531.93h-1.51zM431.81 528.93h1.51V531.46h-1.51zM432.93 535.21h1.51V537.81h-1.51zM434.06 536.88h1.51V539.48h-1.51zM435.18 529.66h1.51V531.79h-1.51zM436.31 535.14h1.51V537.28h-1.51zM437.44 525.58h1.51V527.71h-1.51zM438.56 527.86h1.51V529.72h-1.51zM439.69 524.71h1.51V526.17h-1.51zM440.81 531.13h1.51V533h-1.51zM441.94 533h1.51V535h-1.51zM443.06 524.91h1.51V526.78h-1.51zM444.19 523.78h1.51V524.84h-1.51zM445.32 519.1h1.51V520.89h-1.51zM446.44 520.43h1.51V521.43h-1.51zM447.57 520.83h1.51V522.36h-1.51zM448.69 527.19h1.51V528.85h-1.51zM449.82 531.73h1.51V533.4h-1.51zM450.95 524.65h1.51V526.44h-1.51zM452.07 513.34h1.51V514.4h-1.51zM453.2 510.33h1.51V511.4h-1.51zM454.32 510.67h1.51V511.6h-1.51zM455.45 510.33h1.51V511.47h-1.51zM456.58 519.69h1.51V520.56h-1.51zM457.7 523.38h1.51V524.97h-1.51zM458.83 531.07h1.51V533.2h-1.51zM459.95 518.83h1.51V520.02h-1.51zM461.08 513.14h1.51V514.34h-1.51zM462.2 508.12h1.51V509.53h-1.51zM463.33 509.33h1.51V510.47h-1.51zM464.46 516.89h1.51V518.42h-1.51zM465.58 523.17h1.51V525.04h-1.51zM466.71 520.1h1.51V521.63h-1.51zM467.83 512.47h1.51V513.33h-1.51zM468.96 510.2h1.51V511.06h-1.51zM470.09 515.75h1.51V517.09h-1.51zM471.21 508.12h1.51V510h-1.51zM472.34 522.84h1.51V524.1h-1.51zM473.46 524.58h1.51V526.04h-1.51zM474.59 520.7h1.51V522.43h-1.51zM475.71 507.99h1.51V509.66h-1.51zM476.84 505.32h1.51V506.31h-1.51zM477.97 506.86h1.51V507.85h-1.51zM479.09 505.59h1.51V506.65h-1.51zM480.22 514.34h1.51V515.21h-1.51zM481.34 524.24h1.51V526.11h-1.51zM482.47 514.35h1.51V515.41h-1.51zM483.6 501.23h1.51V502.98h-1.51zM484.72 492.81h1.51V494.28h-1.51zM485.85 502.17h1.51V503.78h-1.51zM486.97 498.02h1.51V499.5h-1.51zM488.1 508.86h1.51V510.2h-1.51zM489.23 517.69h1.51V519.42h-1.51zM490.35 508.19h1.51V509.12h-1.51zM491.48 496.55h1.51V498.16h-1.51zM492.6 487.99h1.51V489.8h-1.51zM493.73 488.86h1.51V491.27h-1.51zM494.85 484.38h1.51V485.59h-1.51zM495.98 498.96h1.51V500.1h-1.51zM497.11 513.21h1.51V514.07h-1.51zM498.23 488.93h1.51V490.4h-1.51zM499.36 483.51h1.51V485.59h-1.51zM500.48 457.3h1.51V460.78h-1.51zM501.61 493.88h1.51V495.08h-1.51zM502.74 490.93h1.51V492.94h-1.51zM503.86 491.6h1.51V492.68h-1.51zM504.99 485.32h1.51V486.39h-1.51zM506.11 459.5h1.51V462.52h-1.51zM507.24 438.84h1.51V442.79h-1.51zM508.36 382h1.51V387.08h-1.51zM509.49 386.34h1.51V391.76h-1.51zM510.62 395.5h1.51V400.52h-1.51zM511.74 448.13h1.51V452.08h-1.51zM512.87 464.92h1.51V468.27h-1.51zM513.99 479.43h1.51V481.98h-1.51zM515.12 451.61h1.51V456.5h-1.51zM516.25 449.07h1.51V453.09h-1.51zM517.37 419.78h1.51V427.81h-1.51zM518.5 431.15h1.51V439.11h-1.51zM519.62 446.26h1.51V453.76h-1.51zM520.75 471.07h1.51V475.82h-1.51zM521.88 469h1.51V475.36h-1.51zM523 466.66h1.51V471.41h-1.51zM524.13 456.96h1.51V463.45h-1.51zM525.25 475.29h1.51V480.04h-1.51zM526.38 480.64h1.51V485.99h-1.51zM527.5 485.58h1.51V489.33h-1.51zM528.63 508.39h1.51V511.33h-1.51zM529.76 483.71h1.51V489.47h-1.51zM530.88 487.32h1.51V492.21h-1.51zM532.01 482.64h1.51V488.2h-1.51zM533.13 494.21h1.51V499.43h-1.51zM534.26 499.76h1.51V503.71h-1.51zM535.39 507.39h1.51V509.8h-1.51zM536.51 521.56h1.51V523.37h-1.51zM537.64 511.6h1.51V514.41h-1.51zM538.76 505.65h1.51V508.66h-1.51zM539.89 501.17h1.51V504.58h-1.51zM541.01 511.73h1.51V515.55h-1.51zM542.14 508.25h1.51V511.4h-1.51zM543.27 520.89h1.51V522.5h-1.51zM544.39 527.39h1.51V528.58h-1.51zM545.52 521.5h1.51V523.31h-1.51zM546.64 517.95h1.51V519.36h-1.51zM547.77 519.56h1.51V520.7h-1.51zM548.9 527.25h1.51V528.05h-1.51zM550.02 522.83h1.51V523.71h-1.51zM551.15 524.1h1.51V525.65h-1.51zM552.27 529.12h1.51V530.19h-1.51zM553.4 525.38h1.51V527.79h-1.51zM554.53 522.97h1.51V523.91h-1.51zM555.65 519.76h1.51V521.7h-1.51zM556.78 523.91h1.51V524.97h-1.51zM557.9 525.17h1.51V526.98h-1.51zM559.03 528.86h1.51V529.99h-1.51zM560.15 532.8h1.51V534.6h-1.51zM561.28 527.52h1.51V528.72h-1.51zM562.41 531.87h1.51V532.86h-1.51zM563.53 523.78h1.51V524.7h-1.51zM564.66 528.39h1.51V529.45h-1.51zM565.78 524.24h1.51V525.25h-1.51zM566.91 525.17h1.51V526.05h-1.51zM568.04 535.95h1.51V537.61h-1.51zM569.16 529.66h1.51V531.26h-1.51zM570.29 525.31h1.51V526.24h-1.51zM571.41 527.72h1.51V528.72h-1.51zM572.54 526.18h1.51V527.32h-1.51zM573.66 527.18h1.51V528.12h-1.51zM574.79 529.33h1.51V530.72h-1.51zM575.92 536.22h1.51V538.15h-1.51zM577.04 525.65h1.51V527.04h-1.51zM578.17 523.24h1.51V524.5h-1.51zM579.29 523.64h1.51V524.97h-1.51zM580.42 525.45h1.51V526.44h-1.51zM581.55 523.04h1.51V524.5h-1.51zM582.67 528.66h1.51V530.12h-1.51zM583.8 532.67h1.51V534.33h-1.51zM584.92 524.98h1.51V526.58h-1.51zM586.05 518.63h1.51V520.02h-1.51zM587.18 523.64h1.51V525.11h-1.51zM588.3 524.65h1.51V525.77h-1.51zM589.43 521.9h1.51V523.5h-1.51zM590.55 527.52h1.51V529.25h-1.51zM591.68 530.93h1.51V533.13h-1.51zM592.8 522.71h1.51V523.83h-1.51zM593.93 518.02h1.51V519.42h-1.51zM595.06 519.76h1.51V520.9h-1.51zM596.18 520.43h1.51V521.56h-1.51zM597.31 517.49h1.51V518.62h-1.51zM598.43 523.98h1.51V525.57h-1.51zM599.56 527.92h1.51V529.85h-1.51zM600.69 521.5h1.51V522.77h-1.51zM601.81 517.49h1.51V518.89h-1.51zM602.94 513.81h1.51V515.21h-1.51zM604.06 516.02h1.51V517.15h-1.51zM605.19 515.88h1.51V517.15h-1.51zM606.31 520.97h1.51V522.56h-1.51zM607.44 527.25h1.51V529.25h-1.51zM608.57 518.63h1.51V519.69h-1.51zM609.69 508.86h1.51V509.86h-1.51zM610.82 509.4h1.51V510.53h-1.51zM611.94 510.13h1.51V511.13h-1.51zM613.07 507.12h1.51V508.39h-1.51zM614.2 516.35h1.51V517.62h-1.51zM615.32 523.38h1.51V525.31h-1.51zM616.45 511.07h1.51V512.4h-1.51zM617.57 506.38h1.51V507.19h-1.51zM618.7 496.69h1.51V497.69h-1.51zM619.83 500.77h1.51V501.7h-1.51zM620.95 495.15h1.51V496.02h-1.51zM622.08 508.46h1.51V509.79h-1.51zM623.2 517.69h1.51V518.75h-1.51zM624.33 499.03h1.51V500.43h-1.51zM625.45 490.33h1.51V492.07h-1.51zM626.58 487.93h1.51V489.33h-1.51zM627.71 495.08h1.51V496.22h-1.51zM628.83 487.79h1.51V489.53h-1.51zM629.96 502.97h1.51V503.91h-1.51zM631.08 516.22h1.51V517.48h-1.51zM632.21 490.4h1.51V492.21h-1.51zM633.34 485.12h1.51V487.33h-1.51zM634.46 478.76h1.51V480.51h-1.51zM635.59 498.63h1.51V499.63h-1.51zM636.71 476.62h1.51V478.77h-1.51zM637.84 487.72h1.51V489.07h-1.51zM638.96 497.76h1.51V498.76h-1.51zM640.09 504.58h1.51V505.52h-1.51zM641.22 504.25h1.51V505.31h-1.51zM642.34 506.52h1.51V507.65h-1.51zM643.47 486.32h1.51V488h-1.51zM644.59 471.34h1.51V473.35h-1.51zM645.72 477.69h1.51V480.24h-1.51zM646.85 507.32h1.51V508.46h-1.51zM647.97 484.58h1.51V486.66h-1.51zM649.1 481.64h1.51V483.31h-1.51zM650.22 479.03h1.51V481.04h-1.51zM651.35 488.53h1.51V490.14h-1.51zM652.48 494.08h1.51V495.15h-1.51zM653.6 508.53h1.51V509.86h-1.51zM654.73 515.95h1.51V517.82h-1.51zM655.85 496.29h1.51V497.35h-1.51zM656.98 494.61h1.51V495.55h-1.51zM658.1 489.54h1.51V490.53h-1.51zM659.23 502.51h1.51V503.44h-1.51zM660.36 505.19h1.51V506.85h-1.51zM661.48 508.6h1.51V510.46h-1.51zM662.61 521.44h1.51V523.3h-1.51zM663.73 508.33h1.51V509.92h-1.51zM664.86 495.35h1.51V496.68h-1.51zM665.99 498.83h1.51V500.29h-1.51zM667.11 502.84h1.51V504.91h-1.51zM668.24 508.06h1.51V509.79h-1.51zM669.36 513.34h1.51V515.54h-1.51zM670.49 525.92h1.51V527.91h-1.51zM671.61 512.34h1.51V514.27h-1.51zM672.74 511.67h1.51V513.2h-1.51zM673.87 510.2h1.51V512h-1.51zM674.99 512.01h1.51V514h-1.51zM676.12 514.75h1.51V516.75h-1.51zM677.24 519.5h1.51V521.83h-1.51zM678.37 527.25h1.51V529.52h-1.51zM679.5 519.03h1.51V520.82h-1.51zM680.62 514.48h1.51V516.48h-1.51zM681.75 514.55h1.51V516.41h-1.51zM682.87 514.41h1.51V516.28h-1.51zM684 512.21h1.51V514.2h-1.51zM685.13 522.64h1.51V524.9h-1.51zM686.25 528.52h1.51V531.12h-1.51zM687.38 520.97h1.51V522.83h-1.51zM688.5 510.94h1.51V512.2h-1.51zM689.63 513.41h1.51V515.21h-1.51zM690.75 513.34h1.51V515.54h-1.51zM691.88 517.16h1.51V519.55h-1.51zM693.01 517.62h1.51V520.22h-1.51zM694.13 526.79h1.51V529.45h-1.51zM695.26 514.41h1.51V516.08h-1.51zM696.38 502.11h1.51V504.24h-1.51zM697.51 505.39h1.51V507.58h-1.51zM698.64 506.52h1.51V508.05h-1.51zM699.76 507.53h1.51V509.86h-1.51zM700.89 517.09h1.51V519.55h-1.51zM702.01 521.64h1.51V523.97h-1.51zM703.14 511.47h1.51V513.74h-1.51zM704.26 495.89h1.51V497.95h-1.51zM705.39 498.77h1.51V500.43h-1.51zM706.52 499.57h1.51V501.5h-1.51zM707.64 495.96h1.51V497.75h-1.51zM708.77 509h1.51V510.93h-1.51zM709.89 520.1h1.51V522.43h-1.51zM711.02 503.71h1.51V505.84h-1.51zM712.15 482.98h1.51V484.31h-1.51zM713.27 484.65h1.51V485.92h-1.51zM714.4 488.73h1.51V490.46h-1.51zM715.52 480.71h1.51V481.97h-1.51zM716.65 502.44h1.51V504.44h-1.51zM717.78 509.2h1.51V511.6h-1.51zM718.9 487.86h1.51V490.06h-1.51zM720.03 467.47h1.51V469.13h-1.51zM721.15 456.97h1.51V458.5h-1.51zM722.28 459.91h1.51V461.11h-1.51zM723.4 450.88h1.51V451.74h-1.51zM724.53 476.23h1.51V478.36h-1.51zM725.66 495.09h1.51V497.02h-1.51zM726.78 451.69h1.51V453.01h-1.51zM727.91 423.06h1.51V424.12h-1.51zM729.03 413.36h1.51V414.63h-1.51zM730.16 453.49h1.51V455.09h-1.51zM731.29 468.67h1.51V470.6h-1.51zM732.41 426.07h1.51V427.87h-1.51zM733.54 448.81h1.51V450.2h-1.51zM734.66 356.05h1.51V357.39h-1.51zM735.79 333.98h1.51V336.12h-1.51zM736.91 287.83h1.51V290.11h-1.51zM738.04 325.69h1.51V327.56h-1.51zM739.17 275.8h1.51V278.34h-1.51zM740.29 341.94h1.51V343.75h-1.51zM741.42 399.45h1.51V400.32h-1.51zM742.54 299.47h1.51V301.41h-1.51zM743.67 269.31h1.51V272.32h-1.51zM744.8 210.79h1.51V215.41h-1.51zM745.92 245.77h1.51V250.32h-1.51zM747.05 242.23h1.51V245.84h-1.51zM748.17 275.66h1.51V278.14h-1.51zM749.3 354.18h1.51V355.85h-1.51zM750.43 371.36h1.51V372.97h-1.51zM751.55 266.77h1.51V270.72h-1.51zM752.68 214.14h1.51V218.76h-1.51zM753.8 161.84h1.51V166.66h-1.51zM754.93 207.32h1.51V211.87h-1.51zM756.05 259.15h1.51V262.89h-1.51zM757.18 347.89h1.51V349.76h-1.51z"/>
<path fill="#3830BF" d="M140.21 541.77h1.51V544.43h-1.51zM143.59 542.03h1.51V544.7h-1.51zM146.96 541.97h1.51V544.7h-1.51zM150.34 541.97h1.51V544.7h-1.51zM161.6 541.63h1.51V544.37h-1.51zM169.48 542.03h1.51V544.77h-1.51zM171.73 541.5h1.51V544.23h-1.51zM175.11 541.36h1.51V544.1h-1.51zM178.49 541.57h1.51V544.16h-1.51zM179.61 541.7h1.51V544.43h-1.51zM184.12 539.43h1.51V542.16h-1.51zM185.24 539.36h1.51V541.96h-1.51zM186.37 539.69h1.51V542.36h-1.51zM187.49 537.95h1.51V540.69h-1.51zM188.62 537.55h1.51V540.15h-1.51zM190.87 537.02h1.51V539.75h-1.51zM192 538.02h1.51V540.55h-1.51zM193.12 536.48h1.51V538.48h-1.51zM194.25 536.55h1.51V538.95h-1.51zM195.38 535.01h1.51V537.34h-1.51zM196.5 533.81h1.51V535.74h-1.51zM197.63 537.08h1.51V539.28h-1.51zM198.75 536.95h1.51V539.22h-1.51zM199.88 532.47h1.51V534.94h-1.51zM201 531.2h1.51V533.06h-1.51zM202.13 530.13h1.51V532.13h-1.51zM203.26 530.4h1.51V531.99h-1.51zM204.38 532.14h1.51V533.53h-1.51zM205.51 536.15h1.51V538.48h-1.51zM206.63 532.2h1.51V534.33h-1.51zM207.76 534.41h1.51V536.74h-1.51zM208.89 533.14h1.51V534.87h-1.51zM210.01 529.46h1.51V531.46h-1.51zM211.14 531.13h1.51V532.93h-1.51zM212.26 535.61h1.51V537.68h-1.51zM213.39 536.15h1.51V538.41h-1.51zM214.51 534.94h1.51V537.14h-1.51zM215.64 534.68h1.51V536.88h-1.51zM216.77 534.41h1.51V536.34h-1.51zM217.89 532.47h1.51V534.07h-1.51zM219.02 534.81h1.51V537.14h-1.51zM220.14 537.42h1.51V539.68h-1.51zM221.27 539.56h1.51V542.29h-1.51zM222.4 535.55h1.51V537.54h-1.51zM223.52 539.63h1.51V541.89h-1.51zM224.65 538.82h1.51V541.02h-1.51zM225.77 532.74h1.51V534.47h-1.51zM226.9 533.21h1.51V534.8h-1.51zM228.03 537.28h1.51V538.81h-1.51zM229.15 537.22h1.51V539.28h-1.51zM230.28 539.16h1.51V541.56h-1.51zM231.4 539.96h1.51V542.49h-1.51zM232.53 540.7h1.51V543.43h-1.51zM233.65 539.89h1.51V542.49h-1.51zM234.78 540.43h1.51V542.76h-1.51zM235.91 540.9h1.51V543.63h-1.51zM237.03 541.16h1.51V543.9h-1.51zM238.16 540.63h1.51V543.16h-1.51zM239.28 541.57h1.51V544.23h-1.51zM240.41 540.56h1.51V543.03h-1.51zM241.54 541.63h1.51V544.37h-1.51zM242.66 541.43h1.51V544.1h-1.51zM243.79 541.83h1.51V544.57h-1.51zM247.16 541.83h1.51V544.57h-1.51zM249.42 541.97h1.51V544.7h-1.51zM252.79 541.63h1.51V544.37h-1.51zM258.42 541.23h1.51V543.96h-1.51zM260.68 541.3h1.51V544.03h-1.51zM261.8 540.09h1.51V542.63h-1.51zM264.05 540.56h1.51V543.29h-1.51zM265.18 540.9h1.51V543.63h-1.51zM266.3 540.56h1.51V543.16h-1.51zM268.56 541.36h1.51V544.03h-1.51zM273.06 540.5h1.51V543.23h-1.51zM275.31 539.09h1.51V541.82h-1.51zM276.44 539.02h1.51V541.76h-1.51zM279.81 539.49h1.51V542.16h-1.51zM280.94 539.83h1.51V542.56h-1.51zM282.07 539.69h1.51V542.43h-1.51zM283.19 539.96h1.51V542.69h-1.51zM284.32 540.29h1.51V542.96h-1.51zM287.7 538.96h1.51V541.69h-1.51zM288.82 538.76h1.51V541.29h-1.51zM289.95 538.42h1.51V541.09h-1.51zM291.07 538.15h1.51V540.89h-1.51zM294.45 537.69h1.51V540.42h-1.51zM296.7 533.94h1.51V536.61h-1.51zM297.83 533.47h1.51V536.14h-1.51zM298.95 534.94h1.51V537.68h-1.51zM300.08 535.35h1.51V538.08h-1.51zM301.21 535.21h1.51V537.81h-1.51zM302.33 537.15h1.51V539.88h-1.51zM303.46 527.45h1.51V529.92h-1.51zM304.58 525.98h1.51V528.65h-1.51zM305.71 528.39h1.51V531.12h-1.51zM306.84 528.52h1.51V531.19h-1.51zM307.96 534.34h1.51V536.94h-1.51zM309.09 532.67h1.51V535.4h-1.51zM310.21 531.13h1.51V533.87h-1.51zM311.34 523.17h1.51V525.91h-1.51zM312.46 522.71h1.51V525.31h-1.51zM313.59 523.17h1.51V525.64h-1.51zM315.84 531.2h1.51V533.66h-1.51zM316.97 526.45h1.51V529.05h-1.51zM318.09 526.45h1.51V529.05h-1.51zM319.22 517.76h1.51V520.42h-1.51zM320.35 524.98h1.51V527.65h-1.51zM321.47 523.51h1.51V525.31h-1.51zM322.6 526.45h1.51V528.92h-1.51zM323.72 533.47h1.51V536.21h-1.51zM324.85 524.65h1.51V527.18h-1.51zM325.98 525.78h1.51V528.25h-1.51zM327.1 518.23h1.51V520.62h-1.51zM328.23 511.74h1.51V514.14h-1.51zM329.35 511.2h1.51V513.4h-1.51zM330.48 523.04h1.51V525.37h-1.51zM331.6 525.38h1.51V527.65h-1.51zM332.73 521.9h1.51V524.24h-1.51zM333.86 524.85h1.51V527.38h-1.51zM334.98 518.36h1.51V520.82h-1.51zM336.11 512.27h1.51V514.27h-1.51zM337.23 513.88h1.51V516.28h-1.51zM338.36 520.63h1.51V522.83h-1.51zM339.49 529.26h1.51V531.79h-1.51zM340.61 529.86h1.51V532.39h-1.51zM341.74 527.59h1.51V530.05h-1.51zM342.86 528.59h1.51V531.12h-1.51zM343.99 517.36h1.51V519.02h-1.51zM345.11 516.89h1.51V519.29h-1.51zM346.24 525.05h1.51V527.58h-1.51zM347.37 531.67h1.51V534.13h-1.51zM348.49 528.52h1.51V531.19h-1.51zM349.62 530.33h1.51V532.53h-1.51zM350.74 520.9h1.51V522.56h-1.51zM351.87 525.45h1.51V527.78h-1.51zM353 525.31h1.51V528.05h-1.51zM354.12 528.59h1.51V530.79h-1.51zM355.25 535.95h1.51V538.68h-1.51zM356.37 530.33h1.51V532.8h-1.51zM357.5 527.45h1.51V529.38h-1.51zM358.63 526.05h1.51V528.38h-1.51zM359.75 527.65h1.51V529.92h-1.51zM360.88 526.32h1.51V528.58h-1.51zM362 532.67h1.51V535.2h-1.51zM363.13 535.61h1.51V538.21h-1.51zM364.25 531h1.51V533.53h-1.51zM365.38 532.87h1.51V535.47h-1.51zM366.51 528.66h1.51V530.92h-1.51zM368.76 530.66h1.51V533.06h-1.51zM369.88 534.81h1.51V537.14h-1.51zM371.01 537.22h1.51V539.88h-1.51zM372.14 531.4h1.51V533.73h-1.51zM373.26 532.4h1.51V534.94h-1.51zM374.39 524.45h1.51V526.44h-1.51zM375.51 530.53h1.51V532.66h-1.51zM376.64 527.65h1.51V529.85h-1.51zM377.76 533h1.51V535.34h-1.51zM378.89 537.08h1.51V539.75h-1.51zM380.02 529.93h1.51V532.26h-1.51zM381.14 531.47h1.51V534h-1.51zM382.27 531.47h1.51V533.6h-1.51zM383.39 528.12h1.51V530.66h-1.51zM384.52 528.46h1.51V530.52h-1.51zM385.65 532h1.51V534.27h-1.51zM386.77 535.81h1.51V538.35h-1.51zM387.9 536.62h1.51V539.08h-1.51zM389.02 538.42h1.51V540.95h-1.51zM390.15 529.46h1.51V531.99h-1.51zM391.28 529.53h1.51V531.99h-1.51zM392.4 525.18h1.51V527.11h-1.51zM393.53 533.07h1.51V535.34h-1.51zM394.65 537.02h1.51V539.68h-1.51zM395.78 529.13h1.51V530.86h-1.51zM396.9 530.13h1.51V532.06h-1.51zM398.03 527.39h1.51V529.52h-1.51zM399.16 529.66h1.51V531.86h-1.51zM400.28 528.93h1.51V531.06h-1.51zM401.41 535.21h1.51V537.68h-1.51zM403.66 531.4h1.51V533.2h-1.51zM404.79 533.27h1.51V535.67h-1.51zM405.91 526.79h1.51V528.65h-1.51zM407.04 529.73h1.51V531.66h-1.51zM408.16 526.12h1.51V528.45h-1.51zM409.29 532.74h1.51V535.2h-1.51zM410.41 537.35h1.51V539.68h-1.51zM411.54 531.67h1.51V533.93h-1.51zM412.67 531.27h1.51V533.33h-1.51zM413.79 524.38h1.51V526.11h-1.51zM414.92 530.6h1.51V532.93h-1.51zM416.04 527.39h1.51V529.45h-1.51zM417.17 533.74h1.51V536.14h-1.51zM418.3 537.35h1.51V539.82h-1.51zM419.42 533.27h1.51V535.6h-1.51zM420.55 532.94h1.51V534.94h-1.51zM421.67 530.4h1.51V532.66h-1.51zM422.8 530h1.51V532.6h-1.51zM423.93 529.33h1.51V531.66h-1.51zM425.05 534.14h1.51V536.67h-1.51zM426.18 535.68h1.51V538.15h-1.51zM427.3 532.34h1.51V534.47h-1.51zM428.43 531.4h1.51V533.53h-1.51zM429.55 528.39h1.51V530.45h-1.51zM430.68 529.13h1.51V531.46h-1.51zM431.81 528.66h1.51V530.86h-1.51zM432.93 535.01h1.51V537.21h-1.51zM434.06 536.68h1.51V539.28h-1.51zM435.18 528.99h1.51V531.19h-1.51zM436.31 534.48h1.51V537.01h-1.51zM437.44 524.91h1.51V527.18h-1.51zM438.56 526.92h1.51V528.72h-1.51zM439.69 523.38h1.51V525.31h-1.51zM440.81 530.2h1.51V532.53h-1.51zM441.94 532.2h1.51V534.47h-1.51zM443.06 523.98h1.51V525.71h-1.51zM444.19 522.04h1.51V524.24h-1.51zM445.32 518.09h1.51V519.22h-1.51zM446.44 518.43h1.51V520.36h-1.51zM447.57 519.56h1.51V521.63h-1.51zM448.69 526.05h1.51V528.11h-1.51zM449.82 530.6h1.51V532.93h-1.51zM450.95 523.64h1.51V525.31h-1.51zM452.07 511.61h1.51V512.87h-1.51zM453.2 508.33h1.51V509.52h-1.51zM454.32 508.8h1.51V510.73h-1.51zM455.45 508.33h1.51V509.72h-1.51zM456.58 517.69h1.51V519.35h-1.51zM457.7 522.17h1.51V524.03h-1.51zM458.83 530.4h1.51V532.66h-1.51zM459.95 517.22h1.51V518.35h-1.51zM461.08 511.54h1.51V513.2h-1.51zM462.2 506.12h1.51V507.45h-1.51zM463.33 507.33h1.51V508.45h-1.51zM464.46 515.62h1.51V517.41h-1.51zM465.58 522.24h1.51V524.64h-1.51zM466.71 518.83h1.51V520.56h-1.51zM467.83 510.54h1.51V511.73h-1.51zM468.96 508.26h1.51V510.06h-1.51zM470.09 513.75h1.51V515.14h-1.51zM471.21 505.91h1.51V506.92h-1.51zM472.34 521.3h1.51V523.43h-1.51zM473.46 523.24h1.51V525.24h-1.51zM474.59 519.63h1.51V521.69h-1.51zM475.71 505.99h1.51V507.12h-1.51zM476.84 503.51h1.51V505.11h-1.51zM477.97 504.84h1.51V505.85h-1.51zM479.09 503.37h1.51V504.65h-1.51zM480.22 512.34h1.51V513.74h-1.51zM481.34 523.31h1.51V525.04h-1.51zM482.47 512.61h1.51V514.4h-1.51zM483.6 499.23h1.51V500.36h-1.51zM484.72 490.67h1.51V491.61h-1.51zM485.85 500.17h1.51V501.03h-1.51zM486.97 495.95h1.51V496.82h-1.51zM488.1 506.86h1.51V508.32h-1.51zM489.23 516.62h1.51V518.95h-1.51zM490.35 506.32h1.51V507.92h-1.51zM491.48 494.55h1.51V495.35h-1.51zM492.6 485.58h1.51V486.79h-1.51zM493.73 485.85h1.51V487.66h-1.51zM494.85 481.64h1.51V483.18h-1.51zM495.98 496.96h1.51V498.22h-1.51zM497.11 511.27h1.51V513.2h-1.51zM498.23 486.93h1.51V488.32h-1.51zM499.36 481.51h1.51V482.57h-1.51zM500.48 454.55h1.51V456.1h-1.51zM501.61 491.88h1.51V492.87h-1.51zM502.74 488.93h1.51V489.86h-1.51zM503.86 489.6h1.51V490.73h-1.51zM504.99 483.32h1.51V484.98h-1.51zM506.11 457.43h1.51V458.3h-1.51zM507.24 435.56h1.51V437.64h-1.51zM508.36 377.31h1.51V380.79h-1.51zM509.49 380.72h1.51V385.14h-1.51zM510.62 390.02h1.51V394.3h-1.51zM511.74 444.46h1.51V446.93h-1.51zM512.87 461.44h1.51V463.72h-1.51zM513.99 476.82h1.51V478.23h-1.51zM515.12 446.6h1.51V450.41h-1.51zM516.25 442.65h1.51V447.87h-1.51zM517.37 412.29h1.51V418.58h-1.51zM518.5 423.66h1.51V429.95h-1.51zM519.62 440.38h1.51V445.06h-1.51zM520.75 465.72h1.51V469.87h-1.51zM521.88 462.45h1.51V467.8h-1.51zM523 460.97h1.51V465.46h-1.51zM524.13 447.8h1.51V455.76h-1.51zM525.25 468.46h1.51V474.09h-1.51zM526.38 474.28h1.51V479.44h-1.51zM527.5 480.17h1.51V484.38h-1.51zM528.63 504.44h1.51V507.19h-1.51zM529.76 477.69h1.51V482.51h-1.51zM530.88 481.97h1.51V486.12h-1.51zM532.01 475.75h1.51V481.44h-1.51zM533.13 489.06h1.51V493.01h-1.51zM534.26 494.88h1.51V498.56h-1.51zM535.39 503.77h1.51V506.19h-1.51zM536.51 518.89h1.51V520.36h-1.51zM537.64 508.25h1.51V510.4h-1.51zM538.76 501.03h1.51V504.45h-1.51zM539.89 496.82h1.51V499.97h-1.51zM541.01 507.39h1.51V510.53h-1.51zM542.14 504.04h1.51V507.05h-1.51zM543.27 516.88h1.51V519.69h-1.51zM544.39 525.78h1.51V527.31h-1.51zM545.52 518.09h1.51V520.3h-1.51zM546.64 513.34h1.51V516.75h-1.51zM547.77 516.55h1.51V518.36h-1.51zM548.9 524.31h1.51V526.05h-1.51zM550.02 520.76h1.51V521.63h-1.51zM551.15 520.69h1.51V522.9h-1.51zM552.27 527.12h1.51V528.05h-1.51zM553.4 522.03h1.51V524.17h-1.51zM554.53 519.96h1.51V521.77h-1.51zM555.65 515.95h1.51V518.56h-1.51zM556.78 521.63h1.51V522.97h-1.51zM557.9 522.97h1.51V523.97h-1.51zM559.03 526.98h1.51V527.99h-1.51zM560.15 531.8h1.51V533.73h-1.51zM561.28 525.92h1.51V527.11h-1.51zM562.41 530.06h1.51V531.46h-1.51zM563.53 521.83h1.51V522.7h-1.51zM564.66 526.65h1.51V527.45h-1.51zM565.78 522.24h1.51V523.5h-1.51zM566.91 522.9h1.51V523.97h-1.51zM568.04 534.81h1.51V537.01h-1.51zM569.16 528.46h1.51V529.85h-1.51zM570.29 523.44h1.51V524.5h-1.51zM571.41 525.92h1.51V527.18h-1.51zM572.54 524.18h1.51V525.71h-1.51zM573.66 525.18h1.51V526.44h-1.51zM574.79 527.92h1.51V529.32h-1.51zM575.92 535.35h1.51V537.34h-1.51zM577.04 524.24h1.51V526.04h-1.51zM578.17 521.7h1.51V522.7h-1.51zM579.29 522.1h1.51V522.97h-1.51zM580.42 523.64h1.51V525.24h-1.51zM581.55 521.7h1.51V523.3h-1.51zM582.67 527.32h1.51V529.25h-1.51zM583.8 531.53h1.51V533.6h-1.51zM584.92 523.78h1.51V525.24h-1.51zM586.05 517.15h1.51V518.02h-1.51zM587.18 522.31h1.51V523.83h-1.51zM588.3 522.97h1.51V525.04h-1.51zM589.43 520.7h1.51V522.36h-1.51zM590.55 526.45h1.51V528.05h-1.51zM591.68 530.33h1.51V532.46h-1.51zM592.8 521.03h1.51V522.63h-1.51zM593.93 516.61h1.51V517.42h-1.51zM595.06 517.76h1.51V519.29h-1.51zM596.18 518.76h1.51V520.62h-1.51zM597.31 515.82h1.51V516.81h-1.51zM598.43 522.77h1.51V524.5h-1.51zM599.56 527.05h1.51V529.38h-1.51zM600.69 519.5h1.51V521.03h-1.51zM601.81 516.09h1.51V517.82h-1.51zM602.94 512.41h1.51V513.87h-1.51zM604.06 514.35h1.51V516.28h-1.51zM605.19 514.35h1.51V515.48h-1.51zM606.31 519.76h1.51V521.43h-1.51zM607.44 526.45h1.51V528.45h-1.51zM608.57 516.89h1.51V518.68h-1.51zM609.69 507.06h1.51V508.45h-1.51zM610.82 507.73h1.51V508.92h-1.51zM611.94 508.33h1.51V509.52h-1.51zM613.07 505.59h1.51V507.38h-1.51zM614.2 514.82h1.51V517.08h-1.51zM615.32 522.51h1.51V524.7h-1.51zM616.45 509.6h1.51V510.99h-1.51zM617.57 504.38h1.51V505.91h-1.51zM618.7 494.89h1.51V496.68h-1.51zM619.83 498.9h1.51V500.63h-1.51zM620.95 493.15h1.51V494.74h-1.51zM622.08 506.99h1.51V508.99h-1.51zM623.2 515.95h1.51V518.08h-1.51zM624.33 497.03h1.51V498.02h-1.51zM625.45 488.33h1.51V489.33h-1.51zM626.58 485.93h1.51V487.59h-1.51zM627.71 493.08h1.51V494.48h-1.51zM628.83 485.79h1.51V486.92h-1.51zM629.96 500.97h1.51V502.9h-1.51zM631.08 514.68h1.51V516.75h-1.51zM632.21 488.4h1.51V490.33h-1.51zM633.34 482.91h1.51V483.92h-1.51zM634.46 476.09h1.51V477.56h-1.51zM635.59 496.83h1.51V498.76h-1.51zM636.71 474.35h1.51V475.42h-1.51zM637.84 485.72h1.51V486.79h-1.51zM638.96 495.96h1.51V497.89h-1.51zM640.09 502.58h1.51V504.51h-1.51zM641.22 502.51h1.51V503.77h-1.51zM642.34 504.85h1.51V505.78h-1.51zM643.47 484.18h1.51V485.12h-1.51zM644.59 469.34h1.51V470.67h-1.51zM645.72 475.69h1.51V476.75h-1.51zM646.85 505.32h1.51V506.85h-1.51zM647.97 482.58h1.51V483.78h-1.51zM649.1 479.64h1.51V480.83h-1.51zM650.22 477.03h1.51V477.96h-1.51zM651.35 486.53h1.51V488.39h-1.51zM652.48 492.08h1.51V493.81h-1.51zM653.6 507.06h1.51V508.92h-1.51zM654.73 515.02h1.51V517.15h-1.51zM655.85 494.55h1.51V496.35h-1.51zM656.98 492.61h1.51V494.01h-1.51zM658.1 487.73h1.51V489.13h-1.51zM659.23 500.64h1.51V501.7h-1.51zM660.36 504.05h1.51V505.38h-1.51zM661.48 507.66h1.51V509.66h-1.51zM662.61 520.5h1.51V522.63h-1.51zM663.73 507.12h1.51V508.85h-1.51zM664.86 493.88h1.51V495.55h-1.51zM665.99 497.49h1.51V499.42h-1.51zM667.11 502.11h1.51V504.04h-1.51zM668.24 506.99h1.51V509.05h-1.51zM669.36 512.74h1.51V515.21h-1.51zM670.49 525.11h1.51V527.71h-1.51zM671.61 511.47h1.51V513.6h-1.51zM672.74 510.4h1.51V512.73h-1.51zM673.87 509.2h1.51V511.13h-1.51zM674.99 511.2h1.51V513.74h-1.51zM676.12 513.95h1.51V516.28h-1.51zM677.24 519.03h1.51V521.49h-1.51zM678.37 526.72h1.51V529.32h-1.51zM679.5 518.02h1.51V520.36h-1.51zM680.62 513.68h1.51V515.81h-1.51zM681.75 513.61h1.51V515.61h-1.51zM682.87 513.48h1.51V515.88h-1.51zM684 511.4h1.51V513.74h-1.51zM685.13 522.1h1.51V524.57h-1.51zM686.25 528.32h1.51V530.99h-1.51zM687.38 520.03h1.51V522.5h-1.51zM688.5 509.4h1.51V511.6h-1.51zM689.63 512.41h1.51V514.81h-1.51zM690.75 512.74h1.51V514.87h-1.51zM691.88 516.75h1.51V519.15h-1.51zM693.01 517.42h1.51V519.75h-1.51zM694.13 526.65h1.51V529.25h-1.51zM695.26 513.28h1.51V515.88h-1.51zM696.38 501.44h1.51V503.77h-1.51zM697.51 504.78h1.51V506.98h-1.51zM698.64 505.25h1.51V507.58h-1.51zM699.76 507.06h1.51V509.26h-1.51zM700.89 516.75h1.51V519.15h-1.51zM702.01 521.17h1.51V523.7h-1.51zM703.14 510.94h1.51V513.13h-1.51zM704.26 495.15h1.51V497.35h-1.51zM705.39 497.63h1.51V500.03h-1.51zM706.52 498.7h1.51V500.96h-1.51zM707.64 494.95h1.51V497.15h-1.51zM708.77 508.13h1.51V510.53h-1.51zM709.89 519.63h1.51V522.1h-1.51zM711.02 503.05h1.51V505.31h-1.51zM712.15 481.51h1.51V483.71h-1.51zM713.27 483.12h1.51V485.25h-1.51zM714.4 487.66h1.51V490.06h-1.51zM715.52 479.17h1.51V481.37h-1.51zM716.65 501.64h1.51V503.91h-1.51zM717.78 508.8h1.51V511.46h-1.51zM718.9 487.26h1.51V489.73h-1.51zM720.03 466.33h1.51V468.39h-1.51zM721.15 455.7h1.51V457.69h-1.51zM722.28 458.31h1.51V460.44h-1.51zM723.4 448.94h1.51V451.07h-1.51zM724.53 475.56h1.51V477.69h-1.51zM725.66 494.22h1.51V496.28h-1.51zM726.78 450.21h1.51V452.48h-1.51zM727.91 421.32h1.51V422.65h-1.51zM729.03 411.36h1.51V413.16h-1.51zM730.16 452.29h1.51V454.28h-1.51zM731.29 467.8h1.51V469.93h-1.51zM732.41 425.07h1.51V427.33h-1.51zM733.54 447.41h1.51V449.54h-1.51zM734.66 354.05h1.51V355.04h-1.51zM735.79 331.98h1.51V333.11h-1.51zM736.91 285.83h1.51V287.3h-1.51zM738.04 323.69h1.51V324.75h-1.51zM739.17 273.79h1.51V274.6h-1.51zM740.29 339.94h1.51V341h-1.51zM741.42 397.45h1.51V398.98h-1.51zM742.54 296.8h1.51V298.27h-1.51zM743.67 266.37h1.51V268.11h-1.51zM744.8 208.05h1.51V209.59h-1.51zM745.92 243.1h1.51V244.57h-1.51zM747.05 239.62h1.51V241.03h-1.51zM748.17 272.65h1.51V274.46h-1.51zM749.3 351.7h1.51V352.97h-1.51zM750.43 369.36h1.51V370.69h-1.51zM751.55 264.3h1.51V265.57h-1.51zM752.68 211.73h1.51V212.94h-1.51zM753.8 158.83h1.51V160.64h-1.51zM754.93 204.11h1.51V206.12h-1.51zM756.05 257.15h1.51V258.01h-1.51zM757.18 345.89h1.51V347.42h-1.51z"/>
<path fill="#6E2AA6" d="M140.21 541.63h1.51V544.37h-1.51zM141.33 541.83h1.51V544.57h-1.51zM177.36 541.7h1.51V544.43h-1.51zM185.24 539.16h1.51V541.82h-1.51zM186.37 539.56h1.51V542.23h-1.51zM187.49 537.89h1.51V540.62h-1.51zM188.62 537.35h1.51V540.08h-1.51zM189.75 541.36h1.51V544.1h-1.51zM190.87 536.95h1.51V539.68h-1.51zM192 537.75h1.51V540.42h-1.51zM193.12 535.68h1.51V538.35h-1.51zM194.25 536.15h1.51V538.75h-1.51zM195.38 534.54h1.51V537.01h-1.51zM196.5 532.94h1.51V535.47h-1.51zM197.63 536.48h1.51V539.22h-1.51zM198.75 536.42h1.51V539.08h-1.51zM199.88 532.14h1.51V534.47h-1.51zM201 530.26h1.51V532.66h-1.51zM202.13 529.33h1.51V531.59h-1.51zM203.26 529.19h1.51V531.66h-1.51zM204.38 530.73h1.51V533.26h-1.51zM205.51 535.68h1.51V538.21h-1.51zM206.63 531.53h1.51V534.27h-1.51zM207.76 533.94h1.51V536.47h-1.51zM208.89 532.07h1.51V534.8h-1.51zM210.01 528.66h1.51V531.12h-1.51zM211.14 530.13h1.51V532.46h-1.51zM212.26 534.88h1.51V537.61h-1.51zM213.39 535.61h1.51V538.15h-1.51zM214.51 534.34h1.51V536.67h-1.51zM215.64 534.08h1.51V536.67h-1.51zM216.77 533.54h1.51V535.94h-1.51zM217.89 531.27h1.51V533.53h-1.51zM219.02 534.34h1.51V536.94h-1.51zM220.14 536.88h1.51V539.42h-1.51zM221.27 539.49h1.51V542.16h-1.51zM222.4 534.74h1.51V537.34h-1.51zM223.52 539.09h1.51V541.76h-1.51zM224.65 538.22h1.51V540.95h-1.51zM225.77 531.67h1.51V533.87h-1.51zM226.9 532h1.51V534.6h-1.51zM228.03 536.01h1.51V538.68h-1.51zM229.15 536.48h1.51V539.08h-1.51zM230.28 538.76h1.51V541.09h-1.51zM231.4 539.69h1.51V542.43h-1.51zM232.53 540.63h1.51V543.36h-1.51zM233.65 539.69h1.51V542.29h-1.51zM234.78 539.96h1.51V542.49h-1.51zM235.91 540.83h1.51V543.43h-1.51zM238.16 540.36h1.51V543.09h-1.51zM240.41 540.23h1.51V542.89h-1.51zM241.54 541.57h1.51V544.3h-1.51zM242.66 541.3h1.51V543.96h-1.51zM244.91 541.5h1.51V544.23h-1.51zM246.04 541.83h1.51V544.57h-1.51zM251.67 541.23h1.51V543.96h-1.51zM253.92 541.5h1.51V544.23h-1.51zM255.05 541.43h1.51V544.16h-1.51zM257.3 540.7h1.51V543.43h-1.51zM264.05 540.5h1.51V543.03h-1.51zM265.18 540.83h1.51V543.56h-1.51zM275.31 539.02h1.51V541.76h-1.51zM276.44 538.96h1.51V541.69h-1.51zM278.69 541.1h1.51V543.83h-1.51zM282.07 539.63h1.51V542.29h-1.51zM283.19 539.89h1.51V542.63h-1.51zM292.2 538.29h1.51V541.02h-1.51zM293.33 538.56h1.51V541.29h-1.51zM295.58 535.01h1.51V537.74h-1.51zM298.95 534.88h1.51V537.48h-1.51zM306.84 528.39h1.51V531.12h-1.51zM309.09 532.6h1.51V535.34h-1.51zM311.34 523.11h1.51V525.77h-1.51zM318.09 526.25h1.51V528.98h-1.51zM320.35 524.85h1.51V527.51h-1.51zM321.47 522.51h1.51V525.17h-1.51zM323.72 533.41h1.51V536.14h-1.51zM324.85 524.38h1.51V527.11h-1.51zM325.98 525.45h1.51V528.18h-1.51zM327.1 517.82h1.51V520.42h-1.51zM328.23 511.34h1.51V513.94h-1.51zM329.35 510.6h1.51V513.33h-1.51zM333.86 524.58h1.51V527.31h-1.51zM336.11 511.47h1.51V514h-1.51zM337.23 513.48h1.51V516.21h-1.51zM338.36 520.03h1.51V522.76h-1.51zM339.49 528.99h1.51V531.73h-1.51zM340.61 529.59h1.51V532.33h-1.51zM343.99 516.22h1.51V518.89h-1.51zM345.11 516.49h1.51V519.15h-1.51zM346.24 524.78h1.51V527.51h-1.51zM348.49 528.39h1.51V531.12h-1.51zM349.62 529.73h1.51V532.46h-1.51zM350.74 519.76h1.51V522.23h-1.51zM351.87 524.98h1.51V527.65h-1.51zM353 525.25h1.51V527.85h-1.51zM354.12 527.99h1.51V530.72h-1.51zM355.25 535.88h1.51V538.55h-1.51zM356.37 530h1.51V532.73h-1.51zM357.5 526.59h1.51V529.12h-1.51zM358.63 525.58h1.51V528.18h-1.51zM359.75 527.12h1.51V529.79h-1.51zM360.88 525.78h1.51V528.38h-1.51zM362 532.4h1.51V535h-1.51zM366.51 528.12h1.51V530.86h-1.51zM367.63 533.07h1.51V535.8h-1.51zM368.76 530.26h1.51V532.8h-1.51zM371.01 537.08h1.51V539.75h-1.51zM372.14 530.93h1.51V533.53h-1.51zM375.51 529.86h1.51V532.39h-1.51zM376.64 527.05h1.51V529.79h-1.51zM377.76 532.54h1.51V535.14h-1.51zM378.89 536.95h1.51V539.55h-1.51zM380.02 529.46h1.51V532.13h-1.51zM382.27 530.8h1.51V533.46h-1.51zM383.39 527.86h1.51V530.19h-1.51zM384.52 527.72h1.51V530.32h-1.51zM385.65 531.47h1.51V534.07h-1.51zM387.9 536.28h1.51V539.01h-1.51zM390.15 529.19h1.51V531.86h-1.51zM391.28 529.19h1.51V531.86h-1.51zM392.4 524.31h1.51V526.84h-1.51zM393.53 532.54h1.51V535.27h-1.51zM395.78 528.06h1.51V530.72h-1.51zM396.9 529.26h1.51V531.93h-1.51zM398.03 526.72h1.51V529.18h-1.51zM402.53 537.75h1.51V540.49h-1.51zM403.66 530.4h1.51V533.06h-1.51zM404.79 532.87h1.51V535.47h-1.51zM405.91 525.85h1.51V528.31h-1.51zM407.04 528.86h1.51V531.32h-1.51zM408.16 525.65h1.51V528.25h-1.51zM409.29 532.4h1.51V535.14h-1.51zM411.54 531.13h1.51V533.8h-1.51zM412.67 530.53h1.51V533.06h-1.51zM413.79 523.31h1.51V525.91h-1.51zM414.92 530.13h1.51V532.6h-1.51zM416.04 526.65h1.51V529.18h-1.51zM417.17 533.34h1.51V536.07h-1.51zM418.3 537.02h1.51V539.68h-1.51zM420.55 532.14h1.51V534.87h-1.51zM421.67 529.86h1.51V532.53h-1.51zM422.8 529.8h1.51V532.46h-1.51zM423.93 528.86h1.51V531.32h-1.51zM425.05 533.87h1.51V536.61h-1.51zM426.18 535.35h1.51V538.08h-1.51zM427.3 531.67h1.51V534.33h-1.51zM428.43 530.73h1.51V533.46h-1.51zM429.55 527.65h1.51V530.12h-1.51zM430.68 528.66h1.51V531.26h-1.51zM431.81 528.06h1.51V530.52h-1.51zM432.93 534.41h1.51V537.14h-1.51zM434.06 536.48h1.51V539.08h-1.51zM435.18 528.39h1.51V530.92h-1.51zM436.31 534.21h1.51V536.74h-1.51zM437.44 524.38h1.51V526.91h-1.51zM439.69 522.51h1.51V525.24h-1.51zM440.81 529.73h1.51V532.26h-1.51zM441.94 531.67h1.51V534.4h-1.51zM443.06 522.91h1.51V525.31h-1.51zM444.19 521.44h1.51V523.7h-1.51zM445.32 516.42h1.51V518.62h-1.51zM446.44 517.56h1.51V519.96h-1.51zM447.57 518.83h1.51V521.36h-1.51zM448.69 525.31h1.51V527.85h-1.51zM449.82 530.13h1.51V532.86h-1.51zM450.95 522.51h1.51V524.97h-1.51zM452.07 510.07h1.51V512.47h-1.51zM453.2 506.72h1.51V509.26h-1.51zM454.32 507.93h1.51V510.06h-1.51zM455.45 506.92h1.51V508.85h-1.51zM456.58 516.55h1.51V518.75h-1.51zM457.7 521.24h1.51V523.9h-1.51zM458.83 529.86h1.51V532.46h-1.51zM459.95 515.55h1.51V518.08h-1.51zM461.08 510.4h1.51V512.73h-1.51zM462.2 504.65h1.51V506.78h-1.51zM463.33 505.65h1.51V507.38h-1.51zM464.46 514.61h1.51V516.95h-1.51zM465.58 521.84h1.51V524.1h-1.51zM466.71 517.76h1.51V520.02h-1.51zM467.83 508.93h1.51V511.46h-1.51zM468.96 507.26h1.51V509.26h-1.51zM470.09 512.34h1.51V514.87h-1.51zM471.21 503.91h1.51V505.84h-1.51zM472.34 520.63h1.51V523.1h-1.51zM473.46 522.44h1.51V524.9h-1.51zM474.59 518.89h1.51V521.36h-1.51zM475.71 504.32h1.51V506.65h-1.51zM476.84 502.31h1.51V504.64h-1.51zM477.97 502.84h1.51V505.11h-1.51zM479.09 501.37h1.51V503.37h-1.51zM480.22 510.94h1.51V512.8h-1.51zM481.34 522.24h1.51V524.57h-1.51zM482.47 511.61h1.51V514.14h-1.51zM483.6 497.56h1.51V499.63h-1.51zM484.72 488.67h1.51V490h-1.51zM485.85 498.23h1.51V500.5h-1.51zM486.97 493.95h1.51V495.81h-1.51zM488.1 505.52h1.51V507.72h-1.51zM489.23 516.15h1.51V518.68h-1.51zM490.35 505.12h1.51V507.25h-1.51zM491.48 492.55h1.51V494.94h-1.51zM492.6 483.58h1.51V485.58h-1.51zM493.73 483.85h1.51V485.78h-1.51zM494.85 479.64h1.51V481.44h-1.51zM495.98 495.42h1.51V497.62h-1.51zM497.11 510.4h1.51V512.8h-1.51zM498.23 485.52h1.51V487.65h-1.51zM499.36 479.77h1.51V481.84h-1.51zM500.48 452.55h1.51V454.55h-1.51zM501.61 490.07h1.51V492h-1.51zM502.74 487.06h1.51V489.46h-1.51zM503.86 487.93h1.51V489.86h-1.51zM504.99 482.18h1.51V484.38h-1.51zM506.11 455.43h1.51V457.16h-1.51zM507.24 433.56h1.51V435.36h-1.51zM508.36 375.31h1.51V376.78h-1.51zM509.49 378.72h1.51V380.45h-1.51zM510.62 388.02h1.51V388.95h-1.51zM511.74 442.46h1.51V443.99h-1.51zM512.87 459.44h1.51V461.24h-1.51zM513.99 474.82h1.51V476.35h-1.51zM515.12 444.6h1.51V445.99h-1.51zM516.25 440.38h1.51V441.45h-1.51zM517.37 407.61h1.51V411.09h-1.51zM518.5 421.12h1.51V422.46h-1.51zM519.62 437.5h1.51V439.18h-1.51zM520.75 462.78h1.51V464.52h-1.51zM521.88 460.31h1.51V461.25h-1.51zM523 458.17h1.51V459.77h-1.51zM524.13 444.79h1.51V446.6h-1.51zM525.25 465.12h1.51V467.26h-1.51zM526.38 472.01h1.51V473.08h-1.51zM527.5 478.16h1.51V478.97h-1.51zM528.63 502.44h1.51V503.5h-1.51zM529.76 475.02h1.51V476.49h-1.51zM530.88 478.83h1.51V480.77h-1.51zM532.01 472.95h1.51V474.55h-1.51zM533.13 486.05h1.51V487.86h-1.51zM534.26 492.74h1.51V493.68h-1.51zM535.39 501.77h1.51V502.57h-1.51zM536.51 516.89h1.51V518.62h-1.51zM537.64 506.25h1.51V507.72h-1.51zM538.76 498.96h1.51V499.83h-1.51zM539.89 494.82h1.51V495.81h-1.51zM541.01 505.39h1.51V506.38h-1.51zM542.14 501.43h1.51V502.84h-1.51zM543.27 514.88h1.51V516.28h-1.51zM544.39 524.51h1.51V526.51h-1.51zM545.52 516.09h1.51V517.41h-1.51zM546.64 511.26h1.51V512.14h-1.51zM547.77 514.55h1.51V515.94h-1.51zM548.9 522.31h1.51V524.37h-1.51zM550.02 518.76h1.51V520.36h-1.51zM551.15 518.69h1.51V520.09h-1.51zM552.27 525.25h1.51V527.11h-1.51zM553.4 520.03h1.51V521.56h-1.51zM554.53 517.96h1.51V519.69h-1.51zM555.65 513.95h1.51V515.14h-1.51zM556.78 519.63h1.51V521.29h-1.51zM557.9 520.97h1.51V523.17h-1.51zM559.03 524.98h1.51V526.78h-1.51zM560.15 530.93h1.51V533h-1.51zM561.28 524.31h1.51V526.51h-1.51zM562.41 528.66h1.51V530.66h-1.51zM563.53 519.83h1.51V522.16h-1.51zM564.66 524.65h1.51V526.91h-1.51zM565.78 520.7h1.51V522.36h-1.51zM566.91 520.9h1.51V522.97h-1.51zM568.04 534.21h1.51V536.81h-1.51zM569.16 527.05h1.51V529.38h-1.51zM570.29 521.7h1.51V523.77h-1.51zM571.41 524.38h1.51V526.31h-1.51zM572.54 522.91h1.51V524.77h-1.51zM573.66 523.64h1.51V525.31h-1.51zM574.79 526.52h1.51V529.05h-1.51zM575.92 534.54h1.51V537.21h-1.51zM577.04 523.24h1.51V525.51h-1.51zM578.17 519.9h1.51V522.16h-1.51zM579.29 520.1h1.51V522.56h-1.51zM580.42 522.44h1.51V524.57h-1.51zM581.55 520.5h1.51V522.83h-1.51zM582.67 526.45h1.51V528.92h-1.51zM583.8 530.8h1.51V533.2h-1.51zM584.92 522.44h1.51V524.84h-1.51zM586.05 515.15h1.51V517.55h-1.51zM587.18 521.03h1.51V523.3h-1.51zM588.3 522.24h1.51V524.64h-1.51zM589.43 519.56h1.51V522.03h-1.51zM590.55 525.25h1.51V527.78h-1.51zM591.68 529.66h1.51V532.39h-1.51zM592.8 519.83h1.51V522.36h-1.51zM593.93 514.61h1.51V516.81h-1.51zM595.06 516.49h1.51V518.55h-1.51zM596.18 517.82h1.51V519.75h-1.51zM597.31 514.01h1.51V516.14h-1.51zM598.43 521.7h1.51V523.97h-1.51zM599.56 526.59h1.51V529.25h-1.51zM600.69 518.23h1.51V520.56h-1.51zM601.81 515.02h1.51V517.28h-1.51zM602.94 511.07h1.51V513.13h-1.51zM604.06 513.48h1.51V515.48h-1.51zM605.19 512.68h1.51V515.07h-1.51zM606.31 518.63h1.51V521.16h-1.51zM607.44 525.65h1.51V528.25h-1.51zM608.57 515.88h1.51V518.22h-1.51zM609.69 505.65h1.51V507.78h-1.51zM610.82 506.12h1.51V508.45h-1.51zM611.94 506.72h1.51V508.99h-1.51zM613.07 504.58h1.51V506.78h-1.51zM614.2 514.28h1.51V516.75h-1.51zM615.32 521.9h1.51V524.44h-1.51zM616.45 508.19h1.51V510.79h-1.51zM617.57 503.11h1.51V505.38h-1.51zM618.7 493.88h1.51V496.15h-1.51zM619.83 497.83h1.51V500.29h-1.51zM620.95 491.94h1.51V494.14h-1.51zM622.08 506.19h1.51V508.59h-1.51zM623.2 515.28h1.51V517.82h-1.51zM624.33 495.22h1.51V497.35h-1.51zM625.45 486.53h1.51V488.59h-1.51zM626.58 484.79h1.51V487.32h-1.51zM627.71 491.68h1.51V494.14h-1.51zM628.83 484.12h1.51V486.32h-1.51zM629.96 500.1h1.51V502.43h-1.51zM631.08 513.95h1.51V516.48h-1.51zM632.21 487.53h1.51V489.53h-1.51zM633.34 480.91h1.51V483.04h-1.51zM634.46 474.09h1.51V476.22h-1.51zM635.59 495.96h1.51V498.22h-1.51zM636.71 472.35h1.51V474.68h-1.51zM637.84 483.99h1.51V486.12h-1.51zM638.96 495.09h1.51V497.55h-1.51zM640.09 501.71h1.51V504.17h-1.51zM641.22 500.97h1.51V503.37h-1.51zM642.34 502.98h1.51V505.44h-1.51zM643.47 482.18h1.51V484.24h-1.51zM644.59 467.87h1.51V469.93h-1.51zM645.72 473.95h1.51V475.88h-1.51zM646.85 504.05h1.51V506.58h-1.51zM647.97 480.98h1.51V483.04h-1.51zM649.1 478.03h1.51V480.1h-1.51zM650.22 475.16h1.51V477.42h-1.51zM651.35 485.59h1.51V487.79h-1.51zM652.48 491.01h1.51V493.27h-1.51zM653.6 506.12h1.51V508.65h-1.51zM654.73 514.35h1.51V516.95h-1.51zM655.85 493.55h1.51V495.95h-1.51zM656.98 491.21h1.51V493.67h-1.51zM658.1 486.33h1.51V488.52h-1.51zM659.23 498.9h1.51V501.5h-1.51zM660.36 502.58h1.51V504.71h-1.51zM661.48 506.86h1.51V509.12h-1.51zM662.61 519.83h1.51V522.23h-1.51zM663.73 506.05h1.51V508.65h-1.51zM664.86 492.75h1.51V495.21h-1.51zM665.99 496.62h1.51V499.22h-1.51zM667.11 501.24h1.51V503.84h-1.51zM668.24 506.25h1.51V508.85h-1.51zM669.36 512.41h1.51V514.94h-1.51zM670.49 524.91h1.51V527.58h-1.51zM671.61 510.8h1.51V513.4h-1.51zM672.74 509.93h1.51V512.47h-1.51zM673.87 508.33h1.51V510.93h-1.51zM674.99 510.94h1.51V513.33h-1.51zM676.12 513.48h1.51V515.74h-1.51zM677.24 518.69h1.51V521.43h-1.51zM678.37 526.52h1.51V529.25h-1.51zM679.5 517.56h1.51V520.22h-1.51zM680.62 513.01h1.51V515.48h-1.51zM681.75 512.81h1.51V515.54h-1.51zM682.87 513.08h1.51V515.81h-1.51zM684 510.94h1.51V513.67h-1.51zM686.25 528.19h1.51V530.92h-1.51zM687.38 519.7h1.51V522.36h-1.51zM688.5 508.8h1.51V511.4h-1.51zM689.63 512.01h1.51V514.67h-1.51zM690.75 512.07h1.51V514.61h-1.51zM691.88 516.35h1.51V519.02h-1.51zM694.13 526.45h1.51V529.12h-1.51zM695.26 513.08h1.51V515.81h-1.51zM696.38 500.97h1.51V503.5h-1.51zM697.51 504.18h1.51V506.78h-1.51zM698.64 504.78h1.51V507.32h-1.51zM699.76 506.46h1.51V509.19h-1.51zM700.89 516.35h1.51V519.09h-1.51zM703.14 510.33h1.51V513.07h-1.51zM704.26 494.55h1.51V497.15h-1.51zM705.39 497.23h1.51V499.89h-1.51zM706.52 498.16h1.51V500.76h-1.51zM707.64 494.35h1.51V497.02h-1.51zM708.77 507.73h1.51V510.33h-1.51zM709.89 519.3h1.51V522.03h-1.51zM711.02 502.51h1.51V505.24h-1.51zM712.15 480.91h1.51V483.38h-1.51zM713.27 482.45h1.51V485.05h-1.51zM714.4 487.26h1.51V489.93h-1.51zM716.65 501.11h1.51V503.84h-1.51zM717.78 508.66h1.51V511.33h-1.51zM718.9 486.93h1.51V489.39h-1.51zM720.03 465.6h1.51V468.06h-1.51zM721.15 454.9h1.51V457.43h-1.51zM722.28 457.64h1.51V459.97h-1.51zM723.4 448.27h1.51V450.67h-1.51zM724.53 474.89h1.51V477.56h-1.51zM726.78 449.68h1.51V452.21h-1.51zM727.91 419.85h1.51V422.38h-1.51zM729.03 410.36h1.51V412.69h-1.51zM730.16 451.48h1.51V454.02h-1.51zM731.29 467.13h1.51V469.53h-1.51zM732.41 424.53h1.51V427h-1.51zM733.54 446.74h1.51V449.34h-1.51zM734.66 352.24h1.51V354.57h-1.51zM735.79 330.31h1.51V332.5h-1.51zM736.91 284.5h1.51V286.56h-1.51zM738.04 321.95h1.51V324.21h-1.51zM739.17 271.79h1.51V273.65h-1.51zM740.29 338.2h1.51V340.4h-1.51zM741.42 396.18h1.51V398.44h-1.51zM742.54 294.8h1.51V296.99h-1.51zM743.67 264.37h1.51V266.5h-1.51zM744.8 206.05h1.51V207.98h-1.51zM745.92 241.1h1.51V243.09h-1.51zM747.05 237.62h1.51V239.55h-1.51zM748.17 270.65h1.51V273.12h-1.51zM749.3 349.7h1.51V352.03h-1.51zM750.43 367.89h1.51V370.29h-1.51zM751.55 262.3h1.51V264.23h-1.51zM752.68 209.73h1.51V211.46h-1.51zM753.8 156.83h1.51V158.83h-1.51zM754.93 202.11h1.51V204.37h-1.51zM756.05 255.21h1.51V257.67h-1.51zM757.18 344.62h1.51V346.95h-1.51z"/>
<path fill="#9A2897" d="M327.1 517.62h1.51V520.36h-1.51zM348.49 528.32h1.51V531.06h-1.51zM353 525.05h1.51V527.78h-1.51zM399.16 529.06h1.51V531.79h-1.51zM404.79 532.67h1.51V535.4h-1.51zM446.44 517.16h1.51V519.89h-1.51zM454.32 507.26h1.51V509.99h-1.51zM472.34 520.3h1.51V523.03h-1.51zM481.34 521.77h1.51V524.5h-1.51zM483.6 496.83h1.51V499.56h-1.51zM486.97 493.01h1.51V495.68h-1.51zM491.48 492.14h1.51V494.88h-1.51zM492.6 482.78h1.51V485.51h-1.51zM495.98 494.82h1.51V497.55h-1.51zM497.11 510h1.51V512.73h-1.51zM501.61 489.2h1.51V491.87h-1.51zM503.86 487.06h1.51V489.66h-1.51zM506.11 454.36h1.51V456.96h-1.51zM507.24 432.56h1.51V435.22h-1.51zM508.36 373.98h1.51V376.44h-1.51zM512.87 458.44h1.51V461.17h-1.51zM515.12 443.19h1.51V445.92h-1.51zM516.25 438.38h1.51V441.11h-1.51zM517.37 405.61h1.51V408.21h-1.51zM519.62 435.5h1.51V438.23h-1.51zM520.75 460.78h1.51V463.51h-1.51zM523 456.17h1.51V458.9h-1.51zM525.25 463.12h1.51V465.79h-1.51zM526.38 470.01h1.51V472.74h-1.51zM532.01 470.95h1.51V473.68h-1.51zM534.26 490.74h1.51V493.47h-1.51zM538.76 496.96h1.51V499.69h-1.51zM541.01 503.58h1.51V506.31h-1.51zM542.14 499.43h1.51V502.17h-1.51zM543.27 513.48h1.51V516.21h-1.51zM544.39 523.71h1.51V526.44h-1.51zM545.52 514.61h1.51V517.35h-1.51zM547.77 513.14h1.51V515.88h-1.51zM550.02 517.56h1.51V520.22h-1.51zM553.4 518.76h1.51V521.49h-1.51zM554.53 516.89h1.51V519.62h-1.51zM557.9 520.37h1.51V523.03h-1.51zM564.66 524.11h1.51V526.84h-1.51zM566.91 520.17h1.51V522.9h-1.51zM571.41 523.51h1.51V526.24h-1.51zM575.92 534.41h1.51V537.14h-1.51zM579.29 519.76h1.51V522.5h-1.51zM601.81 514.48h1.51V517.21h-1.51zM625.45 485.79h1.51V488.52h-1.51zM660.36 501.91h1.51V504.64h-1.51zM672.74 509.67h1.51V512.33h-1.51zM691.88 516.22h1.51V518.95h-1.51zM708.77 507.53h1.51V510.26h-1.51zM713.27 482.25h1.51V484.98h-1.51zM724.53 474.76h1.51V477.49h-1.51zM729.03 409.89h1.51V412.55h-1.51zM734.66 351.77h1.51V354.51h-1.51zM735.79 329.71h1.51V332.44h-1.51zM736.91 283.76h1.51V286.43h-1.51zM739.17 270.86h1.51V273.52h-1.51zM741.42 395.64h1.51V398.18h-1.51zM742.54 294.19h1.51V296.86h-1.51zM743.67 263.7h1.51V266.3h-1.51zM744.8 205.18h1.51V207.85h-1.51zM745.92 240.29h1.51V242.96h-1.51zM748.17 270.32h1.51V273.05h-1.51zM750.43 367.49h1.51V370.22h-1.51zM751.55 261.43h1.51V264.09h-1.51zM752.68 208.66h1.51V211.26h-1.51zM754.93 201.57h1.51V204.31h-1.51zM757.18 344.15h1.51V346.82h-1.51z"/>
<path fill="#78204C" d="M313.59 522.84h1.51V525.51h-1.51zM366.51 528.06h1.51V530.79h-1.51zM499.36 479.04h1.51V481.77h-1.51zM500.48 451.75h1.51V454.42h-1.51zM508.36 373.64h1.51V376.38h-1.51zM511.74 441.19h1.51V443.85h-1.51zM525.25 462.99h1.51V465.72h-1.51zM559.03 523.98h1.51V526.71h-1.51zM642.34 502.64h1.51V505.38h-1.51zM650.22 474.62h1.51V477.36h-1.51zM654.73 514.15h1.51V516.88h-1.51zM662.61 519.43h1.51V522.16h-1.51zM665.99 496.42h1.51V499.16h-1.51zM670.49 524.78h1.51V527.51h-1.51zM678.37 526.45h1.51V529.18h-1.51zM722.28 457.17h1.51V459.9h-1.51zM723.4 447.87h1.51V450.61h-1.51zM726.78 449.41h1.51V452.14h-1.51zM731.29 466.73h1.51V469.46h-1.51zM734.66 351.71h1.51V354.44h-1.51zM741.42 395.38h1.51V398.11h-1.51zM744.8 205.05h1.51V207.72h-1.51zM748.17 270.25h1.51V272.99h-1.51zM751.55 261.29h1.51V264.02h-1.51zM754.93 201.51h1.51V204.24h-1.51z"/>
</g>
<g class="title" role="heading" aria-label="東京都のCOVID-19新規陽性者数"><text class="t" font-size="38" x="135.5" y="52.2">東京都の</text><text class="t" font-size="38" transform="translate(286.2 52.2) scale(0.8364 1)">COVID-19</text><text class="t" font-size="38" x="439.5" y="52.2">新規陽性者数</text></g>
<g class="legend">
<rect x="53" y="70" width="21" height="21" fill="#FDBE25"/>
<g aria-label="10歳未満"><text class="l" font-size="13.2" transform="translate(87.5 85.3) scale(0.8838 1)">10</text><text class="l" font-size="15" x="101.5" y="85.3">歳未満</text></g>
<rect x="166" y="70" width="21" height="21" fill="#FFF432"/>
<g aria-label="10代"><text class="l" font-size="13.2" transform="translate(200.5 85.3) scale(0.8838 1)">10</text><text class="l" font-size="15" x="214.5" y="85.3">代</text></g>
<rect x="249" y="70" width="21" height="21" fill="#D6FC30"/>
<g aria-label="20代"><text class="l" font-size="13.2" transform="translate(283.5 85.3) scale(0.8838 1)">20</text><text class="l" font-size="15" x="297.5" y="85.3">代</text></g>
<rect x="332" y="70" width="21" height="21" fill="#78F83E"/>
<g aria-label="30代"><text class="l" font-size="13.2" transform="translate(366.5 85.3) scale(0.8838 1)">30</text><text class="l" font-size="15" x="380.5" y="85.3">代</text></g>
<rect x="415" y="70" width="21" height="21" fill="#39F357"/>
<g aria-label="40代"><text class="l" font-size="13.2" transform="translate(449.5 85.3) scale(0.8838 1)">40</text><text class="l" font-size="15" x="463.5" y="85.3">代</text></g>
<rect x="498" y="70" width="21" height="21" fill="#3CEAA6"/>
<g aria-label="50代"><text class="l" font-size="13.2" transform="translate(532.5 85.3) scale(0.8838 1)">50</text><text class="l" font-size="15" x="546.5" y="85.3">代</text></g>
<rect x="581" y="70" width="21" height="21" fill="#3CCDDB"/>
<g aria-label="60代"><text class="l" font-size="13.2" transform="translate(615.5 85.3) scale(0.8838 1)">60</text><text class="l" font-size="15" x="629.5" y="85.3">代</text></g>
<rect x="664" y="70" width="21" height="21" fill="#3973D3"/>
<g aria-label="70代"><text class="l" font-size="13.2" transform="translate(698.5 85.3) scale(0.8838 1)">70</text><text class="l" font-size="15" x="712.5" y="85.3">代</text></g>
<rect x="215" y="110" width="21" height="21" fill="#3830BF"/>
<g aria-label="80代"><text class="l" font-size="13.2" transform="translate(249.5 125.3) scale(0.8838 1)">80</text><text class="l" font-size="15" x="263.5" y="125.3">代</text></g>
<rect x="298" y="110" width="21" height="21" fill="#6E2AA6"/>
<g aria-label="90代"><text class="l" font-size="13.2" transform="translate(332.5 125.3) scale(0.8838 1)">90</text><text class="l" font-size="15" x="346.5" y="125.3">代</text></g>
<rect x="381" y="110" width="21" height="21" fill="#9A2897"/>
<g aria-label="100歳以上"><text class="l" font-size="13.2" transform="translate(415.5 125.3) scale(0.8838 1)">100</text><text class="l" font-size="15" x="436.5" y="125.3">歳以上</text></g>
<rect x="501" y="110" width="21" height="21" fill="#78204C"/>
<g aria-label="不明"><text class="l" font-size="15" x="535.5" y="125.3">不明</text></g>
</g>
<g class="yl">
<text text-anchor="end" font-size="21.2" transform="translate(88.9 548.5) scale(0.8648 1)">0</text>
<text text-anchor="end" font-size="21.2" transform="translate(88.9 454.88) scale(0.8648 1)">1,400</text>
<text text-anchor="end" font-size="21.2" transform="translate(88.9 361.25) scale(0.8648 1)">2,800</text>
<text text-anchor="end" font-size="21.2" transform="translate(88.9 267.62) scale(0.8648 1)">4,200</text>
<text text-anchor="end" font-size="21.2" transform="translate(88.9 174) scale(0.8648 1)">5,600</text>
</g>
<g class="xl">
<text text-anchor="middle" font-size="21.2" transform="translate(161.3 576.2) scale(0.8648 1)">3/5</text>
<text text-anchor="middle" font-size="21.2" transform="translate(189.45 576.2) scale(0.8648 1)">3/30</text>
<text text-anchor="middle" font-size="21.2" transform="translate(217.59 576.2) scale(0.8648 1)">4/24</text>
<text text-anchor="middle" font-size="21.2" transform="translate(245.74 576.2) scale(0.8648 1)">5/19</text>
<text text-anchor="middle" font-size="21.2" transform="translate(273.89 576.2) scale(0.8648 1)">6/13</text>
<text text-anchor="middle" font-size="21.2" transform="translate(302.03 576.2) scale(0.8648 1)">7/8</text>
<text text-anchor="middle" font-size="21.2" transform="translate(330.18 576.2) scale(0.8648 1)">8/2</text>
<text text-anchor="middle" font-size="21.2" transform="translate(358.33 576.2) scale(0.8648 1)">8/27</text>
<text text-anchor="middle" font-size="21.2" transform="translate(386.47 576.2) scale(0.8648 1)">9/21</text>
<text text-anchor="middle" font-size="21.2" transform="translate(414.62 576.2) scale(0.8648 1)">10/16</text>
<text text-anchor="middle" font-size="21.2" transform="translate(442.77 576.2) scale(0.8648 1)">11/10</text>
<text text-anchor="middle" font-size="21.2" transform="translate(470.91 576.2) scale(0.8648 1)">12/5</text>
<text text-anchor="middle" font-size="21.2" transform="translate(499.06 576.2) scale(0.8648 1)">12/30</text>
<text text-anchor="middle" font-size="21.2" transform="translate(527.2 576.2) scale(0.8648 1)">1/24</text>
<text text-anchor="middle" font-size="21.2" transform="translate(555.35 576.2) scale(0.8648 1)">2/18</text>
<text text-anchor="middle" font-size="21.2" transform="translate(583.5 576.2) scale(0.8648 1)">3/15</text>
<text text-anchor="middle" font-size="21.2" transform="translate(611.64 576.2) scale(0.8648 1)">4/9</text>
<text text-anchor="middle" font-size="21.2" transform="translate(639.79 576.2) scale(0.8648 1)">5/4</text>
<text text-anchor="middle" font-size="21.2" transform="translate(667.94 576.2) scale(0.8648 1)">5/29</text>
<text text-anchor="middle" font-size="21.2" transform="translate(756.88 576.2) scale(0.8648 1)">8/16</text>
</g>
</svg>
</div>
</body>
</html>
